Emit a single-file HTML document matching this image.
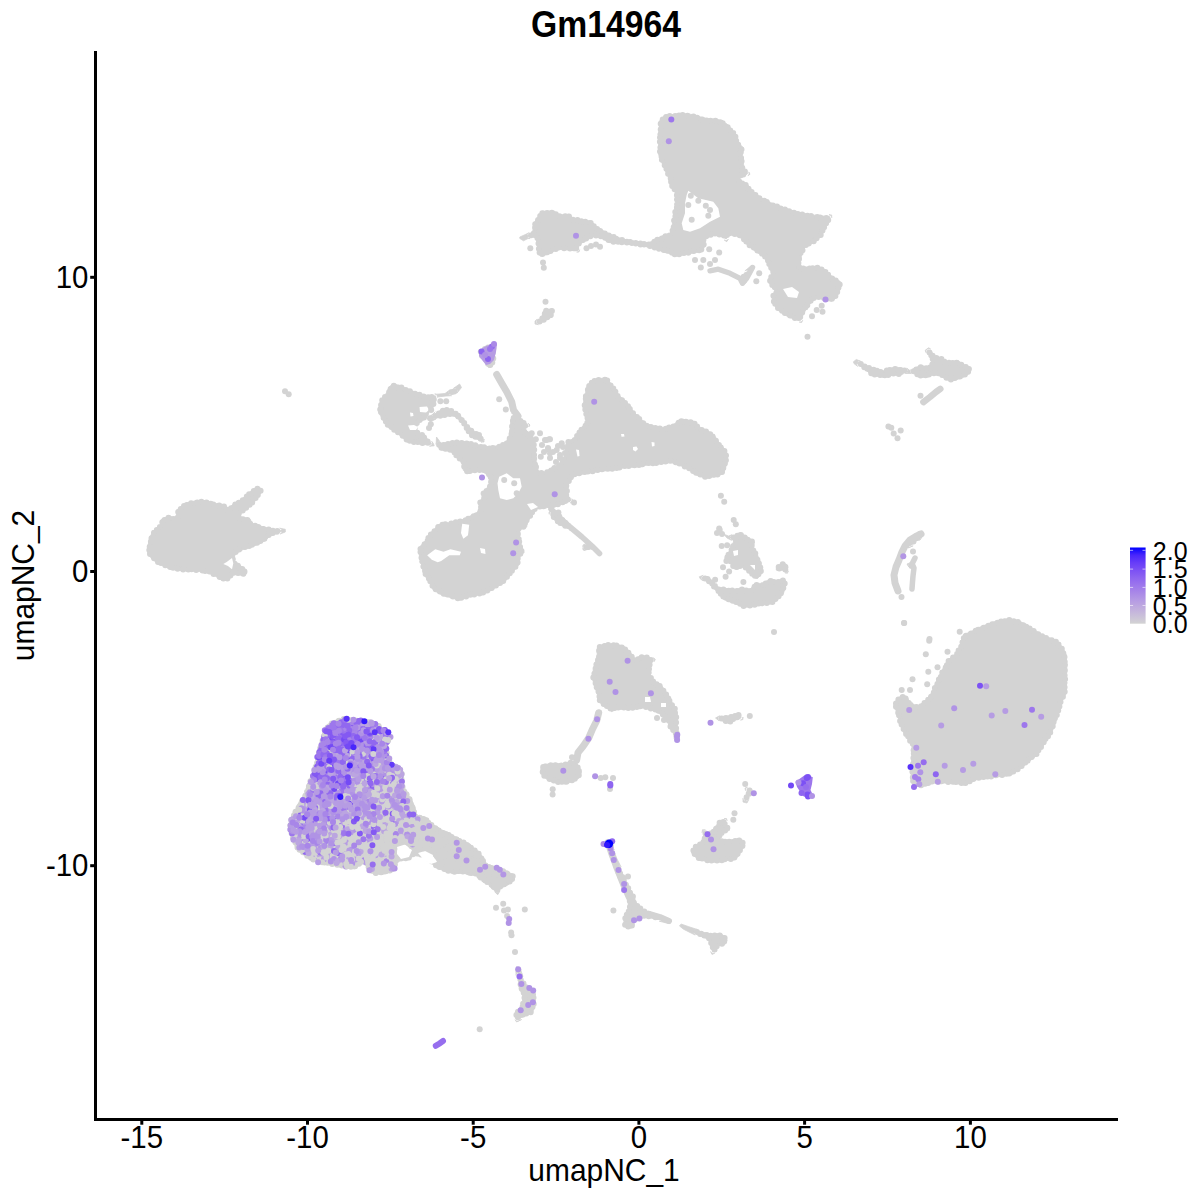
<!DOCTYPE html>
<html><head><meta charset="utf-8"><style>
html,body{margin:0;padding:0;background:#fff;}
svg{display:block;}
text{font-family:"Liberation Sans",sans-serif;}
</style></head><body>
<svg width="1200" height="1200" viewBox="0 0 1200 1200">
<defs>
<linearGradient id="lg" x1="0" y1="1" x2="0" y2="0">
<stop offset="0.00" stop-color="#d3d3d3"/>
<stop offset="0.10" stop-color="#cac0d9"/>
<stop offset="0.20" stop-color="#c1aede"/>
<stop offset="0.30" stop-color="#b69ce3"/>
<stop offset="0.40" stop-color="#aa89e7"/>
<stop offset="0.50" stop-color="#9d77ec"/>
<stop offset="0.60" stop-color="#8e65f0"/>
<stop offset="0.70" stop-color="#7c51f4"/>
<stop offset="0.80" stop-color="#673df8"/>
<stop offset="0.90" stop-color="#4926fb"/>
<stop offset="1.00" stop-color="#0000ff"/>
</linearGradient>
</defs>
<rect width="1200" height="1200" fill="#fff"/>
<g fill="#d3d3d3" stroke="#d3d3d3" stroke-width="0.8" stroke-linejoin="round">
<polygon points="522.4,237.9 523.6,238.6 527.1,236.8 527.3,236.7 527.5,236.7 527.6,236.6 527.8,236.6 528.0,236.6 534.0,236.6 534.2,236.6 534.4,236.6 534.5,236.7 534.7,236.7 534.9,236.8 535.0,236.9 535.2,237.0 535.3,237.1 535.4,237.2 535.5,237.4 535.6,237.5 535.7,237.7 535.8,237.9 535.8,238.0 537.3,244.0 537.4,244.2 537.4,244.4 538.1,254.0 540.5,256.0 546.9,254.7 554.2,251.1 554.4,251.0 558.9,249.5 559.1,249.4 559.3,249.4 559.4,249.4 559.6,249.4 570.1,250.1 577.5,250.1 578.7,245.5 578.7,245.4 578.8,245.2 578.9,245.0 579.0,244.9 579.1,244.7 579.2,244.6 579.4,244.5 579.5,244.4 587.0,239.9 587.2,239.8 593.2,236.8 593.3,236.7 593.5,236.7 593.7,236.6 593.8,236.6 594.0,236.6 594.2,236.6 594.4,236.6 601.9,238.1 602.1,238.2 602.3,238.3 602.5,238.4 609.6,242.6 621.1,243.4 621.1,243.4 630.1,244.1 630.3,244.1 645.3,246.4 645.5,246.5 654.5,248.7 654.6,248.7 666.6,252.5 666.7,252.5 675.3,256.1 684.7,254.8 692.9,253.1 693.0,253.1 702.0,251.6 704.8,246.2 704.8,240.0 704.8,239.8 704.8,239.6 704.9,239.4 704.9,239.3 705.0,239.1 705.1,238.9 705.2,238.8 705.4,238.6 705.5,238.5 705.7,238.4 705.8,238.3 706.0,238.2 714.3,234.9 714.5,234.9 714.7,234.8 714.9,234.8 715.1,234.8 715.3,234.8 715.4,234.9 722.1,236.5 722.3,236.5 722.5,236.6 722.6,236.6 722.8,236.7 726.2,239.0 728.4,235.7 728.5,235.5 728.6,235.4 728.8,235.2 728.9,235.1 729.1,235.0 729.3,234.9 729.4,234.9 729.6,234.8 729.8,234.8 730.0,234.8 730.2,234.8 730.4,234.8 738.7,236.4 738.8,236.5 739.0,236.5 739.2,236.6 739.4,236.7 739.5,236.8 739.6,237.0 749.5,246.9 756.1,251.8 761.1,255.1 761.2,255.2 761.3,255.4 766.3,260.4 766.5,260.5 766.6,260.6 766.7,260.8 766.7,260.9 766.8,261.1 768.5,266.0 771.7,272.5 771.8,272.6 771.8,272.8 771.9,273.0 771.9,273.1 771.9,273.3 771.9,273.5 771.9,273.7 771.8,273.9 771.8,274.0 771.7,274.2 771.6,274.3 768.6,278.9 768.6,282.6 774.7,289.5 774.8,289.7 774.9,289.9 775.0,290.0 775.1,290.2 775.2,290.4 775.2,290.6 775.2,290.7 775.2,290.9 775.2,291.1 775.1,291.3 775.1,291.5 775.0,291.7 774.9,291.8 774.8,292.0 772.0,295.6 772.6,302.6 778.0,310.3 787.6,316.6 793.8,319.0 800.6,320.3 803.3,314.2 803.4,314.0 808.4,305.7 808.5,305.5 808.7,305.4 815.4,298.7 815.5,298.5 815.6,298.4 815.8,298.3 816.0,298.2 816.2,298.2 816.3,298.1 816.5,298.1 816.7,298.1 816.9,298.1 817.1,298.1 825.4,299.8 825.4,299.9 831.3,301.3 835.3,298.6 839.1,292.5 841.3,285.0 840.1,281.3 832.3,276.6 832.2,276.5 832.1,276.4 831.9,276.3 825.6,269.9 817.9,266.1 810.2,266.9 810.0,266.9 801.7,266.9 801.5,266.9 801.3,266.9 801.2,266.8 801.0,266.8 800.8,266.7 800.6,266.6 800.5,266.5 800.4,266.3 800.2,266.2 800.1,266.1 800.0,265.9 799.9,265.7 799.9,265.6 799.8,265.4 799.8,265.2 799.8,265.0 799.8,264.8 799.8,264.6 801.4,256.3 801.5,256.2 801.5,256.0 804.9,247.6 805.0,247.4 805.1,247.2 805.2,247.1 805.4,246.9 805.5,246.8 805.7,246.7 805.9,246.6 815.6,241.7 821.7,235.6 826.6,225.9 826.7,225.7 826.8,225.6 829.8,221.4 829.8,216.7 814.8,215.2 814.7,215.2 799.7,212.7 799.4,212.6 786.1,208.5 786.0,208.5 772.6,203.5 772.5,203.4 762.5,198.4 762.3,198.3 762.2,198.2 753.9,192.3 753.8,192.2 753.6,192.1 753.5,192.0 747.1,184.0 740.9,180.9 740.7,180.8 740.5,180.7 740.4,180.6 740.3,180.5 740.2,180.3 740.1,180.2 740.0,180.0 739.9,179.8 739.9,179.7 739.8,179.5 739.8,179.3 739.8,179.1 739.8,178.9 739.9,178.7 739.9,178.6 740.0,178.4 740.1,178.2 740.2,178.1 740.3,177.9 740.4,177.8 740.5,177.7 740.7,177.6 740.9,177.5 745.7,175.1 747.5,173.7 744.1,167.6 744.1,167.5 744.0,167.3 743.9,167.1 743.9,167.0 742.3,155.3 742.3,155.0 742.3,154.8 743.0,147.4 738.7,143.0 738.5,142.9 738.4,142.8 738.3,142.6 738.3,142.5 738.2,142.3 738.1,142.1 738.1,142.0 737.4,136.5 733.5,131.2 727.1,124.0 717.8,119.4 706.6,118.6 706.4,118.6 706.2,118.5 691.4,114.4 681.7,113.6 665.8,115.1 659.4,120.9 659.4,125.0 659.4,125.2 658.6,135.1 658.6,154.6 662.5,164.3 668.4,177.5 668.5,177.7 668.5,177.8 670.9,187.4 674.8,192.1 674.9,192.2 675.0,192.4 675.1,192.6 675.1,192.8 675.2,192.9 675.2,193.1 676.1,203.1 676.1,203.3 676.1,203.6 676.0,203.8 674.4,210.4 672.7,222.0 672.7,222.0 671.1,232.0 671.0,232.2 671.0,232.4 670.9,232.5 670.8,232.7 670.7,232.8 670.6,233.0 670.5,233.1 670.3,233.2 670.2,233.3 670.0,233.4 669.8,233.5 669.7,233.5 664.7,234.8 657.6,238.4 657.5,238.4 648.8,242.7 648.7,242.8 648.5,242.8 648.3,242.9 648.2,242.9 648.0,242.9 647.8,242.9 637.3,241.9 637.2,241.9 628.2,240.4 628.0,240.3 617.5,237.3 617.3,237.2 606.8,232.7 606.5,232.6 599.0,228.1 599.0,228.1 593.0,224.4 592.9,224.3 592.7,224.2 592.6,224.1 592.5,224.0 592.4,223.8 592.3,223.7 592.2,223.5 591.2,220.8 583.4,220.2 583.1,220.2 572.6,217.9 572.4,217.8 572.2,217.7 572.1,217.7 571.9,217.6 571.8,217.5 571.6,217.3 571.5,217.2 569.1,214.3 559.6,214.9 559.4,214.9 559.3,214.9 559.1,214.9 558.9,214.8 558.8,214.7 558.6,214.7 558.4,214.6 558.3,214.5 554.3,211.2 542.4,211.2 537.8,217.1 533.6,223.4 532.9,231.9 532.9,232.1 532.8,232.2 532.8,232.4 532.7,232.6 532.6,232.8 532.5,232.9 532.3,233.1 532.2,233.2 532.0,233.3 531.8,233.4 525.8,236.4 525.8,236.4 522.4,237.9"/>
<polygon points="530.1,235.5 534.0,235.5 534.3,235.5 534.6,235.6 534.8,235.6 535.1,235.7 535.4,235.8 535.6,236.0 535.8,236.1 536.1,236.3 536.3,236.5 536.4,236.7 536.6,237.0 536.7,237.2 536.8,237.5 536.9,237.8 538.4,243.8 538.5,244.0 538.5,244.3 539.2,253.5 540.8,254.8 546.5,253.6 553.7,250.1 554.1,250.0 558.6,248.5 558.8,248.4 559.1,248.3 559.4,248.3 559.7,248.3 570.1,249.0 576.7,249.0 577.6,245.3 577.7,245.0 577.8,244.7 577.9,244.5 578.1,244.2 578.3,244.0 578.5,243.8 578.7,243.6 579.0,243.4 586.5,238.9 586.7,238.8 592.7,235.8 592.9,235.7 593.2,235.6 593.5,235.5 593.7,235.5 594.0,235.5 594.3,235.5 594.6,235.6 602.1,237.1 602.4,237.1 602.7,237.3 603.0,237.4 609.9,241.6 621.2,242.3 621.2,242.3 630.2,243.0 630.5,243.0 645.5,245.3 645.7,245.4 654.7,247.6 654.9,247.6 666.9,251.4 667.1,251.5 675.4,254.9 684.5,253.7 692.7,252.1 692.8,252.0 701.3,250.6 703.7,246.0 703.7,240.0 703.7,239.7 703.8,239.4 703.8,239.1 703.9,238.8 704.1,238.6 704.2,238.3 704.4,238.1 704.6,237.9 704.8,237.7 705.1,237.5 705.3,237.3 705.6,237.2 713.9,233.9 714.2,233.8 714.5,233.7 714.8,233.7 715.1,233.7 715.4,233.7 715.7,233.8 722.4,235.4 722.7,235.5 722.9,235.6 723.2,235.7 723.4,235.8 725.9,237.5 727.5,235.0 727.7,234.8 727.9,234.6 728.1,234.4 728.3,234.2 728.6,234.1 728.8,233.9 729.1,233.8 729.4,233.8 729.7,233.7 730.0,233.7 730.3,233.7 730.6,233.8 738.9,235.4 739.2,235.4 739.4,235.5 739.7,235.7 740.0,235.8 740.2,236.0 740.4,236.2 750.3,246.0 756.7,250.9 761.7,254.2 761.9,254.4 762.1,254.6 767.1,259.6 767.3,259.8 767.5,260.0 767.6,260.2 767.7,260.5 767.8,260.7 769.5,265.5 772.7,272.0 772.8,272.2 772.9,272.5 773.0,272.8 773.0,273.1 773.0,273.3 773.0,273.6 772.9,273.9 772.9,274.2 772.8,274.4 772.6,274.7 772.5,275.0 769.7,279.2 769.7,282.2 775.6,288.8 775.7,289.1 775.9,289.3 776.0,289.6 776.1,289.8 776.2,290.1 776.3,290.4 776.3,290.7 776.3,291.0 776.3,291.3 776.2,291.6 776.1,291.9 776.0,292.2 775.8,292.4 775.7,292.7 773.1,295.9 773.7,302.2 778.8,309.5 788.1,315.6 794.1,317.9 799.9,319.1 802.3,313.8 802.4,313.5 807.4,305.2 807.6,304.9 807.9,304.6 814.6,297.9 814.8,297.7 815.0,297.5 815.3,297.4 815.6,297.2 815.8,297.1 816.1,297.1 816.4,297.0 816.7,297.0 817.0,297.0 817.3,297.1 825.6,298.8 825.7,298.8 831.1,300.1 834.5,297.9 838.0,292.1 840.2,285.0 839.2,282.0 831.8,277.6 831.6,277.4 831.4,277.3 831.2,277.1 824.9,270.8 817.7,267.3 810.3,268.0 810.0,268.0 801.7,268.0 801.4,268.0 801.1,267.9 800.8,267.9 800.6,267.8 800.3,267.6 800.0,267.5 799.8,267.3 799.6,267.1 799.4,266.9 799.2,266.7 799.1,266.4 798.9,266.2 798.8,265.9 798.8,265.6 798.7,265.3 798.7,265.0 798.7,264.7 798.8,264.4 800.4,256.1 800.4,255.8 800.5,255.6 803.9,247.2 804.0,246.9 804.2,246.6 804.4,246.4 804.6,246.2 804.8,245.9 805.1,245.8 805.4,245.6 814.9,240.8 820.8,234.9 825.6,225.4 825.7,225.1 825.9,224.9 828.7,221.0 828.7,217.7 814.7,216.3 814.5,216.3 799.5,213.8 799.1,213.7 785.8,209.6 785.7,209.5 772.3,204.5 772.0,204.4 762.0,199.4 761.8,199.3 761.6,199.1 753.3,193.2 753.0,193.1 752.8,192.9 752.7,192.7 746.4,184.9 740.4,181.9 740.1,181.7 739.9,181.6 739.6,181.4 739.4,181.2 739.3,181.0 739.1,180.7 739.0,180.5 738.9,180.2 738.8,179.9 738.7,179.6 738.7,179.3 738.7,179.1 738.7,178.8 738.8,178.5 738.9,178.2 739.0,177.9 739.1,177.7 739.3,177.4 739.4,177.2 739.6,177.0 739.9,176.8 740.1,176.7 740.4,176.5 745.1,174.1 746.1,173.4 743.2,168.2 743.1,167.9 743.0,167.7 742.9,167.4 742.8,167.1 741.2,155.4 741.2,155.1 741.2,154.7 741.9,147.8 737.9,143.8 737.7,143.6 737.5,143.4 737.4,143.2 737.3,142.9 737.2,142.6 737.1,142.4 737.0,142.1 736.3,136.9 732.7,131.9 726.4,124.9 717.5,120.5 706.5,119.7 706.2,119.7 705.9,119.6 691.2,115.5 681.7,114.7 666.3,116.2 660.5,121.3 660.5,125.0 660.5,125.2 659.7,135.1 659.7,154.4 663.6,163.8 669.4,177.1 669.5,177.3 669.6,177.6 671.9,186.9 675.6,191.4 675.8,191.6 676.0,191.9 676.1,192.2 676.2,192.4 676.2,192.7 676.3,193.0 677.2,203.0 677.2,203.4 677.2,203.7 677.1,204.0 675.4,210.6 673.8,222.1 673.8,222.2 672.2,232.2 672.1,232.5 672.0,232.7 671.9,233.0 671.8,233.3 671.6,233.5 671.4,233.7 671.2,233.9 671.0,234.1 670.7,234.3 670.5,234.4 670.2,234.5 669.9,234.6 665.1,235.8 658.1,239.4 658.0,239.4 649.3,243.7 649.1,243.8 648.8,243.9 648.5,244.0 648.3,244.0 648.0,244.0 647.7,244.0 637.2,243.0 637.0,243.0 628.0,241.5 627.7,241.4 617.2,238.4 616.8,238.3 606.3,233.8 606.0,233.6 598.5,229.1 598.4,229.1 592.4,225.4 592.2,225.2 592.0,225.0 591.8,224.8 591.6,224.6 591.5,224.4 591.3,224.2 591.2,223.9 590.4,221.8 583.3,221.3 582.9,221.2 572.4,218.9 572.1,218.9 571.8,218.8 571.6,218.6 571.3,218.5 571.1,218.3 570.9,218.1 570.7,217.9 568.6,215.4 559.7,216.0 559.4,216.0 559.1,216.0 558.9,215.9 558.6,215.9 558.3,215.8 558.1,215.6 557.8,215.5 557.6,215.3 553.9,212.3 543.0,212.3 538.7,217.7 534.7,223.8 534.0,232.0 533.9,232.3 533.9,232.6 533.8,232.9 533.6,233.1 533.5,233.4 533.3,233.6 533.1,233.9 532.9,234.1 532.6,234.2 532.3,234.4 530.1,235.5"/>
<polygon points="519.8,238.5 523.5,240.8 528.0,238.5 530.1,238.5 529.8,238.5 529.5,238.4 529.2,238.4 528.9,238.3 528.7,238.1 528.4,238.0 528.2,237.8 528.0,237.6 527.8,237.4 527.6,237.1 527.4,236.9 527.3,236.6 527.2,236.3 527.2,236.0 527.1,235.7 527.1,235.5 527.1,235.2 527.2,234.9 527.3,234.6 527.4,234.3 527.5,234.0 527.7,233.8 527.8,233.5 528.0,233.3 528.3,233.1 528.5,233.0 528.8,232.8 525.0,234.7 519.8,237.0 519.8,238.5"/>
<polygon points="579.0,252.0 579.6,249.7 579.5,250.0 579.4,250.3 579.2,250.5 579.1,250.8 578.9,251.0 578.7,251.2 578.5,251.4 578.3,251.5 578.0,251.7 577.8,251.8 577.5,251.9 577.2,251.9 576.9,252.0 576.7,252.0 579.0,252.0"/>
<polygon points="726.7,241.7 728.4,239.2 728.2,239.4 728.0,239.6 727.8,239.8 727.5,240.0 727.3,240.2 727.0,240.3 726.7,240.4 726.5,240.5 726.2,240.5 725.9,240.5 725.6,240.5 725.3,240.4 725.0,240.4 724.7,240.3 724.4,240.1 724.2,240.0 726.7,241.7"/>
<polygon points="801.7,322.5 802.7,320.3 802.5,320.5 802.4,320.8 802.2,321.0 802.0,321.2 801.8,321.4 801.6,321.6 801.3,321.7 801.0,321.9 800.8,322.0 800.5,322.0 800.2,322.1 799.9,322.1 799.6,322.1 799.3,322.0 801.7,322.5"/>
<polygon points="831.7,215.0 829.0,214.7 829.3,214.8 829.6,214.8 829.9,214.9 830.1,215.1 830.4,215.2 830.6,215.4 830.8,215.6 831.0,215.8 831.2,216.0 831.3,216.3 831.5,216.6 831.6,216.8 831.6,217.1 831.7,217.4 831.7,217.7 831.7,215.0"/>
<polygon points="750.0,174.2 748.7,171.9 748.9,172.2 749.0,172.4 749.0,172.7 749.1,173.0 749.1,173.3 749.1,173.6 749.1,173.9 749.0,174.1 748.9,174.4 748.8,174.7 748.7,174.9 748.5,175.2 748.3,175.4 748.1,175.6 747.9,175.8 750.0,174.2"/>
<polygon points="742.2,275.7 744.0,281.8 746.3,279.9 748.7,270.2 742.2,275.7"/>
<polygon points="743.4,276.0 744.6,279.9 745.3,279.3 746.9,273.2 743.4,276.0"/>
<polygon points="743.0,285.0 746.5,282.2 746.2,282.4 746.0,282.5 745.7,282.7 745.4,282.8 745.2,282.8 744.9,282.9 744.6,282.9 744.3,282.9 744.0,282.8 743.7,282.7 743.4,282.6 743.2,282.5 742.9,282.4 742.7,282.2 742.5,282.0 742.3,281.8 742.1,281.5 741.9,281.3 741.8,281.0 741.7,280.7 743.0,285.0"/>
<polygon points="752.0,265.0 744.9,270.9 745.2,270.7 745.4,270.6 745.7,270.4 745.9,270.3 746.2,270.3 746.5,270.2 746.8,270.2 747.1,270.2 747.4,270.2 747.7,270.3 747.9,270.4 748.2,270.5 748.5,270.6 748.7,270.8 748.9,271.0 749.1,271.2 749.3,271.4 749.5,271.7 749.6,271.9 749.7,272.2 749.8,272.5 749.8,272.8 749.9,273.1 749.9,273.3 749.8,273.6 749.8,273.9 752.0,265.0"/>
<polygon points="544.3,309.8 540.8,318.7 540.7,318.9 540.6,319.0 540.5,319.2 540.4,319.3 540.3,319.4 540.1,319.5 536.9,321.9 536.9,322.4 539.7,323.0 549.2,318.3 549.3,318.2 552.1,317.2 552.1,314.0 552.1,313.8 552.1,313.6 552.2,313.5 552.2,313.3 552.3,313.2 553.7,310.3 552.3,308.6 548.4,309.4 548.2,309.4 544.3,309.8"/>
<polygon points="539.0,321.7 539.6,321.9 548.7,317.3 548.9,317.2 551.0,316.4 551.0,314.0 551.0,313.7 551.1,313.4 551.1,313.2 551.2,312.9 551.3,312.7 552.4,310.4 551.9,309.8 548.6,310.4 548.3,310.5 545.1,310.8 541.8,319.1 541.7,319.4 541.5,319.6 541.4,319.8 541.2,320.0 541.0,320.2 540.8,320.4 539.0,321.7"/>
<polygon points="535.0,321.0 535.0,324.0 538.4,324.7 538.1,324.6 537.8,324.5 537.6,324.4 537.3,324.2 537.1,324.0 536.9,323.8 536.7,323.6 536.5,323.4 536.3,323.1 536.2,322.8 536.1,322.6 536.1,322.3 536.0,322.0 536.0,321.7 536.0,321.4 536.1,321.1 536.2,320.8 536.3,320.5 536.4,320.2 536.6,320.0 536.8,319.7 537.0,319.5 537.2,319.3 535.0,321.0"/>
<polygon points="479.5,350.9 479.9,354.5 481.6,357.9 485.3,361.7 485.5,361.8 485.6,362.0 485.7,362.2 488.2,367.2 490.4,367.5 493.3,365.0 494.6,359.8 494.1,354.2 494.1,354.0 494.1,350.0 494.1,349.8 494.1,349.6 494.2,349.4 494.3,349.3 494.3,349.1 496.1,345.8 494.4,344.1 490.6,344.8 483.9,347.7 479.5,350.9"/>
<polygon points="480.7,351.4 480.9,354.2 482.5,357.2 486.1,360.9 486.3,361.1 486.5,361.4 486.7,361.7 489.0,366.2 490.0,366.4 492.3,364.4 493.5,359.8 493.0,354.2 493.0,354.0 493.0,350.0 493.0,349.7 493.1,349.4 493.1,349.1 493.2,348.8 493.4,348.5 494.8,346.0 494.0,345.3 490.9,345.9 484.5,348.6 480.7,351.4"/>
<polygon points="147.9,546.2 147.9,553.4 152.0,559.3 159.6,564.3 169.8,568.9 182.8,570.8 190.7,570.8 190.8,570.8 200.1,571.4 200.3,571.4 200.4,571.4 209.7,573.4 209.9,573.5 210.0,573.5 210.1,573.6 215.5,576.3 215.7,576.4 223.0,580.7 229.5,579.0 231.7,575.7 231.8,575.5 231.9,575.4 232.1,575.2 232.2,575.1 232.4,575.0 232.6,574.9 232.7,574.9 232.9,574.8 233.1,574.8 233.3,574.8 238.7,574.8 238.9,574.8 239.1,574.8 244.6,575.9 246.7,573.4 246.2,569.8 237.7,563.6 235.2,562.4 235.0,562.3 234.8,562.2 234.7,562.1 234.6,561.9 234.4,561.8 234.3,561.6 234.3,561.5 234.2,561.3 234.1,561.1 234.1,560.9 234.1,560.7 234.1,555.3 234.1,555.1 234.1,554.9 234.2,554.7 234.3,554.6 234.3,554.4 234.4,554.2 234.6,554.1 234.7,553.9 234.8,553.8 235.0,553.7 235.2,553.6 243.2,549.6 243.3,549.5 243.4,549.5 251.4,546.9 256.5,545.0 265.6,540.4 270.7,535.4 270.8,535.2 270.9,535.1 271.1,535.0 271.2,535.0 271.4,534.9 279.4,532.2 283.1,530.8 278.4,529.9 271.8,529.2 271.6,529.2 271.5,529.1 262.2,526.5 262.2,526.5 252.8,523.8 252.6,523.8 252.4,523.7 252.3,523.6 252.1,523.5 252.0,523.4 251.9,523.2 251.7,523.1 251.6,522.9 251.6,522.8 251.5,522.6 250.5,519.5 246.2,517.9 241.1,517.2 240.9,517.2 240.7,517.1 240.5,517.0 240.3,516.9 240.2,516.8 240.0,516.7 239.9,516.6 239.8,516.5 239.7,516.3 239.6,516.1 239.5,516.0 239.5,515.8 239.4,515.6 239.4,515.4 239.4,515.2 239.4,515.0 239.5,514.8 239.5,514.7 239.6,514.5 239.7,514.3 239.8,514.2 239.9,514.0 240.0,513.9 240.2,513.8 245.5,509.8 253.3,503.4 258.4,496.9 261.9,491.1 261.1,488.7 257.4,486.9 251.8,490.2 245.3,496.1 245.2,496.1 239.9,500.7 239.8,500.9 239.6,501.0 233.0,504.3 229.2,507.5 229.1,507.6 228.9,507.7 228.7,507.8 228.6,507.8 228.4,507.9 228.2,507.9 228.0,507.9 227.8,507.9 227.6,507.9 227.4,507.8 227.3,507.8 227.1,507.7 226.9,507.6 226.8,507.5 223.2,504.5 214.4,503.2 214.3,503.1 214.1,503.1 206.4,500.6 196.2,500.6 186.1,503.1 181.1,506.8 181.1,506.8 177.1,509.7 176.6,515.5 176.6,515.7 176.5,515.8 176.5,516.0 176.4,516.2 176.3,516.3 176.2,516.5 176.1,516.6 175.9,516.8 175.8,516.9 175.6,517.0 175.4,517.1 175.3,517.1 175.1,517.2 174.9,517.2 174.7,517.2 174.5,517.2 174.3,517.2 168.3,516.0 161.6,519.3 160.5,523.8 160.5,523.9 160.4,524.1 160.4,524.2 160.3,524.4 160.2,524.5 160.0,524.6 152.3,532.4 149.8,537.3 147.9,546.2"/>
<polygon points="149.0,546.3 149.0,553.1 152.8,558.5 160.1,563.4 170.1,567.8 182.9,569.7 190.7,569.7 190.9,569.7 200.2,570.3 200.4,570.3 200.6,570.4 209.9,572.4 210.2,572.4 210.4,572.5 210.6,572.6 216.0,575.3 216.2,575.4 223.2,579.5 228.8,578.1 230.8,575.1 231.0,574.8 231.2,574.6 231.4,574.4 231.6,574.2 231.9,574.1 232.1,573.9 232.4,573.8 232.7,573.8 233.0,573.7 233.3,573.7 238.7,573.7 239.0,573.7 239.3,573.8 244.2,574.7 245.6,573.1 245.2,570.4 237.2,564.6 234.7,563.4 234.4,563.3 234.2,563.1 233.9,562.9 233.7,562.7 233.5,562.4 233.4,562.2 233.2,561.9 233.1,561.6 233.1,561.3 233.0,561.0 233.0,560.7 233.0,555.3 233.0,555.0 233.1,554.7 233.1,554.4 233.2,554.1 233.4,553.9 233.5,553.6 233.7,553.4 233.9,553.1 234.1,552.9 234.4,552.8 234.7,552.6 242.7,548.6 242.9,548.5 243.1,548.4 251.0,545.9 256.1,543.9 264.9,539.5 269.9,534.6 270.1,534.4 270.3,534.2 270.5,534.1 270.8,534.0 271.0,533.9 279.0,531.2 279.1,531.1 278.3,531.0 271.7,530.3 271.4,530.2 271.2,530.2 261.9,527.6 261.9,527.6 252.5,524.9 252.2,524.8 251.9,524.7 251.7,524.5 251.4,524.4 251.2,524.2 251.0,523.9 250.8,523.7 250.7,523.5 250.6,523.2 250.4,522.9 249.6,520.3 246.0,518.9 240.9,518.3 240.6,518.2 240.3,518.1 240.1,518.0 239.8,517.9 239.5,517.7 239.3,517.6 239.1,517.3 238.9,517.1 238.7,516.9 238.6,516.6 238.5,516.3 238.4,516.1 238.3,515.8 238.3,515.5 238.3,515.2 238.3,514.9 238.4,514.6 238.5,514.3 238.6,514.0 238.7,513.8 238.9,513.5 239.1,513.3 239.3,513.1 239.5,512.9 244.9,508.9 252.5,502.6 257.5,496.3 260.7,490.9 260.2,489.4 257.5,488.1 252.5,491.1 246.0,496.9 246.0,497.0 240.7,501.6 240.4,501.8 240.1,502.0 233.7,505.2 229.9,508.3 229.7,508.5 229.4,508.6 229.2,508.8 228.9,508.9 228.6,508.9 228.3,509.0 228.0,509.0 227.7,509.0 227.4,508.9 227.1,508.9 226.8,508.8 226.6,508.6 226.3,508.5 226.1,508.3 222.7,505.5 214.3,504.3 214.0,504.2 213.8,504.2 206.2,501.7 196.4,501.7 186.6,504.1 181.8,507.7 181.8,507.7 178.2,510.3 177.7,515.6 177.6,515.9 177.6,516.2 177.5,516.4 177.4,516.7 177.2,516.9 177.0,517.2 176.8,517.4 176.6,517.6 176.4,517.8 176.1,517.9 175.9,518.1 175.6,518.2 175.3,518.2 175.0,518.3 174.7,518.3 174.4,518.3 174.1,518.2 168.4,517.1 162.6,520.1 161.6,524.0 161.5,524.3 161.4,524.5 161.3,524.8 161.2,525.0 161.0,525.2 160.8,525.4 153.2,533.1 150.9,537.7 149.0,546.3"/>
<polygon points="285.3,532.0 285.3,529.3 279.7,528.2 280.0,528.3 280.2,528.4 280.5,528.5 280.8,528.6 281.0,528.8 281.2,529.0 281.4,529.2 281.6,529.5 281.8,529.7 281.9,530.0 282.0,530.3 282.0,530.6 282.1,530.9 282.1,531.2 282.1,531.5 282.0,531.8 281.9,532.1 281.8,532.3 281.7,532.6 281.5,532.9 281.4,533.1 281.2,533.3 280.9,533.5 280.7,533.7 280.4,533.8 280.2,533.9 285.3,532.0"/>
<polygon points="378.6,408.4 379.3,413.6 383.3,420.7 388.0,426.9 396.1,432.7 396.2,432.7 403.7,438.5 403.8,438.6 403.9,438.7 404.0,438.9 406.1,441.6 413.6,443.1 423.4,444.8 431.5,444.1 426.8,438.5 420.1,434.6 419.9,434.5 419.7,434.4 419.6,434.3 419.5,434.1 419.4,434.0 416.4,429.0 416.3,428.8 416.2,428.6 416.2,428.5 416.1,428.3 416.1,428.1 416.1,427.9 416.1,427.7 416.2,427.5 416.2,427.3 416.3,427.2 418.3,423.2 418.4,423.0 418.5,422.9 418.6,422.7 418.7,422.6 418.9,422.5 419.0,422.4 419.2,422.3 424.7,419.5 427.2,416.2 428.1,410.5 428.2,410.3 428.2,410.2 428.3,410.0 428.4,409.8 428.5,409.7 428.6,409.5 428.7,409.4 428.8,409.3 429.0,409.2 429.1,409.1 429.3,409.0 432.1,407.9 434.7,404.3 435.6,396.8 435.6,396.6 435.7,396.4 435.8,396.2 435.8,396.1 435.9,396.0 424.9,395.2 424.7,395.2 424.5,395.1 424.4,395.1 412.7,391.0 412.6,391.0 402.6,386.8 393.6,383.8 389.8,386.3 386.7,392.5 386.6,392.7 386.5,392.9 380.9,400.1 378.6,408.4"/>
<polygon points="447.5,394.0 454.1,393.6 459.2,387.3 459.0,386.8 454.4,390.0 454.3,390.1 454.1,390.2 450.0,392.1 447.5,394.0"/>
<polygon points="379.8,408.5 380.4,413.2 384.2,420.1 388.8,426.1 396.7,431.8 396.8,431.8 404.3,437.6 404.5,437.8 404.7,438.0 404.9,438.2 406.7,440.6 413.9,442.1 423.4,443.7 429.3,443.2 426.0,439.3 419.5,435.6 419.3,435.4 419.0,435.2 418.8,435.0 418.6,434.8 418.4,434.5 415.4,429.5 415.3,429.3 415.2,429.0 415.1,428.7 415.0,428.4 415.0,428.1 415.0,427.8 415.0,427.5 415.1,427.2 415.2,426.9 415.3,426.7 417.3,422.7 417.5,422.4 417.6,422.2 417.8,422.0 418.0,421.8 418.2,421.6 418.4,421.5 418.7,421.3 424.0,418.6 426.2,415.8 427.0,410.3 427.1,410.0 427.2,409.8 427.3,409.5 427.4,409.3 427.6,409.0 427.8,408.8 428.0,408.6 428.2,408.4 428.4,408.3 428.6,408.1 428.9,408.0 431.4,407.0 433.6,403.9 434.5,397.0 424.8,396.3 424.5,396.3 424.3,396.2 424.0,396.1 412.3,392.0 412.1,392.0 402.2,387.8 393.7,385.0 390.6,387.1 387.7,393.0 387.5,393.3 387.4,393.5 381.9,400.6 379.8,408.5"/>
<polygon points="451.4,392.7 453.5,392.6 454.6,391.2 454.6,391.2 451.4,392.7"/>
<polygon points="434.2,445.8 433.3,443.3 431.6,441.3 431.8,441.5 431.9,441.8 432.1,442.0 432.2,442.3 432.2,442.6 432.3,442.9 432.3,443.2 432.3,443.5 432.2,443.8 432.2,444.1 432.1,444.3 431.9,444.6 431.8,444.9 431.6,445.1 431.4,445.3 431.2,445.5 430.9,445.7 430.7,445.9 430.4,446.0 430.1,446.1 429.8,446.1 429.5,446.2 434.2,445.8"/>
<polygon points="437.5,397.0 446.0,396.0 451.6,395.7 451.3,395.7 451.0,395.7 450.7,395.6 450.4,395.5 450.1,395.4 449.9,395.3 449.6,395.1 449.4,394.9 449.2,394.7 449.0,394.5 448.8,394.2 448.7,394.0 448.6,393.7 448.5,393.4 448.4,393.1 448.4,392.8 448.4,392.5 448.4,392.3 448.5,392.0 448.6,391.7 448.7,391.4 448.8,391.1 449.0,390.9 449.2,390.7 449.4,390.5 449.6,390.3 449.9,390.1 450.1,390.0 449.0,390.5 445.0,393.5 436.7,394.2 434.7,394.0 435.0,394.1 435.3,394.2 435.6,394.3 435.9,394.4 436.1,394.5 436.4,394.7 436.6,394.9 436.8,395.1 437.0,395.4 437.1,395.6 437.3,395.9 437.4,396.2 437.4,396.5 437.5,396.8 437.5,397.1 437.4,397.4 437.5,397.0"/>
<polygon points="461.5,387.5 459.6,384.0 453.3,388.5 453.5,388.4 453.8,388.3 454.1,388.2 454.4,388.2 454.7,388.2 455.0,388.2 455.2,388.2 455.5,388.3 455.8,388.4 456.1,388.5 456.3,388.7 456.6,388.9 456.8,389.1 457.0,389.3 457.1,389.5 457.3,389.8 457.4,390.0 457.5,390.3 457.6,390.6 457.6,390.9 457.6,391.2 457.6,391.5 457.6,391.8 457.5,392.0 457.4,392.3 457.3,392.6 457.1,392.8 457.0,393.1 461.5,387.5"/>
<polygon points="431.1,417.8 431.4,419.2 435.2,417.3 435.3,417.2 435.5,417.2 435.6,417.1 435.8,417.1 436.0,417.1 443.8,417.1 451.5,415.2 451.7,415.1 451.9,415.1 452.1,415.1 452.3,415.1 452.5,415.2 452.7,415.2 452.9,415.3 453.1,415.4 459.1,419.4 459.2,419.5 459.4,419.7 459.5,419.8 463.5,424.8 463.6,424.9 463.6,425.1 467.6,431.9 471.2,436.5 476.7,439.2 480.2,440.1 482.1,440.1 482.1,437.4 480.6,434.4 475.2,431.7 475.0,431.6 474.8,431.5 468.8,426.5 468.6,426.3 468.5,426.2 460.6,416.3 456.9,412.6 451.4,409.8 445.1,408.5 440.9,409.7 434.2,415.4 434.1,415.5 431.1,417.8"/>
<polygon points="435.1,416.1 435.2,416.1 435.4,416.1 435.7,416.0 436.0,416.0 443.6,416.0 451.3,414.1 451.6,414.0 451.9,414.0 452.2,414.0 452.5,414.0 452.8,414.1 453.1,414.2 453.4,414.3 453.7,414.5 459.7,418.5 459.9,418.7 460.1,418.9 460.3,419.1 464.3,424.1 464.5,424.3 464.6,424.5 468.5,431.3 471.9,435.6 477.0,438.2 480.4,439.0 481.0,439.0 481.0,437.7 479.8,435.2 474.7,432.7 474.4,432.5 474.1,432.3 468.1,427.3 467.9,427.1 467.7,426.9 459.8,417.0 456.2,413.5 451.0,410.9 445.1,409.6 441.5,410.7 435.1,416.1"/>
<polygon points="430.0,422.0 436.0,419.0 435.9,419.0 435.8,419.1 435.5,419.1 435.2,419.1 434.9,419.1 434.6,419.1 434.3,419.0 434.0,418.9 433.8,418.8 433.5,418.7 433.3,418.5 433.1,418.3 432.9,418.1 432.7,417.9 432.5,417.6 432.4,417.4 432.3,417.1 432.2,416.8 432.1,416.5 432.1,416.2 432.1,415.9 432.2,415.6 432.2,415.3 432.3,415.1 432.4,414.8 432.6,414.5 432.8,414.3 433.0,414.1 433.2,413.9 435.3,412.0 433.0,414.0 429.0,417.0 430.0,422.0"/>
<polygon points="484.0,442.0 484.0,439.0 484.0,439.3 483.9,439.6 483.9,439.9 483.8,440.1 483.6,440.4 483.5,440.7 483.3,440.9 483.1,441.1 482.9,441.3 482.7,441.5 482.4,441.6 482.1,441.8 481.9,441.9 481.6,441.9 481.3,442.0 481.0,442.0 484.0,442.0"/>
<polygon points="438.1,442.4 437.9,446.3 441.0,449.9 450.3,451.4 450.5,451.5 450.7,451.5 450.9,451.6 451.0,451.7 451.2,451.8 451.3,452.0 461.3,462.0 461.5,462.1 461.6,462.2 461.7,462.4 461.8,462.6 461.8,462.7 461.9,462.9 463.4,470.5 467.1,473.0 474.7,471.6 474.8,471.6 475.0,471.6 482.0,471.6 482.2,471.6 482.3,471.6 482.5,471.7 482.7,471.7 482.8,471.8 483.0,471.9 483.1,472.0 487.8,475.5 488.0,475.6 488.1,475.7 488.2,475.8 488.3,476.0 488.4,476.1 488.5,476.3 488.5,476.5 488.6,476.6 489.7,482.4 489.7,482.6 489.7,482.8 489.7,483.0 489.7,483.2 489.6,483.4 489.5,483.6 489.4,483.8 485.9,489.7 485.8,489.8 485.7,490.0 485.6,490.1 485.5,490.2 481.8,493.0 482.6,496.4 482.7,496.5 482.7,496.7 482.7,496.9 482.7,497.1 482.6,497.3 482.6,497.4 482.5,497.6 482.4,497.8 482.3,497.9 479.2,502.1 479.2,508.5 479.2,508.7 479.2,508.9 479.1,509.0 479.1,509.2 479.0,509.4 478.9,509.5 476.6,513.0 476.5,513.2 476.3,513.3 476.2,513.5 476.0,513.6 475.9,513.7 475.7,513.8 470.0,516.0 463.0,519.5 462.9,519.6 462.7,519.6 462.6,519.7 456.7,520.9 449.8,522.6 449.6,522.7 449.4,522.7 442.7,523.2 437.7,525.3 433.3,530.7 433.1,530.9 433.0,531.0 428.7,534.2 425.4,540.8 425.3,541.0 425.2,541.2 425.0,541.3 420.6,545.8 418.7,549.6 419.7,558.3 422.0,566.3 422.0,566.3 424.2,575.3 428.7,580.8 428.8,581.0 428.9,581.2 433.2,589.9 440.8,594.3 452.2,598.3 459.7,599.8 469.7,596.5 469.9,596.4 481.5,594.2 490.4,590.8 497.2,586.2 497.5,586.1 504.1,582.8 508.5,577.3 513.2,571.5 513.2,571.5 518.7,564.9 519.8,557.2 519.9,557.0 519.9,556.8 520.0,556.7 520.1,556.5 520.2,556.3 520.3,556.2 524.0,552.4 521.1,545.5 521.0,545.3 520.9,545.1 520.9,545.0 519.8,536.8 519.8,536.5 519.8,530.7 519.8,530.5 519.8,530.3 519.9,530.2 519.9,530.0 520.0,529.8 520.1,529.7 520.2,529.5 520.3,529.4 520.5,529.3 520.6,529.1 520.8,529.1 520.9,529.0 521.1,528.9 526.8,526.9 526.8,523.7 526.8,523.5 526.8,523.3 526.9,523.2 526.9,523.0 527.0,522.8 527.1,522.7 531.7,515.7 531.8,515.6 536.8,508.9 536.9,508.7 537.0,508.6 537.2,508.5 537.4,508.3 537.5,508.3 537.7,508.2 537.9,508.1 538.1,508.1 538.3,508.1 546.2,508.1 549.1,506.6 549.3,506.5 549.5,506.5 549.6,506.4 549.8,506.4 550.0,506.4 556.3,506.4 566.0,502.4 566.0,502.4 570.7,500.7 568.3,495.8 568.2,495.7 568.2,495.5 568.1,495.3 568.1,495.2 568.1,495.0 568.1,485.0 568.1,484.8 568.1,484.6 568.2,484.4 568.3,484.2 568.3,484.1 568.5,483.9 573.5,476.9 573.6,476.7 573.7,476.6 573.9,476.5 574.0,476.4 574.2,476.3 574.4,476.2 574.5,476.2 586.5,473.2 586.8,473.1 598.8,471.6 598.8,471.6 612.2,470.1 622.6,467.9 622.9,467.9 634.8,467.1 643.7,465.6 643.8,465.6 655.8,464.1 655.9,464.1 664.8,463.4 670.7,462.6 670.9,462.6 671.1,462.6 671.3,462.6 671.4,462.7 671.6,462.7 680.6,465.7 680.8,465.8 689.8,470.3 690.0,470.4 690.1,470.5 695.9,474.8 705.7,478.3 717.0,476.2 723.5,473.6 726.2,465.5 727.6,457.0 726.2,450.4 720.7,444.8 720.5,444.7 720.4,444.6 714.6,435.8 709.0,431.6 700.2,427.2 700.0,427.1 699.8,427.0 699.7,426.8 694.1,421.3 683.2,419.3 677.9,421.2 672.1,425.5 672.0,425.6 671.8,425.7 671.7,425.8 671.5,425.8 671.3,425.9 662.3,427.4 662.1,427.4 661.9,427.4 661.7,427.4 652.7,425.9 652.5,425.8 652.3,425.8 646.3,423.6 646.2,423.5 646.0,423.4 645.9,423.3 645.7,423.2 639.7,417.9 639.7,417.8 633.7,411.8 633.5,411.6 624.6,399.9 618.9,395.5 618.7,395.4 618.6,395.3 618.5,395.1 618.4,395.0 618.3,394.8 615.4,389.0 609.5,381.7 609.4,381.6 607.0,378.0 596.4,378.7 591.2,380.6 587.3,385.8 584.4,397.4 582.9,405.9 584.3,411.5 586.6,420.5 586.7,420.7 586.7,420.9 586.7,421.1 586.7,421.3 586.6,421.4 586.6,421.6 586.5,421.8 586.4,422.0 586.3,422.1 586.2,422.3 580.9,428.3 580.8,428.3 578.1,431.1 575.0,437.5 574.9,437.7 574.8,437.8 574.7,438.0 574.6,438.1 574.5,438.2 574.3,438.3 574.2,438.4 574.0,438.5 566.8,441.3 565.2,455.2 565.2,455.4 565.1,455.6 565.1,455.7 565.0,455.9 564.9,456.0 564.8,456.2 558.2,464.5 558.1,464.6 557.9,464.8 557.7,464.9 557.6,465.0 551.0,468.3 546.0,471.6 545.9,471.7 545.7,471.8 545.5,471.8 545.4,471.9 545.2,471.9 545.0,471.9 540.0,471.9 539.8,471.9 539.6,471.9 539.4,471.8 539.2,471.7 539.1,471.7 538.9,471.6 538.8,471.4 538.6,471.3 538.5,471.2 538.4,471.0 538.3,470.8 538.2,470.7 538.2,470.5 536.5,463.8 536.4,463.6 536.4,463.5 535.6,455.2 535.6,455.0 535.6,445.2 534.1,439.2 530.4,434.7 525.7,431.6 525.5,431.5 525.4,431.4 525.2,431.2 525.1,431.1 525.0,430.9 524.9,430.7 524.9,430.6 524.8,430.4 524.8,430.2 524.8,430.0 524.8,429.8 524.8,429.6 524.9,429.5 524.9,429.3 525.0,429.1 525.1,429.0 527.6,425.2 522.0,419.7 517.3,415.8 514.0,414.2 511.8,417.4 510.2,425.2 510.2,433.3 510.2,433.5 510.2,433.6 510.1,433.8 510.1,434.0 510.0,434.1 506.7,440.8 506.6,441.0 506.5,441.2 506.4,441.3 506.2,441.5 506.0,441.6 501.0,444.9 500.9,445.0 500.7,445.1 500.5,445.1 500.3,445.2 490.3,446.9 490.1,446.9 489.9,446.9 489.7,446.9 479.7,445.2 479.5,445.1 468.0,441.9 456.8,441.1 440.3,443.6 440.1,443.6 439.9,443.6 439.7,443.6 439.5,443.5 439.4,443.5 439.2,443.4 439.0,443.3 438.9,443.2 438.7,443.1 438.6,443.0 438.5,442.8 438.1,442.4"/>
<polygon points="439.1,444.6 439.1,446.0 441.6,448.9 450.5,450.3 450.8,450.4 451.1,450.5 451.4,450.6 451.6,450.8 451.9,451.0 452.1,451.2 462.1,461.2 462.3,461.4 462.5,461.6 462.6,461.9 462.8,462.1 462.9,462.4 462.9,462.7 464.4,469.9 467.3,471.8 474.5,470.5 474.7,470.5 475.0,470.5 482.0,470.5 482.3,470.5 482.5,470.6 482.8,470.6 483.1,470.7 483.3,470.8 483.6,470.9 483.8,471.1 488.5,474.6 488.7,474.8 488.9,475.0 489.1,475.2 489.2,475.4 489.4,475.7 489.5,475.9 489.6,476.2 489.6,476.4 490.7,482.2 490.8,482.5 490.8,482.9 490.8,483.2 490.7,483.5 490.6,483.8 490.5,484.1 490.4,484.3 486.9,490.2 486.7,490.5 486.5,490.7 486.3,490.9 486.1,491.1 483.1,493.4 483.7,496.1 483.8,496.4 483.8,496.7 483.8,497.0 483.8,497.3 483.7,497.5 483.6,497.8 483.5,498.1 483.4,498.3 483.2,498.6 480.3,502.5 480.3,508.5 480.3,508.8 480.2,509.1 480.2,509.4 480.1,509.6 480.0,509.9 479.8,510.1 477.5,513.6 477.3,513.9 477.1,514.1 476.9,514.3 476.6,514.5 476.4,514.7 476.1,514.8 470.4,517.0 463.5,520.5 463.3,520.6 463.1,520.7 462.8,520.7 457.0,521.9 450.0,523.7 449.8,523.8 449.5,523.8 443.0,524.3 438.4,526.2 434.1,531.4 433.9,531.7 433.6,531.9 429.6,535.0 426.4,541.3 426.2,541.6 426.0,541.9 425.8,542.1 421.5,546.5 419.8,549.8 420.7,558.1 423.1,565.9 423.1,566.1 425.3,574.8 429.5,580.1 429.7,580.4 429.9,580.7 434.1,589.2 441.3,593.3 452.5,597.2 459.6,598.7 469.4,595.5 469.7,595.4 481.2,593.1 489.9,589.8 496.6,585.3 497.0,585.1 503.4,581.9 507.7,576.6 512.4,570.8 512.4,570.8 517.7,564.4 518.7,557.1 518.8,556.8 518.9,556.5 519.0,556.2 519.2,555.9 519.3,555.6 519.6,555.4 522.7,552.1 520.0,545.9 519.9,545.6 519.9,545.4 519.8,545.1 518.7,536.9 518.7,536.5 518.7,530.7 518.7,530.4 518.8,530.1 518.8,529.9 518.9,529.6 519.0,529.3 519.2,529.1 519.3,528.8 519.5,528.6 519.7,528.4 520.0,528.3 520.2,528.1 520.5,528.0 520.7,527.9 525.7,526.2 525.7,523.7 525.7,523.4 525.8,523.1 525.8,522.8 525.9,522.6 526.0,522.3 526.2,522.1 530.8,515.1 530.9,514.9 535.9,508.2 536.1,508.0 536.3,507.8 536.6,507.6 536.8,507.4 537.1,507.3 537.4,507.1 537.7,507.1 538.0,507.0 538.3,507.0 546.0,507.0 548.6,505.6 548.9,505.5 549.2,505.4 549.4,505.4 549.7,505.3 550.0,505.3 556.1,505.3 565.6,501.4 565.6,501.4 569.2,500.1 567.3,496.3 567.2,496.1 567.1,495.8 567.1,495.5 567.0,495.3 567.0,495.0 567.0,485.0 567.0,484.7 567.1,484.4 567.1,484.1 567.3,483.8 567.4,483.5 567.6,483.3 572.6,476.3 572.7,476.0 573.0,475.8 573.2,475.6 573.4,475.4 573.7,475.3 574.0,475.2 574.3,475.1 586.3,472.1 586.6,472.0 598.6,470.5 598.7,470.5 612.0,469.0 622.4,466.9 622.8,466.8 634.7,466.0 643.5,464.5 643.6,464.5 655.6,463.0 655.8,463.0 664.7,462.3 670.6,461.5 670.9,461.5 671.1,461.5 671.4,461.5 671.7,461.6 671.9,461.7 680.9,464.7 681.3,464.8 690.3,469.3 690.6,469.4 690.8,469.6 696.4,473.8 705.7,477.2 716.7,475.1 722.6,472.7 725.1,465.3 726.5,457.0 725.2,451.0 719.9,445.6 719.7,445.4 719.5,445.2 713.8,436.6 708.4,432.6 699.7,428.2 699.4,428.0 699.1,427.8 698.9,427.6 693.5,422.3 683.3,420.4 678.4,422.2 672.8,426.4 672.6,426.6 672.3,426.7 672.0,426.8 671.8,426.9 671.5,427.0 662.5,428.5 662.2,428.5 661.8,428.5 661.5,428.5 652.5,427.0 652.2,426.9 652.0,426.8 646.0,424.6 645.7,424.5 645.5,424.4 645.2,424.2 645.0,424.0 639.0,418.7 638.9,418.6 632.9,412.6 632.6,412.3 623.9,400.6 618.2,396.4 618.0,396.2 617.8,396.0 617.6,395.8 617.5,395.6 617.3,395.3 614.5,389.6 608.7,382.4 608.5,382.2 606.5,379.1 596.6,379.8 591.9,381.5 588.3,386.3 585.4,397.6 584.1,405.9 585.4,411.3 587.7,420.3 587.8,420.5 587.8,420.8 587.8,421.1 587.8,421.4 587.7,421.7 587.6,422.0 587.5,422.3 587.4,422.5 587.2,422.8 587.0,423.0 581.7,429.0 581.6,429.1 579.0,431.8 576.0,438.0 575.9,438.2 575.7,438.5 575.5,438.7 575.3,438.9 575.1,439.1 574.9,439.2 574.7,439.4 574.4,439.5 567.8,442.1 566.3,455.3 566.2,455.6 566.2,455.9 566.1,456.1 566.0,456.4 565.8,456.6 565.6,456.9 559.0,465.2 558.8,465.4 558.6,465.6 558.3,465.8 558.1,466.0 551.5,469.3 546.7,472.5 546.4,472.7 546.1,472.8 545.9,472.9 545.6,472.9 545.3,473.0 545.0,473.0 540.0,473.0 539.7,473.0 539.4,472.9 539.1,472.9 538.8,472.8 538.5,472.6 538.3,472.5 538.0,472.3 537.8,472.1 537.6,471.8 537.4,471.6 537.3,471.3 537.2,471.0 537.1,470.7 535.4,464.0 535.3,463.8 535.3,463.6 534.5,455.3 534.5,455.0 534.5,445.4 533.1,439.7 529.7,435.6 525.0,432.5 524.8,432.3 524.6,432.1 524.4,431.9 524.2,431.7 524.1,431.4 523.9,431.2 523.8,430.9 523.8,430.6 523.7,430.3 523.7,430.0 523.7,429.7 523.8,429.4 523.8,429.1 523.9,428.9 524.0,428.6 524.2,428.3 526.1,425.4 521.3,420.5 516.7,416.7 514.3,415.6 512.8,417.9 511.3,425.3 511.3,433.3 511.3,433.6 511.2,433.8 511.2,434.1 511.1,434.4 511.0,434.6 507.7,441.3 507.5,441.6 507.4,441.9 507.1,442.1 506.9,442.3 506.7,442.5 501.7,445.8 501.4,446.0 501.1,446.1 500.8,446.2 500.5,446.3 490.5,448.0 490.2,448.0 489.8,448.0 489.5,448.0 479.5,446.3 479.2,446.2 467.8,443.0 456.8,442.2 440.4,444.7 440.2,444.7 439.9,444.7 439.6,444.7 439.3,444.6 439.1,444.6"/>
<polygon points="436.1,444.4 436.2,444.1 436.2,443.8 436.3,443.5 436.4,443.3 436.6,443.0 436.7,442.7 436.9,442.5 437.2,442.3 437.4,442.1 437.7,442.0 437.9,441.8 438.2,441.7 438.5,441.6 438.8,441.6 439.1,441.6 439.4,441.6 439.7,441.6 440.0,441.7 440.0,441.7 436.5,437.0 436.1,444.4"/>
<polygon points="573.3,501.7 571.8,498.7 572.0,499.0 572.0,499.3 572.1,499.6 572.1,499.9 572.1,500.2 572.1,500.5 572.1,500.7 572.0,501.0 571.9,501.3 571.7,501.6 571.6,501.8 571.4,502.0 571.2,502.3 571.0,502.4 570.7,502.6 570.5,502.8 570.2,502.9 573.3,501.7"/>
<polygon points="530.0,425.0 528.3,423.3 528.5,423.5 528.6,423.7 528.8,424.0 528.9,424.2 529.0,424.5 529.1,424.8 529.1,425.1 529.1,425.4 529.1,425.7 529.1,426.0 529.0,426.2 528.9,426.5 528.8,426.8 528.7,427.0 530.0,425.0"/>
<polygon points="513.3,411.7 511.8,413.9 512.0,413.7 512.2,413.5 512.4,413.3 512.6,413.1 512.9,412.9 513.2,412.8 513.4,412.7 513.7,412.6 514.0,412.6 514.3,412.6 514.6,412.6 514.9,412.6 515.1,412.7 515.4,412.8 515.7,412.9 513.3,411.7"/>
<polygon points="551.1,513.2 551.8,518.0 561.0,525.4 566.4,528.1 570.8,528.1 570.2,524.9 564.7,519.4 558.8,514.5 558.7,514.3 555.6,511.3 551.1,513.2"/>
<polygon points="552.3,513.9 552.8,517.4 561.6,524.5 566.7,527.0 569.5,527.0 569.2,525.4 564.0,520.2 558.1,515.3 557.9,515.1 555.3,512.6 552.3,513.9"/>
<polygon points="549.3,514.3 549.3,514.0 549.3,513.7 549.3,513.4 549.4,513.1 549.5,512.8 549.6,512.5 549.8,512.3 549.9,512.0 550.1,511.8 550.3,511.6 550.6,511.4 550.8,511.2 551.1,511.1 549.0,512.0 549.3,514.3"/>
<polygon points="573.0,530.0 572.4,526.5 572.5,526.8 572.5,527.1 572.4,527.4 572.4,527.7 572.3,527.9 572.2,528.2 572.1,528.5 571.9,528.7 571.7,528.9 571.6,529.2 571.3,529.3 571.1,529.5 570.8,529.7 570.6,529.8 570.3,529.9 570.0,529.9 569.7,530.0 569.5,530.0 573.0,530.0"/>
<polygon points="584.9,546.3 584.9,548.4 587.7,549.0 591.2,547.3 589.3,544.4 584.9,546.3"/>
<polygon points="586.0,547.0 586.0,547.5 587.6,547.9 589.6,546.8 588.9,545.7 586.0,547.0"/>
<polygon points="583.0,547.0 583.0,546.7 583.1,546.4 583.1,546.1 583.2,545.8 583.3,545.6 583.5,545.3 583.7,545.1 583.9,544.9 584.1,544.7 584.3,544.5 584.6,544.3 584.8,544.2 587.7,543.0 588.0,542.9 588.3,542.8 588.6,542.8 588.9,542.7 589.2,542.8 589.5,542.8 589.7,542.9 590.0,543.0 590.3,543.1 590.5,543.2 590.8,543.4 591.0,543.6 591.2,543.8 591.4,544.1 592.1,545.2 592.3,545.4 592.4,545.7 592.5,546.0 592.6,546.3 592.6,546.6 592.6,546.9 592.6,547.2 592.6,547.5 592.5,547.8 592.4,548.0 592.2,548.3 592.1,548.6 591.9,548.8 591.7,549.0 591.5,549.2 591.2,549.4 591.0,549.5 594.0,548.0 590.0,542.0 583.0,545.0 583.0,547.0"/>
<polygon points="583.0,550.0 585.4,550.5 585.1,550.4 584.8,550.3 584.6,550.2 584.3,550.0 584.1,549.9 583.9,549.7 583.7,549.4 583.5,549.2 583.4,549.0 583.2,548.7 583.1,548.4 583.1,548.1 583.0,547.8 583.0,547.5 583.0,550.0"/>
<polygon points="855.6,362.5 859.8,365.6 865.6,369.6 865.7,369.7 865.8,369.8 870.2,374.1 876.6,376.3 884.2,377.4 893.2,375.2 893.5,375.1 893.7,375.1 893.9,375.1 900.0,375.6 904.0,372.1 904.2,372.0 904.4,371.9 904.5,371.8 904.7,371.7 904.9,371.6 905.1,371.6 905.3,371.6 908.2,371.6 904.5,368.9 897.1,367.2 888.4,368.3 884.0,370.5 883.9,370.6 883.7,370.6 883.5,370.7 883.4,370.7 883.2,370.7 883.0,370.7 882.8,370.7 882.7,370.6 876.8,368.9 869.8,367.1 869.7,367.1 869.5,367.0 861.5,363.6 856.6,361.7 855.6,362.5"/>
<polygon points="911.6,371.6 911.7,371.7 911.9,371.7 912.1,371.8 912.2,371.9 912.4,372.0 916.7,375.3 922.0,377.4 928.2,376.9 932.4,374.7 932.6,374.6 932.8,374.6 932.9,374.5 933.1,374.5 933.3,374.5 933.5,374.5 939.4,375.1 939.6,375.1 939.7,375.2 939.9,375.2 940.1,375.3 940.2,375.4 940.4,375.5 944.7,378.8 949.9,380.8 956.2,379.8 962.9,377.6 968.1,374.4 970.1,371.5 970.9,368.7 969.5,366.9 964.1,364.8 963.9,364.7 963.7,364.6 958.4,360.8 947.4,361.4 947.2,361.4 947.0,361.4 946.8,361.3 946.6,361.3 946.5,361.2 946.3,361.1 946.1,361.0 941.9,357.8 935.4,356.7 935.2,356.6 935.0,356.6 934.9,356.5 934.7,356.4 934.6,356.3 934.4,356.2 934.3,356.1 934.2,355.9 934.1,355.8 931.9,352.2 928.7,350.1 927.5,350.9 929.2,355.2 932.1,361.0 932.2,361.1 932.2,361.3 932.3,361.5 932.3,361.7 932.3,361.8 932.3,362.0 932.3,362.2 932.2,362.4 932.1,362.6 932.1,362.7 930.4,365.7 930.3,365.9 930.1,366.0 930.0,366.2 929.9,366.3 929.7,366.4 929.5,366.5 929.4,366.6 929.2,366.6 929.0,366.7 928.8,366.7 928.6,366.7 928.4,366.7 920.8,365.6 913.6,368.6 911.6,371.6"/>
<polygon points="859.5,364.0 860.5,364.7 866.2,368.8 866.4,368.9 866.6,369.1 870.8,373.2 876.9,375.3 884.1,376.3 893.0,374.1 893.3,374.0 893.6,374.0 894.0,374.0 899.7,374.5 903.3,371.3 903.5,371.1 903.8,370.9 904.1,370.8 904.4,370.6 904.7,370.6 904.9,370.5 904.0,369.9 897.1,368.3 888.7,369.4 884.5,371.5 884.3,371.6 884.0,371.7 883.8,371.7 883.5,371.8 883.2,371.8 882.9,371.8 882.6,371.7 882.4,371.7 876.5,370.0 869.6,368.2 869.3,368.1 869.1,368.1 861.1,364.6 859.5,364.0"/>
<polygon points="913.2,371.2 917.3,374.4 922.2,376.3 927.9,375.9 931.9,373.7 932.2,373.6 932.5,373.5 932.7,373.5 933.0,373.4 933.3,373.4 933.6,373.4 939.5,374.0 939.8,374.1 940.0,374.1 940.3,374.2 940.6,374.3 940.8,374.5 941.0,374.6 945.3,377.9 950.0,379.7 956.0,378.8 962.4,376.6 967.4,373.6 969.1,371.0 969.7,368.9 968.8,367.8 963.7,365.8 963.4,365.6 963.1,365.4 958.1,361.9 947.5,362.5 947.2,362.5 946.9,362.5 946.6,362.4 946.3,362.3 946.0,362.2 945.7,362.1 945.5,361.9 941.5,358.8 935.2,357.8 934.9,357.7 934.6,357.6 934.4,357.5 934.1,357.4 933.9,357.2 933.7,357.0 933.5,356.8 933.3,356.6 933.1,356.3 931.1,352.9 929.0,351.6 930.2,354.8 933.1,360.5 933.2,360.7 933.3,361.0 933.4,361.3 933.4,361.6 933.4,361.9 933.4,362.2 933.3,362.5 933.2,362.7 933.1,363.0 933.0,363.3 931.3,366.3 931.1,366.5 931.0,366.8 930.8,367.0 930.5,367.2 930.3,367.3 930.0,367.5 929.7,367.6 929.5,367.7 929.2,367.8 928.9,367.8 928.6,367.8 928.3,367.8 920.9,366.7 914.3,369.5 913.2,371.2"/>
<polygon points="854.0,363.6 857.7,366.4 857.5,366.2 857.3,366.0 857.1,365.8 857.0,365.5 856.8,365.2 856.7,365.0 856.6,364.7 856.6,364.4 856.5,364.1 856.5,363.8 856.6,363.5 856.6,363.2 856.7,362.9 856.8,362.7 857.0,362.4 857.2,362.2 857.3,361.9 857.6,361.7 857.8,361.5 858.0,361.4 858.3,361.2 858.6,361.1 858.9,361.1 859.2,361.0 859.5,361.0 859.8,361.0 860.1,361.0 860.3,361.1 860.6,361.2 856.3,359.5 853.4,361.8 854.0,363.6"/>
<polygon points="911.2,373.5 911.4,373.6 911.1,373.4 910.9,373.2 910.7,373.0 910.6,372.7 910.4,372.5 910.3,372.2 910.2,371.9 910.2,371.6 910.2,371.3 910.2,371.0 910.2,370.7 910.3,370.4 910.4,370.1 910.5,369.8 910.7,369.6 910.0,370.6 906.7,368.1 906.9,368.3 907.1,368.5 907.3,368.7 907.5,369.0 907.6,369.2 907.7,369.5 907.8,369.8 907.9,370.1 907.9,370.4 907.9,370.7 907.9,371.0 907.8,371.3 907.7,371.5 907.6,371.8 907.5,372.1 907.3,372.3 907.1,372.5 906.9,372.7 906.7,372.9 906.4,373.1 906.2,373.2 905.9,373.3 905.6,373.4 905.4,373.5 905.3,373.5 911.2,373.5"/>
<polygon points="928.7,347.8 925.2,350.2 926.2,352.7 926.1,352.4 926.0,352.1 926.0,351.8 926.0,351.5 926.0,351.2 926.0,350.9 926.1,350.7 926.2,350.4 926.3,350.1 926.5,349.9 926.7,349.6 926.8,349.4 927.1,349.2 927.3,349.1 927.5,348.9 927.8,348.8 928.1,348.7 928.4,348.6 928.7,348.6 928.9,348.6 929.2,348.6 929.5,348.6 929.8,348.7 930.1,348.8 930.4,348.9 930.6,349.0 928.7,347.8"/>
<polygon points="730.1,537.5 732.9,538.9 733.0,539.0 733.2,539.1 733.3,539.2 733.5,539.4 733.6,539.5 733.7,539.7 733.8,539.9 733.8,540.0 733.9,540.2 733.9,540.4 733.9,540.6 733.9,540.8 733.9,541.0 733.8,541.2 733.7,541.3 730.2,549.5 730.2,549.7 730.1,549.9 725.5,556.6 724.3,560.9 725.7,562.1 729.1,562.1 729.3,562.1 729.5,562.1 729.7,562.2 729.8,562.3 730.0,562.3 730.2,562.4 730.3,562.6 730.5,562.7 730.6,562.8 730.7,563.0 730.8,563.2 730.9,563.3 732.4,567.4 734.9,569.1 737.2,569.1 740.2,567.0 740.4,566.9 740.5,566.9 740.7,566.8 740.9,566.7 741.1,566.7 741.2,566.7 741.4,566.7 741.6,566.7 741.8,566.8 742.0,566.8 742.1,566.9 742.3,567.0 742.4,567.1 747.1,570.6 747.3,570.7 747.4,570.8 751.9,575.4 755.9,578.4 757.8,578.4 759.5,575.8 759.6,575.6 759.8,575.5 762.5,572.7 761.6,567.9 760.5,562.1 758.2,556.5 755.9,550.9 753.7,547.5 753.6,547.4 753.5,547.2 753.5,547.0 753.4,546.8 753.4,546.6 753.4,546.5 753.4,546.3 753.4,546.1 754.4,542.0 750.8,539.3 745.2,536.5 745.0,536.4 744.9,536.3 744.8,536.2 740.7,532.7 738.5,533.1 733.0,536.4 732.8,536.5 732.6,536.6 730.1,537.5"/>
<polygon points="732.9,537.7 733.4,537.9 733.6,538.1 733.9,538.3 734.1,538.5 734.3,538.7 734.5,538.9 734.6,539.2 734.8,539.4 734.9,539.7 734.9,540.0 735.0,540.3 735.0,540.6 735.0,540.9 734.9,541.2 734.9,541.5 734.8,541.8 731.3,550.0 731.1,550.2 731.0,550.5 726.5,557.1 725.5,560.5 726.1,561.0 729.1,561.0 729.4,561.0 729.7,561.1 730.0,561.1 730.3,561.2 730.6,561.4 730.8,561.5 731.1,561.7 731.3,561.9 731.5,562.2 731.6,562.4 731.8,562.7 731.9,563.0 733.3,566.7 735.2,568.0 736.9,568.0 739.6,566.1 739.8,566.0 740.1,565.8 740.4,565.7 740.6,565.7 740.9,565.6 741.2,565.6 741.5,565.6 741.8,565.6 742.1,565.7 742.3,565.8 742.6,565.9 742.9,566.0 743.1,566.2 747.8,569.7 748.0,569.8 748.1,570.0 752.6,574.5 756.3,577.3 757.2,577.3 758.6,575.2 758.8,574.9 759.0,574.7 761.4,572.3 760.6,568.1 759.4,562.5 757.2,556.9 754.9,551.4 752.8,548.1 752.6,547.9 752.5,547.6 752.4,547.3 752.3,547.0 752.3,546.7 752.3,546.4 752.3,546.1 752.4,545.8 753.1,542.4 750.2,540.3 744.7,537.5 744.4,537.4 744.2,537.2 744.0,537.1 740.4,533.9 738.9,534.2 733.5,537.4 733.3,537.5 733.0,537.6 732.9,537.7"/>
<polygon points="727.0,538.0 731.5,540.3 731.2,540.2 731.0,540.0 730.8,539.8 730.6,539.6 730.4,539.4 730.3,539.1 730.1,538.9 730.0,538.6 729.9,538.3 729.9,538.0 729.9,537.7 729.9,537.4 729.9,537.2 730.0,536.9 730.1,536.6 730.2,536.3 730.3,536.1 730.5,535.8 730.7,535.6 730.9,535.4 731.1,535.2 731.4,535.1 731.6,534.9 731.9,534.8 728.5,536.0 723.8,534.2 727.0,538.0"/>
<polygon points="702.0,577.8 708.6,582.2 708.7,582.3 708.9,582.5 709.0,582.6 713.6,588.3 719.4,594.2 719.5,594.3 723.8,599.7 730.2,601.8 737.1,603.6 737.3,603.6 737.5,603.7 737.7,603.8 743.0,607.4 755.0,606.4 761.8,604.7 762.0,604.6 762.2,604.6 771.0,604.1 776.3,600.9 780.7,596.6 783.9,592.3 785.0,588.0 785.0,587.9 786.5,583.8 785.3,580.5 782.0,578.9 777.0,580.9 776.8,580.9 776.6,581.0 776.5,581.0 776.3,581.0 776.1,581.0 775.9,581.0 775.7,580.9 769.6,578.9 763.4,583.1 763.2,583.2 763.0,583.3 762.9,583.3 762.7,583.4 762.5,583.4 762.3,583.4 758.0,583.4 753.1,585.3 751.1,588.3 751.0,588.5 750.8,588.6 750.7,588.8 750.5,588.9 750.4,589.0 750.2,589.1 750.0,589.1 749.8,589.2 749.6,589.2 749.5,589.2 749.3,589.2 744.6,588.6 740.3,588.0 734.9,589.7 734.7,589.8 734.5,589.8 734.3,589.8 734.2,589.8 734.0,589.8 727.1,588.6 720.1,588.0 720.0,588.0 719.8,587.9 719.6,587.9 719.5,587.8 719.3,587.7 719.1,587.6 714.5,584.1 714.4,584.0 714.2,583.8 709.8,578.4 705.2,576.5 702.0,577.8"/>
<polygon points="704.3,578.1 709.2,581.3 709.4,581.5 709.6,581.7 709.8,581.9 714.4,587.6 720.1,593.4 720.3,593.6 724.5,598.7 730.5,600.7 737.4,602.5 737.7,602.6 738.0,602.7 738.3,602.9 743.3,606.3 754.8,605.3 761.6,603.6 761.8,603.5 762.1,603.5 770.7,603.0 775.6,600.0 779.8,595.8 782.8,591.8 783.9,587.7 784.0,587.5 785.3,583.8 784.4,581.3 782.0,580.1 777.4,581.9 777.1,582.0 776.8,582.1 776.5,582.1 776.2,582.1 775.9,582.1 775.7,582.0 775.4,582.0 769.8,580.1 764.0,584.0 763.7,584.1 763.5,584.3 763.2,584.4 762.9,584.4 762.6,584.5 762.3,584.5 758.2,584.5 753.8,586.2 752.0,588.9 751.8,589.2 751.6,589.4 751.4,589.6 751.2,589.8 750.9,590.0 750.6,590.1 750.3,590.2 750.0,590.3 749.7,590.3 749.4,590.3 749.1,590.3 744.4,589.7 740.4,589.2 735.2,590.8 734.9,590.8 734.6,590.9 734.4,590.9 734.1,590.9 733.8,590.9 726.9,589.7 720.0,589.1 719.8,589.1 719.5,589.0 719.2,588.9 719.0,588.8 718.7,588.6 718.5,588.5 713.9,585.0 713.6,584.8 713.4,584.5 709.2,579.3 705.2,577.7 704.3,578.1"/>
<polygon points="700.5,579.1 702.7,580.5 702.4,580.4 702.2,580.2 702.0,580.0 701.8,579.7 701.7,579.5 701.6,579.2 701.5,578.9 701.4,578.6 701.3,578.3 701.3,578.0 701.3,577.7 701.4,577.4 701.5,577.1 701.6,576.9 701.7,576.6 701.9,576.4 702.0,576.1 702.2,575.9 702.5,575.7 702.7,575.5 703.0,575.4 703.2,575.3 699.3,576.8 700.5,579.1"/>
<polygon points="777.7,566.4 776.1,568.9 776.5,570.2 782.1,570.2 782.3,570.2 782.5,570.2 786.2,571.1 787.7,567.5 786.5,564.3 782.4,562.7 777.7,566.4"/>
<polygon points="778.5,567.2 777.3,569.1 777.3,569.1 782.1,569.1 782.4,569.1 782.8,569.2 785.6,569.8 786.5,567.5 785.6,565.1 782.6,563.9 778.5,567.2"/>
<polygon points="787.4,573.3 788.3,570.9 788.2,571.2 788.1,571.5 787.9,571.7 787.7,571.9 787.5,572.1 787.2,572.3 787.0,572.5 786.7,572.6 786.4,572.7 786.1,572.8 785.8,572.8 785.5,572.8 785.2,572.8 784.9,572.7 787.4,573.3"/>
<polygon points="907.3,543.2 908.8,545.6 913.9,543.4 918.5,538.8 921.5,533.5 919.9,532.3 913.2,536.5 907.3,543.2"/>
<polygon points="908.7,543.3 909.2,544.2 913.3,542.5 917.6,538.2 920.1,533.8 919.8,533.6 914.0,537.3 908.7,543.3"/>
<polygon points="908.0,548.0 913.1,545.8 910.4,547.0 910.1,547.1 909.9,547.1 909.6,547.2 909.3,547.2 909.0,547.2 908.7,547.2 908.4,547.1 908.2,547.0 907.9,546.9 907.7,546.8 907.4,546.6 907.2,546.4 907.0,546.2 906.8,546.0 906.7,545.8 908.0,548.0"/>
<polygon points="920.0,540.0 924.0,533.0 921.8,531.4 921.9,531.4 922.1,531.6 922.3,531.8 922.5,532.0 922.7,532.3 922.8,532.5 922.9,532.8 923.0,533.1 923.0,533.3 923.1,533.6 923.1,533.9 923.1,534.2 923.0,534.5 922.9,534.8 922.8,535.0 922.7,535.3 920.2,539.7 920.1,539.9 919.9,540.1 919.7,540.3 920.0,540.0"/>
<polygon points="909.8,564.9 911.2,567.3 913.5,567.8 913.9,565.8 911.7,564.2 909.8,564.9"/>
<polygon points="911.4,565.5 911.9,566.3 912.6,566.5 912.7,566.3 911.5,565.4 911.4,565.5"/>
<polygon points="908.8,567.0 908.7,566.8 908.6,566.5 908.5,566.2 908.4,565.9 908.4,565.7 908.4,565.4 908.4,565.1 908.5,564.8 908.5,564.5 908.6,564.3 908.8,564.0 908.9,563.8 909.1,563.5 909.3,563.3 909.5,563.1 909.8,563.0 910.0,562.8 910.3,562.7 907.0,564.0 908.8,567.0"/>
<polygon points="915.0,570.0 915.6,567.1 915.5,567.3 915.4,567.6 915.3,567.9 915.1,568.1 915.0,568.4 914.8,568.6 914.5,568.8 914.3,569.0 914.1,569.1 913.8,569.2 913.5,569.3 913.2,569.4 912.9,569.5 912.6,569.5 912.3,569.5 912.1,569.4 915.0,570.0"/>
<polygon points="1009.8,618.6 1003.6,619.4 993.9,621.8 980.8,626.7 970.8,631.7 970.7,631.8 963.3,634.7 960.1,645.5 960.1,645.7 960.0,645.8 959.9,646.0 954.9,654.3 954.8,654.4 954.7,654.6 954.6,654.7 954.4,654.8 948.1,659.6 943.4,667.6 936.7,680.8 931.7,692.4 931.6,692.7 931.5,692.8 926.5,699.4 926.4,699.6 926.3,699.7 919.6,705.6 919.4,705.7 919.3,705.8 919.1,705.9 918.9,706.0 918.7,706.1 918.5,706.1 918.4,706.1 918.2,706.1 918.0,706.1 917.8,706.0 917.6,706.0 911.0,703.5 910.9,703.4 910.7,703.3 910.6,703.2 910.4,703.1 910.3,703.0 910.2,702.8 910.1,702.7 910.0,702.5 907.8,698.1 903.2,695.4 897.2,698.2 893.8,705.1 897.6,714.3 897.6,714.4 897.7,714.6 899.3,722.7 903.4,732.4 906.6,737.3 906.6,737.3 911.6,745.7 911.7,745.9 911.8,746.1 911.9,746.3 911.9,746.5 911.9,746.7 911.9,755.0 911.9,755.1 911.1,766.8 911.1,779.6 913.8,786.4 921.4,786.4 932.8,783.2 933.0,783.1 933.1,783.1 933.3,783.1 950.0,783.1 950.2,783.1 964.7,784.8 976.0,780.0 976.1,779.9 976.3,779.9 976.4,779.8 988.0,778.1 988.1,778.1 1001.4,776.4 1011.0,774.9 1018.9,770.1 1028.8,761.8 1028.8,761.8 1036.9,755.4 1050.1,735.7 1053.2,729.3 1056.5,719.4 1056.5,719.4 1059.9,709.5 1061.5,702.9 1061.5,702.7 1061.6,702.5 1066.4,692.9 1066.4,680.0 1066.4,679.9 1066.9,666.7 1066.1,654.5 1062.4,647.1 1056.9,640.6 1042.6,635.1 1042.4,635.0 1042.3,634.9 1032.3,628.3 1021.0,621.8 1009.8,618.6"/>
<polygon points="1009.8,619.7 1003.8,620.5 994.2,622.9 981.2,627.8 971.3,632.7 971.1,632.8 964.2,635.5 961.2,645.8 961.1,646.1 961.0,646.3 960.9,646.5 955.9,654.8 955.7,655.1 955.5,655.3 955.3,655.5 955.1,655.7 949.0,660.3 944.3,668.1 937.7,681.3 932.8,692.9 932.6,693.2 932.4,693.5 927.4,700.1 927.2,700.3 927.0,700.6 920.3,706.5 920.1,706.6 919.8,706.8 919.5,706.9 919.3,707.0 919.0,707.1 918.7,707.2 918.4,707.2 918.1,707.2 917.8,707.2 917.5,707.1 917.2,707.0 910.6,704.5 910.4,704.4 910.1,704.3 909.9,704.1 909.7,703.9 909.5,703.7 909.3,703.5 909.2,703.3 909.0,703.0 906.9,698.8 903.1,696.7 898.0,699.0 895.0,705.1 898.6,713.9 898.7,714.1 898.7,714.4 900.4,722.4 904.4,731.9 907.5,736.6 907.6,736.8 912.6,745.2 912.7,745.5 912.8,745.8 912.9,746.1 913.0,746.4 913.0,746.7 913.0,755.0 913.0,755.2 912.2,766.8 912.2,779.4 914.5,785.3 921.3,785.3 932.5,782.1 932.7,782.1 933.0,782.0 933.3,782.0 950.0,782.0 950.3,782.0 964.6,783.6 975.5,778.9 975.8,778.9 976.0,778.8 976.3,778.7 987.9,777.0 987.9,777.0 1001.3,775.3 1010.7,773.8 1018.3,769.3 1028.1,761.0 1028.1,761.0 1036.1,754.6 1049.1,735.2 1052.2,728.9 1055.5,719.1 1055.5,719.0 1058.8,709.2 1060.4,702.6 1060.5,702.3 1060.6,702.0 1065.3,692.6 1065.3,680.0 1065.3,679.9 1065.8,666.7 1065.0,654.8 1061.5,647.7 1056.2,641.5 1042.2,636.1 1041.9,636.0 1041.6,635.8 1031.7,629.3 1020.5,622.8 1009.8,619.7"/>
<polygon points="598.2,646.2 597.2,649.0 597.2,656.7 597.2,656.9 597.2,657.1 597.1,657.3 594.5,665.2 593.2,670.4 592.0,677.8 594.5,685.4 594.5,685.4 597.1,693.4 597.2,693.7 598.5,701.1 601.9,704.5 608.3,708.4 608.5,708.5 608.6,708.7 611.7,711.7 615.9,709.6 616.0,709.5 616.2,709.5 616.3,709.4 616.5,709.4 616.7,709.4 631.1,709.4 636.3,708.2 636.5,708.1 636.7,708.1 643.3,708.1 643.5,708.1 643.7,708.1 650.4,709.4 650.5,709.5 650.7,709.5 657.4,712.2 657.6,712.3 657.7,712.4 657.8,712.5 663.1,716.5 663.3,716.7 667.3,720.7 667.5,720.8 667.6,720.9 667.7,721.1 667.8,721.3 667.8,721.5 667.9,721.6 669.1,727.8 672.6,731.4 672.8,731.5 672.9,731.7 673.0,731.9 676.7,739.3 677.0,739.4 678.7,735.1 677.4,726.3 677.4,726.1 677.4,726.0 677.4,715.5 676.2,708.1 672.5,703.1 672.4,703.0 672.3,702.8 668.4,695.0 662.0,686.1 655.7,682.3 655.6,682.2 655.4,682.1 655.3,681.9 655.1,681.8 650.4,675.1 650.3,674.9 650.3,674.8 650.2,674.6 650.1,674.4 650.1,674.2 650.1,674.0 650.1,673.9 650.8,664.6 650.8,664.4 650.9,664.2 650.9,664.0 651.0,663.9 652.9,659.9 648.0,656.5 641.1,655.3 636.3,658.3 636.1,658.4 636.0,658.5 635.8,658.5 635.6,658.6 635.4,658.6 635.2,658.6 635.0,658.6 634.9,658.5 634.7,658.5 634.5,658.4 634.3,658.3 634.2,658.2 634.0,658.1 633.9,658.0 633.8,657.8 633.7,657.7 629.8,651.3 623.8,646.4 616.4,643.9 605.0,643.9 598.2,646.2"/>
<polygon points="599.0,647.1 598.3,649.2 598.3,656.7 598.3,657.0 598.2,657.3 598.2,657.6 595.6,665.5 594.2,670.6 593.1,677.7 595.5,685.0 595.6,685.1 598.2,693.1 598.3,693.5 599.5,700.5 602.6,703.6 608.9,707.4 609.2,707.6 609.4,707.9 611.9,710.3 615.4,708.6 615.6,708.5 615.9,708.4 616.1,708.4 616.4,708.3 616.7,708.3 630.9,708.3 636.0,707.1 636.3,707.0 636.7,707.0 643.3,707.0 643.6,707.0 643.9,707.1 650.6,708.4 650.9,708.4 651.1,708.5 657.8,711.2 658.1,711.3 658.3,711.5 658.5,711.6 663.8,715.6 664.1,715.9 668.1,719.9 668.3,720.1 668.5,720.3 668.6,720.6 668.8,720.9 668.9,721.1 668.9,721.4 670.1,727.2 673.4,730.6 673.6,730.8 673.8,731.1 674.0,731.4 676.8,737.0 677.6,734.9 676.3,726.4 676.3,726.2 676.3,726.0 676.3,715.5 675.2,708.5 671.6,703.8 671.5,703.6 671.3,703.3 667.4,695.6 661.2,686.9 655.1,683.3 654.9,683.1 654.7,682.9 654.4,682.7 654.2,682.4 649.5,675.7 649.4,675.5 649.3,675.2 649.1,674.9 649.1,674.7 649.0,674.4 649.0,674.1 649.0,673.8 649.7,664.5 649.7,664.2 649.8,663.9 649.9,663.7 650.0,663.4 651.5,660.3 647.5,657.5 641.3,656.5 636.9,659.2 636.6,659.4 636.4,659.5 636.1,659.6 635.8,659.7 635.5,659.7 635.2,659.7 634.9,659.7 634.6,659.6 634.3,659.5 634.0,659.4 633.8,659.3 633.5,659.1 633.3,658.9 633.1,658.7 632.9,658.5 632.7,658.2 629.0,652.0 623.2,647.4 616.2,645.0 605.2,645.0 599.0,647.1"/>
<polygon points="675.3,740.7 678.0,742.0 679.6,738.1 679.4,738.4 679.3,738.6 679.1,738.9 678.9,739.1 678.7,739.3 678.5,739.5 678.2,739.6 677.9,739.7 677.6,739.8 677.4,739.9 677.1,740.0 676.8,740.0 676.5,740.0 676.2,739.9 675.9,739.8 675.6,739.7 675.3,739.6 675.1,739.4 674.8,739.3 674.6,739.0 674.4,738.8 674.3,738.6 674.1,738.3 675.3,740.7"/>
<polygon points="655.3,659.3 653.2,657.8 653.4,658.0 653.7,658.2 653.9,658.5 654.0,658.7 654.2,659.0 654.3,659.3 654.4,659.5 654.5,659.8 654.5,660.1 654.5,660.4 654.5,660.7 654.4,661.0 654.3,661.3 654.2,661.6 655.3,659.3"/>
<polygon points="541.1,767.0 540.6,772.2 543.4,776.7 548.2,780.3 555.7,782.8 564.6,784.1 573.2,781.5 579.2,778.0 581.3,772.7 579.0,766.9 575.6,761.8 570.3,761.2 564.0,763.8 563.8,763.8 563.7,763.9 563.5,763.9 563.3,763.9 563.2,763.9 554.1,763.2 544.1,764.5 541.1,767.0"/>
<polygon points="542.2,767.5 541.8,772.0 544.3,775.9 548.7,779.3 556.0,781.8 564.5,782.9 572.8,780.5 578.3,777.2 580.1,772.7 578.0,767.4 575.0,762.8 570.4,762.4 564.4,764.8 564.2,764.9 563.9,764.9 563.6,765.0 563.3,765.0 563.1,765.0 554.1,764.3 544.5,765.6 542.2,767.5"/>
<polygon points="608.4,845.4 612.4,854.8 612.4,854.8 617.1,867.5 617.1,867.7 617.2,867.9 617.2,868.0 617.2,868.2 617.2,875.1 622.2,879.5 622.3,879.6 622.4,879.7 622.5,879.9 622.6,880.1 622.7,880.2 622.7,880.4 622.8,880.6 624.3,889.7 628.0,895.7 628.1,895.9 628.2,896.0 628.2,896.2 628.3,896.4 628.3,896.5 628.3,896.7 628.3,907.8 628.3,908.0 628.3,908.1 628.2,908.3 628.2,908.5 628.1,908.6 623.9,917.4 623.9,926.0 627.5,928.5 631.9,927.8 634.1,924.5 634.0,922.2 634.0,922.0 634.0,921.8 634.1,921.6 634.1,921.4 634.2,921.2 634.3,921.1 634.4,920.9 634.6,920.8 634.7,920.6 634.9,920.5 635.0,920.4 635.2,920.3 643.2,917.1 643.4,917.1 643.6,917.0 643.8,917.0 643.9,917.0 644.1,917.0 650.4,917.8 650.5,917.8 660.0,919.4 660.2,919.5 668.0,921.4 665.1,919.8 657.3,915.8 649.5,912.8 649.3,912.7 643.0,909.5 642.9,909.4 642.7,909.3 642.6,909.2 636.2,902.9 636.0,902.7 635.9,902.6 635.9,902.4 635.8,902.3 635.7,902.1 635.7,902.0 634.1,895.8 628.8,886.6 628.7,886.5 624.7,878.6 624.7,878.5 620.0,869.0 615.2,859.6 615.1,859.4 612.0,851.5 612.0,851.3 611.9,851.2 611.9,851.0 611.9,850.8 611.9,850.6 612.6,842.8 610.2,840.4 607.3,841.6 608.4,845.4"/>
<polygon points="609.4,845.0 611.0,848.7 611.5,843.2 609.9,841.7 608.6,842.2 609.4,845.0"/>
<polygon points="618.3,868.1 618.3,868.2 618.3,874.6 622.9,878.6 623.1,878.8 623.3,879.1 623.4,879.3 623.6,879.6 623.7,879.8 623.8,880.1 623.9,880.4 625.4,889.3 629.0,895.1 629.1,895.4 629.2,895.6 629.3,895.9 629.3,896.1 629.4,896.4 629.4,896.7 629.4,907.8 629.4,908.1 629.4,908.3 629.3,908.6 629.2,908.8 629.1,909.1 625.0,917.7 625.0,925.4 627.7,927.3 631.2,926.8 633.0,924.1 632.9,922.2 632.9,921.9 632.9,921.6 633.0,921.3 633.1,921.0 633.2,920.7 633.4,920.5 633.6,920.2 633.8,920.0 634.0,919.8 634.2,919.6 634.5,919.4 634.8,919.3 642.8,916.1 643.1,916.0 643.4,915.9 643.7,915.9 644.0,915.9 644.3,915.9 650.6,916.7 650.7,916.7 659.7,918.3 656.9,916.8 649.1,913.8 648.8,913.7 642.5,910.5 642.3,910.3 642.0,910.1 641.8,909.9 635.4,903.6 635.2,903.4 635.0,903.2 634.9,903.0 634.8,902.7 634.7,902.5 634.6,902.2 633.1,896.2 627.8,887.1 627.7,887.0 623.7,879.1 623.7,879.0 619.0,869.5 618.3,868.1"/>
<polygon points="610.6,855.5 615.3,868.2 615.3,868.0 615.3,867.7 615.4,867.4 615.5,867.1 615.6,866.8 615.7,866.6 615.9,866.3 616.1,866.1 616.3,865.9 616.5,865.7 616.7,865.6 617.0,865.4 617.3,865.3 617.5,865.2 617.8,865.2 618.1,865.1 618.4,865.1 618.7,865.1 619.0,865.2 619.3,865.3 619.5,865.4 619.8,865.5 620.0,865.7 620.3,865.8 620.5,866.1 620.7,866.3 620.8,866.5 621.0,866.8 616.9,858.7 613.8,850.8 614.0,849.0 613.9,849.2 613.9,849.5 613.8,849.8 613.6,850.1 613.5,850.3 613.3,850.6 613.1,850.8 612.9,851.0 612.7,851.2 612.4,851.3 612.1,851.4 611.9,851.5 611.6,851.6 611.3,851.7 611.0,851.7 610.7,851.7 610.4,851.6 610.1,851.6 609.9,851.5 609.6,851.3 609.3,851.2 609.1,851.0 608.9,850.8 608.7,850.6 608.5,850.4 608.3,850.1 608.2,849.8 610.6,855.5"/>
<polygon points="659.7,921.3 669.2,923.7 671.6,921.3 666.0,918.1 661.0,915.6 661.3,915.7 661.5,915.9 661.7,916.1 661.9,916.3 662.1,916.5 662.3,916.8 662.4,917.0 662.5,917.3 662.6,917.6 662.6,917.9 662.7,918.2 662.6,918.5 662.6,918.8 662.5,919.0 662.5,919.3 662.3,919.6 662.2,919.9 662.0,920.1 661.8,920.3 661.6,920.5 661.4,920.7 661.1,920.9 660.9,921.0 660.6,921.1 660.3,921.2 660.0,921.2 659.7,921.2 659.4,921.2 659.2,921.2 659.7,921.3"/>
<polygon points="605.0,840.5 605.7,843.0 605.7,842.8 605.6,842.5 605.6,842.2 605.6,841.9 605.7,841.6 605.8,841.3 605.9,841.1 606.0,840.8 606.1,840.6 606.3,840.3 606.5,840.1 606.7,839.9 606.9,839.7 607.2,839.6 607.4,839.5 605.0,840.5"/>
<polygon points="683.7,926.9 684.5,927.6 692.2,931.5 700.1,935.4 700.2,935.4 708.1,939.4 708.2,939.5 708.4,939.6 708.5,939.7 708.7,939.9 708.8,940.0 708.9,940.2 709.0,940.4 709.0,940.5 711.4,948.3 712.9,951.9 715.4,950.7 718.3,946.3 718.4,946.2 718.6,946.0 718.7,945.9 718.9,945.8 719.1,945.7 719.2,945.6 719.4,945.6 725.0,944.2 727.2,940.3 724.8,936.1 719.5,933.5 710.6,934.3 710.4,934.3 710.2,934.3 710.1,934.3 709.9,934.2 709.7,934.2 706.7,933.0 697.4,931.5 697.2,931.4 697.1,931.4 687.6,928.3 687.6,928.3 683.7,926.9"/>
<polygon points="696.5,932.3 700.6,934.4 700.7,934.4 708.6,938.4 708.8,938.6 709.1,938.7 709.3,938.9 709.5,939.2 709.7,939.4 709.8,939.7 710.0,939.9 710.1,940.2 712.4,948.0 713.5,950.4 714.7,949.9 717.4,945.7 717.6,945.5 717.8,945.3 718.0,945.0 718.3,944.9 718.6,944.7 718.9,944.6 719.2,944.5 724.2,943.2 725.9,940.3 724.1,937.0 719.3,934.7 710.7,935.4 710.4,935.4 710.1,935.4 709.9,935.4 709.6,935.3 709.3,935.2 706.4,934.1 697.2,932.6 697.0,932.5 696.8,932.5 696.5,932.3"/>
<polygon points="688.2,926.5 681.1,924.0 679.5,926.0 683.5,929.2 691.4,933.2 695.1,935.0 694.9,934.9 694.6,934.7 694.4,934.5 694.2,934.3 694.0,934.1 693.9,933.9 693.7,933.6 693.6,933.3 693.5,933.1 693.5,932.8 693.5,932.5 693.5,932.2 693.5,931.9 693.5,931.6 693.6,931.4 693.7,931.1 693.9,930.8 694.0,930.6 694.2,930.4 694.4,930.2 694.6,930.0 694.9,929.8 695.1,929.7 695.4,929.5 695.7,929.5 696.0,929.4 696.2,929.4 696.5,929.3 696.8,929.4 697.1,929.4 697.4,929.5 688.2,926.5"/>
<polygon points="712.0,954.5 714.8,953.1 714.5,953.2 714.2,953.3 714.0,953.4 713.7,953.4 713.3,953.4 713.0,953.4 712.8,953.3 712.5,953.2 712.2,953.1 711.9,953.0 711.7,952.8 711.4,952.6 711.2,952.4 711.0,952.2 710.9,951.9 710.7,951.6 712.0,954.5"/>
<polygon points="691.7,850.5 691.7,853.1 694.0,856.1 698.8,859.5 707.3,861.6 717.4,862.4 724.6,860.9 724.7,860.9 734.7,859.5 738.5,856.3 741.3,850.7 741.4,850.4 744.7,845.7 744.2,841.4 739.6,838.5 729.8,839.9 729.5,839.9 722.0,839.9 721.8,839.9 721.6,839.9 721.4,839.8 721.3,839.8 721.1,839.7 720.9,839.6 720.8,839.5 720.7,839.3 720.5,839.2 720.4,839.1 720.3,838.9 720.2,838.7 720.2,838.6 720.1,838.4 720.1,838.2 720.1,838.0 720.1,837.8 720.1,837.6 720.2,837.5 720.2,837.3 720.3,837.1 720.4,836.9 723.4,832.4 723.5,832.3 723.6,832.2 723.8,832.1 723.9,831.9 724.1,831.9 724.2,831.8 724.4,831.7 724.5,831.7 729.3,830.5 729.7,828.3 726.8,826.0 726.7,825.9 726.6,825.7 726.4,825.6 726.4,825.4 726.3,825.3 726.2,825.1 726.2,825.0 725.0,820.4 720.0,820.4 711.5,831.6 711.4,831.8 711.3,831.9 711.1,832.0 711.0,832.1 710.8,832.2 710.7,832.3 710.5,832.3 710.3,832.4 710.2,832.4 710.0,832.4 709.8,832.4 704.1,831.8 702.9,840.6 702.8,840.7 702.8,840.9 702.7,841.1 702.6,841.3 702.5,841.4 702.4,841.6 702.3,841.7 702.2,841.8 702.0,841.9 701.8,842.0 694.8,845.5 691.7,850.5"/>
<polygon points="692.8,850.9 692.8,852.8 694.8,855.3 699.3,858.5 707.5,860.5 717.3,861.3 724.4,859.9 724.6,859.8 734.2,858.5 737.6,855.6 740.3,850.2 740.5,849.8 743.6,845.4 743.2,842.1 739.3,839.6 729.9,841.0 729.5,841.0 722.0,841.0 721.7,841.0 721.4,840.9 721.1,840.9 720.9,840.8 720.6,840.6 720.3,840.5 720.1,840.3 719.9,840.1 719.7,839.9 719.5,839.7 719.4,839.4 719.2,839.1 719.1,838.9 719.1,838.6 719.0,838.3 719.0,838.0 719.0,837.7 719.1,837.4 719.1,837.1 719.2,836.9 719.4,836.6 719.5,836.3 722.5,831.8 722.7,831.6 722.9,831.4 723.1,831.2 723.3,831.0 723.5,830.9 723.8,830.8 724.0,830.7 724.3,830.6 728.3,829.6 728.5,828.7 726.1,826.8 725.9,826.6 725.7,826.4 725.5,826.2 725.4,826.0 725.3,825.7 725.2,825.5 725.1,825.2 724.2,821.5 720.5,821.5 712.4,832.3 712.2,832.5 712.0,832.7 711.8,832.9 711.6,833.1 711.3,833.2 711.1,833.3 710.8,833.4 710.5,833.5 710.2,833.5 710.0,833.5 709.7,833.5 705.1,833.0 704.0,840.7 703.9,841.0 703.8,841.3 703.7,841.6 703.6,841.8 703.4,842.1 703.2,842.3 703.0,842.5 702.8,842.7 702.6,842.8 702.3,843.0 695.6,846.3 692.8,850.9"/>
<polygon points="726.5,818.5 724.2,818.5 724.4,818.5 724.7,818.6 725.0,818.6 725.3,818.7 725.5,818.8 725.8,819.0 726.0,819.1 726.2,819.3 726.4,819.5 726.6,819.7 726.7,820.0 726.9,820.2 727.0,820.5 727.1,820.8 726.5,818.5"/>
<polygon points="702.5,829.7 702.1,832.6 702.1,832.3 702.2,832.0 702.3,831.7 702.5,831.5 702.6,831.2 702.8,831.0 703.0,830.8 703.2,830.6 703.5,830.5 703.7,830.3 704.0,830.2 704.2,830.1 704.5,830.0 704.8,830.0 705.1,830.0 705.4,830.0 702.5,829.7"/>
<polygon points="719.0,718.3 721.2,720.0 724.7,722.6 730.5,723.1 735.9,719.4 736.1,719.3 736.3,719.2 736.5,719.2 741.0,718.0 740.7,714.4 738.0,713.5 730.6,715.8 730.3,715.9 730.1,715.9 722.5,716.4 719.0,718.3"/>
<polygon points="721.0,718.5 721.8,719.1 725.1,721.6 730.2,721.9 735.3,718.5 735.6,718.3 735.9,718.2 736.3,718.1 739.8,717.2 739.7,715.2 738.0,714.7 730.9,716.9 730.5,717.0 730.2,717.0 722.8,717.5 721.0,718.5"/>
<polygon points="719.1,720.8 718.9,720.6 718.7,720.4 718.5,720.2 718.4,719.9 718.2,719.7 718.1,719.4 718.0,719.1 718.0,718.8 718.0,718.5 718.0,718.2 718.0,717.9 718.1,717.6 718.2,717.3 718.3,717.1 718.5,716.8 718.6,716.6 718.8,716.4 719.1,716.1 719.3,716.0 719.6,715.8 715.5,718.0 719.1,720.8"/>
<polygon points="743.0,719.5 742.8,717.0 742.8,717.3 742.8,717.6 742.7,717.9 742.7,718.2 742.5,718.4 742.4,718.7 742.2,719.0 742.1,719.2 741.9,719.4 741.6,719.6 741.4,719.8 741.1,719.9 740.8,720.0 740.5,720.1 743.0,719.5"/>
<polygon points="747.2,789.3 747.9,792.6 747.9,792.8 747.9,793.0 747.9,793.2 747.9,793.3 747.8,793.5 747.8,793.7 747.7,793.8 747.6,794.0 747.5,794.1 744.9,797.6 744.9,800.5 746.0,800.8 747.3,798.2 747.4,798.0 747.5,797.9 750.3,794.1 751.8,790.3 750.3,788.2 747.2,789.3"/>
<polygon points="746.0,798.3 746.3,797.7 746.4,797.4 746.6,797.2 749.4,793.5 750.6,790.5 749.9,789.5 748.5,790.0 748.9,792.4 749.0,792.7 749.0,793.0 749.0,793.2 749.0,793.5 748.9,793.8 748.8,794.1 748.7,794.3 748.6,794.6 748.4,794.8 746.0,798.0 746.0,798.3"/>
<polygon points="745.5,790.6 745.5,790.3 745.5,790.0 745.5,789.7 745.5,789.4 745.6,789.2 745.7,788.9 745.8,788.6 745.9,788.4 746.1,788.1 746.3,787.9 746.5,787.7 746.7,787.6 747.0,787.4 747.2,787.3 747.5,787.2 745.0,788.0 745.5,790.6"/>
<polygon points="743.0,802.0 747.0,803.0 748.7,799.6 748.5,799.9 748.4,800.1 748.2,800.4 748.0,800.6 747.7,800.7 747.5,800.9 747.2,801.0 746.9,801.1 746.6,801.2 746.3,801.3 746.0,801.3 745.8,801.3 745.5,801.2 745.2,801.2 744.9,801.1 744.6,801.0 744.4,800.8 744.1,800.6 743.9,800.4 743.7,800.2 743.5,800.0 743.4,799.7 743.2,799.5 743.1,799.2 743.1,798.9 743.0,798.6 743.0,798.3 743.0,802.0"/>
<polygon points="323.5,730.1 321.5,740.0 321.4,740.1 321.4,740.3 318.3,748.4 316.3,758.7 316.2,758.8 313.1,771.3 313.1,771.4 308.9,783.9 308.9,784.0 304.7,794.5 304.6,794.6 304.5,794.8 298.3,805.2 298.3,805.2 292.1,815.4 288.3,825.1 291.2,836.9 296.2,848.8 306.0,856.7 318.1,862.8 330.3,864.8 342.8,866.9 354.5,868.8 362.2,863.1 362.3,863.0 362.5,862.9 362.6,862.8 362.8,862.8 363.0,862.7 363.2,862.7 363.4,862.7 363.6,862.7 363.7,862.8 363.9,862.8 364.1,862.9 364.2,863.0 364.4,863.1 364.5,863.2 364.7,863.3 364.8,863.4 364.9,863.6 365.0,863.7 368.9,871.4 376.1,874.1 387.8,873.1 395.1,869.5 397.0,862.0 397.0,861.8 397.1,861.7 397.2,861.5 397.3,861.3 397.4,861.2 397.6,861.1 397.7,860.9 397.9,860.8 398.1,860.8 398.2,860.7 398.4,860.6 398.6,860.6 408.4,859.7 414.2,854.8 414.3,854.7 414.5,854.6 414.7,854.5 414.9,854.5 415.1,854.4 415.3,854.4 415.5,854.4 415.6,854.4 415.8,854.5 424.2,856.5 424.4,856.5 424.6,856.6 424.7,856.6 424.9,856.7 425.0,856.8 425.2,857.0 431.3,863.2 439.1,869.1 451.1,872.1 463.5,873.1 463.6,873.1 476.1,875.2 476.3,875.3 476.5,875.3 476.6,875.4 476.8,875.5 476.9,875.6 485.3,881.8 485.4,881.8 494.7,889.1 494.8,889.3 497.3,891.7 499.2,888.6 499.3,888.5 499.4,888.3 499.5,888.2 499.7,888.1 499.8,888.0 500.0,887.9 500.1,887.8 508.2,884.8 513.5,880.4 513.5,876.1 506.3,871.5 496.2,868.5 496.0,868.5 485.6,864.3 485.4,864.2 485.3,864.1 485.1,864.0 485.0,863.8 484.8,863.7 484.7,863.5 484.6,863.4 484.5,863.2 480.5,853.3 472.7,847.4 462.3,841.2 462.3,841.2 452.1,835.0 441.8,831.0 441.6,830.9 441.5,830.8 441.4,830.7 433.1,824.4 424.9,818.4 416.8,815.3 416.6,815.2 416.5,815.1 416.3,815.0 416.2,814.9 416.1,814.7 415.9,814.6 415.8,814.4 415.8,814.3 415.7,814.1 415.6,813.9 413.6,804.9 407.6,794.8 407.5,794.6 407.4,794.5 403.2,784.0 403.2,783.8 403.1,783.7 403.1,783.5 403.1,783.3 403.1,773.4 399.5,766.2 393.0,764.3 392.8,764.3 392.6,764.2 392.5,764.1 392.3,764.0 392.2,763.9 392.1,763.8 392.0,763.6 391.9,763.5 391.8,763.3 391.7,763.2 388.6,754.9 388.6,754.7 388.5,754.5 388.5,754.4 387.5,744.0 387.5,743.8 387.5,743.6 387.5,743.4 387.6,743.2 387.7,743.0 387.7,742.9 391.3,736.6 387.0,730.6 375.0,722.6 363.0,719.6 342.8,717.5 331.1,722.4 323.5,730.1"/>
<polygon points="324.5,730.7 322.5,740.2 322.5,740.4 322.4,740.6 319.4,748.7 317.3,758.9 317.3,759.0 314.2,771.5 314.1,771.8 309.9,784.3 309.9,784.4 305.7,794.9 305.6,795.1 305.5,795.3 299.3,805.7 299.3,805.8 293.1,815.9 289.4,825.2 292.3,836.6 297.1,848.1 306.6,855.8 318.4,861.7 330.5,863.7 343.0,865.8 354.2,867.6 361.5,862.2 361.7,862.0 362.0,861.9 362.3,861.8 362.5,861.7 362.8,861.6 363.1,861.6 363.4,861.6 363.7,861.6 364.0,861.7 364.3,861.8 364.5,861.9 364.8,862.0 365.0,862.2 365.3,862.3 365.5,862.5 365.7,862.8 365.8,863.0 366.0,863.2 369.6,870.5 376.2,873.0 387.5,872.1 394.1,868.7 395.9,861.8 396.0,861.5 396.1,861.2 396.2,860.9 396.4,860.7 396.6,860.4 396.8,860.2 397.1,860.0 397.3,859.9 397.6,859.7 397.9,859.6 398.2,859.6 398.5,859.5 408.0,858.6 413.5,854.0 413.7,853.8 414.0,853.7 414.3,853.5 414.6,853.4 414.9,853.3 415.2,853.3 415.5,853.3 415.8,853.3 416.1,853.4 424.5,855.4 424.8,855.5 425.0,855.6 425.3,855.7 425.5,855.8 425.7,856.0 425.9,856.2 432.0,862.3 439.6,868.0 451.3,871.0 463.5,872.0 463.8,872.0 476.3,874.1 476.6,874.2 476.8,874.3 477.1,874.4 477.3,874.5 477.6,874.7 486.0,880.9 486.1,880.9 495.4,888.2 495.6,888.5 497.1,890.0 498.2,888.1 498.4,887.8 498.6,887.6 498.8,887.4 499.0,887.2 499.2,887.0 499.5,886.9 499.8,886.8 507.7,883.9 512.4,879.9 512.4,876.7 505.9,872.6 495.8,869.6 495.6,869.5 485.2,865.3 484.9,865.2 484.6,865.0 484.4,864.8 484.2,864.6 484.0,864.4 483.8,864.2 483.6,863.9 483.5,863.6 479.6,854.0 472.1,848.3 461.8,842.2 461.7,842.2 451.6,836.0 441.4,832.0 441.1,831.9 440.9,831.7 440.7,831.6 432.4,825.3 424.3,819.4 416.4,816.3 416.2,816.2 415.9,816.0 415.7,815.9 415.4,815.7 415.2,815.5 415.0,815.2 414.9,815.0 414.8,814.7 414.7,814.4 414.6,814.2 412.6,805.3 406.6,795.3 406.5,795.1 406.4,794.9 402.2,784.4 402.1,784.1 402.1,783.9 402.0,783.6 402.0,783.3 402.0,773.6 398.7,767.1 392.7,765.4 392.4,765.3 392.2,765.2 391.9,765.0 391.7,764.9 391.5,764.7 391.3,764.5 391.1,764.3 390.9,764.1 390.8,763.8 390.7,763.5 387.6,755.2 387.5,755.0 387.5,754.7 387.4,754.5 386.4,744.1 386.4,743.8 386.4,743.5 386.5,743.2 386.5,742.9 386.6,742.6 386.8,742.3 390.0,736.7 386.2,731.4 374.6,723.6 362.8,720.7 343.0,718.7 331.7,723.3 324.5,730.7"/>
<polygon points="497.7,894.8 499.7,891.5 499.5,891.7 499.3,892.0 499.1,892.2 498.9,892.3 498.7,892.5 498.4,892.6 498.2,892.8 497.9,892.8 497.6,892.9 497.3,892.9 497.0,893.0 496.8,892.9 496.5,892.9 496.2,892.8 495.9,892.7 495.7,892.6 495.4,892.4 495.2,892.3 495.0,892.1 497.7,894.8"/>
<polygon points="518.0,969.7 517.7,971.5 518.5,979.1 518.5,979.1 519.3,988.3 523.1,995.8 523.2,996.0 523.2,996.2 523.3,996.4 523.3,996.5 523.3,996.7 523.3,996.9 523.3,997.1 521.7,1005.0 521.6,1005.2 521.6,1005.3 521.5,1005.5 521.4,1005.7 521.3,1005.8 521.1,1005.9 515.3,1011.8 515.3,1016.7 517.2,1019.6 523.7,1016.4 523.8,1016.3 532.5,1012.7 535.3,1004.3 535.3,997.1 532.4,990.0 526.5,985.5 526.4,985.4 526.3,985.3 526.2,985.1 521.5,978.8 521.4,978.7 521.3,978.5 521.2,978.4 521.2,978.2 519.0,970.2 518.0,969.7"/>
<polygon points="519.2,975.2 519.6,979.0 519.6,979.0 520.3,988.0 524.1,995.3 524.2,995.6 524.3,995.9 524.4,996.2 524.4,996.4 524.4,996.7 524.4,997.0 524.3,997.3 522.7,1005.2 522.7,1005.5 522.6,1005.8 522.4,1006.0 522.3,1006.3 522.1,1006.5 521.9,1006.7 516.4,1012.2 516.4,1016.4 517.6,1018.2 523.2,1015.4 523.3,1015.3 531.6,1011.9 534.2,1004.1 534.2,997.3 531.5,990.7 525.9,986.4 525.7,986.2 525.5,986.0 525.3,985.8 520.6,979.5 520.4,979.3 520.3,979.0 520.2,978.8 520.1,978.5 519.2,975.2"/>
<polygon points="515.8,971.4 516.2,975.5 516.2,975.2 516.2,974.9 516.3,974.6 516.3,974.3 516.4,974.1 516.6,973.8 516.7,973.5 516.9,973.3 517.1,973.1 517.3,972.9 517.6,972.7 517.8,972.6 518.1,972.4 518.4,972.3 518.6,972.3 518.9,972.2 519.2,972.2 519.5,972.2 519.8,972.3 520.1,972.4 520.4,972.5 520.7,972.6 520.9,972.7 521.1,972.9 521.4,973.1 521.6,973.4 521.7,973.6 521.9,973.9 522.0,974.1 522.1,974.4 522.6,976.2 520.6,969.0 516.6,966.6 515.8,971.4"/>
<polygon points="516.6,1022.0 521.6,1019.5 518.9,1020.8 518.7,1021.0 518.4,1021.0 518.1,1021.1 517.8,1021.1 517.6,1021.2 517.3,1021.1 517.0,1021.1 516.7,1021.0 516.4,1020.9 516.2,1020.8 515.9,1020.6 515.7,1020.5 515.5,1020.3 515.3,1020.1 515.1,1019.8 516.6,1022.0"/>
</g>
<path fill="none" stroke="#d3d3d3" stroke-width="6" stroke-linecap="round" d="M531.1 235.3h0M535.6 235.4h0M537.4 238.1h0M538.5 243.5h0M538.9 248.7h0M539.6 252.5h0M542.4 253.9h0M547.2 252.3h0M550.5 251.0h0M555.8 249.1h0M558.6 247.5h0M564.1 248.3h0M570.0 248.5h0M573.7 248.3h0M576.2 248.2h0M578.8 243.5h0M582.9 240.1h0M586.1 238.5h0M590.4 236.2h0M596.0 235.6h0M600.9 236.2h0M605.1 237.8h0M608.5 239.9h0M613.5 241.7h0M618.1 241.7h0M621.8 242.2h0M626.9 242.5h0M631.9 243.0h0M635.8 243.5h0M640.5 244.4h0M644.1 244.5h0M649.9 245.9h0M654.7 247.4h0M659.0 248.8h0M663.8 249.9h0M667.5 250.7h0M672.1 252.8h0M674.7 254.3h0M679.1 254.3h0M683.9 253.0h0M688.3 252.7h0M693.6 251.1h0M699.2 250.3h0M701.3 249.6h0M703.7 244.5h0M703.4 239.9h0M706.2 236.3h0M710.7 234.7h0M715.0 233.5h0M719.4 234.5h0M723.9 235.6h0M727.0 235.1h0M729.6 233.3h0M734.7 233.9h0M739.7 235.2h0M744.0 239.3h0M746.3 241.6h0M749.6 245.3h0M753.8 247.6h0M757.4 250.5h0M762.1 253.6h0M765.1 256.5h0M768.0 260.5h0M769.3 264.1h0M771.2 267.7h0M773.3 272.0h0M771.3 277.0h0M770.1 280.8h0M772.3 285.0h0M774.8 287.3h0M776.5 292.4h0M773.4 295.8h0M773.9 301.6h0M775.2 303.8h0M778.0 308.0h0M782.1 310.7h0M784.9 313.1h0M790.1 315.5h0M794.9 317.9h0M798.5 318.0h0M800.2 317.1h0M802.2 312.5h0M805.6 307.2h0M807.3 305.3h0M810.6 300.8h0M813.7 297.9h0M818.7 297.1h0M824.0 298.1h0M827.8 298.6h0M831.9 298.8h0M835.4 296.1h0M837.2 292.0h0M838.5 287.5h0M839.7 284.6h0M835.7 280.6h0M832.1 278.5h0M828.1 274.8h0M825.4 272.0h0M821.5 269.4h0M817.4 267.8h0M812.6 268.2h0M809.7 268.5h0M803.2 268.6h0M799.1 267.1h0M798.4 263.0h0M799.0 259.1h0M800.7 252.7h0M802.5 250.3h0M805.9 245.0h0M808.7 243.5h0M813.7 241.3h0M816.6 238.3h0M820.7 235.1h0M822.5 230.6h0M824.1 227.2h0M826.1 223.3h0M828.2 220.0h0M826.4 218.0h0M820.1 217.6h0M817.3 217.1h0M811.0 215.9h0M807.4 215.7h0M802.2 214.6h0M797.8 213.9h0M794.0 212.7h0M789.1 211.2h0M784.9 209.6h0M780.6 208.5h0M777.0 206.4h0M772.9 205.6h0M766.8 202.1h0M764.2 200.7h0M759.4 198.2h0M755.4 195.0h0M751.6 192.0h0M748.5 188.7h0M745.7 185.1h0M742.2 183.4h0M739.0 181.3h0M740.9 175.3h0M743.3 174.4h0M744.9 171.4h0M742.3 167.9h0M741.6 161.3h0M741.1 158.0h0M740.8 152.3h0M741.5 149.5h0M738.2 144.8h0M736.2 140.9h0M735.4 136.8h0M733.2 133.0h0M730.3 130.5h0M727.7 127.2h0M722.7 123.3h0M720.2 122.2h0M715.4 120.7h0M710.5 120.8h0M706.6 120.6h0M702.2 119.4h0M697.1 117.8h0M693.5 116.5h0M687.5 115.7h0M682.6 114.9h0M679.0 115.5h0M675.3 116.1h0M669.7 116.1h0M666.1 117.1h0M662.7 119.6h0M660.7 123.7h0M660.7 129.4h0M660.4 134.4h0M660.0 137.5h0M659.9 141.8h0M660.4 147.5h0M660.0 151.4h0M661.6 156.7h0M661.9 159.7h0M664.7 165.2h0M666.4 168.7h0M668.1 173.8h0M670.7 178.4h0M671.1 181.8h0M672.2 185.9h0M674.6 189.3h0M676.9 195.2h0M677.0 199.6h0M677.1 204.4h0M676.9 207.5h0M675.3 212.0h0M675.4 216.2h0M674.1 220.5h0M673.7 227.3h0M672.6 230.5h0M669.6 235.4h0M665.5 236.2h0M661.9 238.4h0M657.4 239.8h0M654.4 241.8h0M648.8 244.5h0M644.0 243.9h0M640.3 243.5h0M635.7 243.0h0M630.1 241.9h0M626.8 241.8h0M622.0 240.1h0M616.1 238.8h0M613.7 237.1h0M608.8 235.4h0M604.8 233.5h0M600.1 230.9h0M597.1 228.9h0M593.8 226.3h0M590.7 223.0h0M585.3 221.8h0M581.3 221.3h0M577.5 220.1h0M572.9 219.8h0M569.0 216.4h0M565.2 216.3h0M559.5 216.3h0M555.8 214.3h0M551.8 212.8h0M547.2 213.1h0M542.3 213.3h0M540.2 215.9h0M538.1 220.0h0M535.2 224.2h0M535.1 227.4h0M533.9 233.2h0M743.7 276.7h0M744.6 279.0h0M746.3 275.1h0M539.6 321.6h0M543.7 319.7h0M547.2 317.3h0M550.8 315.0h0M551.9 311.0h0M546.2 310.7h0M544.8 313.8h0M542.3 318.6h0M480.8 351.8h0M482.0 355.8h0M485.9 359.6h0M488.1 363.7h0M490.2 365.0h0M492.3 362.6h0M493.3 358.6h0M492.9 352.6h0M493.4 348.2h0M493.0 346.2h0M488.0 347.5h0M484.9 348.9h0M149.7 546.8h0M149.3 550.0h0M150.0 554.1h0M154.1 558.3h0M158.0 561.9h0M161.0 562.9h0M165.3 565.3h0M170.2 567.0h0M173.1 567.8h0M177.6 568.7h0M183.1 569.5h0M188.3 569.4h0M191.5 569.2h0M196.2 570.0h0M202.5 570.6h0M205.1 570.9h0M209.4 571.5h0M213.6 574.1h0M219.7 576.9h0M223.4 578.6h0M227.4 578.4h0M230.4 575.6h0M232.7 573.0h0M238.1 573.0h0M243.3 573.8h0M244.5 571.5h0M242.2 569.1h0M237.9 565.8h0M234.7 563.8h0M232.8 559.3h0M232.4 555.1h0M235.6 551.9h0M239.1 549.6h0M245.0 547.0h0M249.1 545.9h0M251.9 544.7h0M257.1 542.8h0M260.4 541.0h0M264.4 538.8h0M268.7 535.0h0M272.8 533.0h0M276.9 531.8h0M277.3 531.1h0M272.9 530.8h0M268.7 529.5h0M263.4 528.9h0M258.3 526.9h0M255.1 525.7h0M250.2 523.7h0M247.4 519.9h0M242.9 519.3h0M238.6 517.2h0M238.8 513.4h0M242.7 510.5h0M246.1 507.7h0M249.6 504.8h0M252.2 502.4h0M255.6 498.0h0M257.8 494.9h0M260.6 490.8h0M257.4 488.8h0M253.8 491.1h0M249.1 494.2h0M246.8 496.6h0M242.8 500.3h0M238.8 502.7h0M235.3 504.5h0M231.1 508.2h0M227.3 509.7h0M224.0 506.6h0M219.2 505.6h0M213.3 504.5h0M210.7 503.7h0M206.5 502.6h0M201.4 501.8h0M197.2 502.4h0M191.1 503.2h0M186.8 504.9h0M184.0 506.1h0M180.8 508.9h0M178.2 512.1h0M178.0 517.2h0M173.7 519.0h0M168.5 517.8h0M164.5 520.1h0M162.3 522.2h0M159.9 527.0h0M156.8 529.9h0M154.0 532.8h0M151.5 538.3h0M150.9 541.8h0M380.2 409.5h0M381.0 412.1h0M383.6 417.7h0M385.9 421.6h0M387.8 424.7h0M391.4 426.9h0M394.2 429.8h0M398.0 432.2h0M402.7 435.8h0M406.6 439.4h0M409.8 440.7h0M413.9 442.0h0M417.6 442.1h0M422.4 443.1h0M427.9 442.8h0M427.6 441.6h0M424.4 439.1h0M419.4 435.7h0M417.3 432.8h0M414.7 428.0h0M416.8 423.1h0M419.7 420.1h0M424.0 417.6h0M425.9 413.9h0M426.5 411.5h0M430.6 407.0h0M433.4 404.0h0M433.8 399.5h0M431.7 396.9h0M428.4 397.3h0M423.7 396.4h0M419.5 394.7h0M415.0 393.8h0M409.9 391.3h0M405.7 390.0h0M401.4 387.6h0M398.1 387.4h0M393.8 385.7h0M390.6 388.9h0M389.2 391.9h0M385.0 397.0h0M382.2 400.2h0M381.1 405.0h0M451.8 392.0h0M453.1 391.8h0M454.2 391.6h0M435.4 416.1h0M440.2 415.8h0M444.6 415.1h0M450.0 414.0h0M453.3 413.7h0M458.3 416.6h0M461.5 420.0h0M464.2 422.9h0M466.7 428.0h0M468.7 431.3h0M472.0 435.2h0M475.4 436.8h0M480.7 438.7h0M479.0 434.9h0M476.2 434.1h0M471.2 430.8h0M467.1 426.9h0M464.2 423.5h0M461.8 420.3h0M458.1 415.8h0M455.7 413.7h0M451.2 411.0h0M446.7 410.0h0M442.9 410.7h0M438.9 413.6h0M439.1 444.8h0M441.4 447.7h0M445.4 448.8h0M450.2 449.8h0M454.6 452.5h0M456.3 455.2h0M459.7 458.5h0M463.4 461.4h0M464.2 466.6h0M467.1 471.2h0M469.9 471.1h0M474.8 470.2h0M479.6 470.1h0M483.6 470.1h0M489.0 474.3h0M490.6 476.8h0M491.1 482.1h0M490.0 486.5h0M486.6 491.1h0M483.6 493.5h0M484.2 497.8h0M480.3 502.5h0M481.1 506.9h0M480.7 510.4h0M476.5 515.3h0M473.7 516.2h0M468.2 518.7h0M465.6 520.2h0M460.2 521.5h0M455.8 522.3h0M451.3 523.4h0M445.3 524.2h0M442.4 524.8h0M438.2 526.9h0M434.5 531.2h0M430.9 534.4h0M428.4 538.0h0M427.7 540.4h0M424.6 544.3h0M420.5 548.9h0M420.5 551.9h0M421.5 557.7h0M422.2 561.2h0M423.4 566.5h0M425.1 571.1h0M425.6 574.0h0M428.9 578.4h0M430.3 581.3h0M432.5 585.7h0M435.7 589.3h0M439.9 591.6h0M443.7 593.7h0M447.4 594.5h0M452.9 596.4h0M457.8 598.2h0M461.3 597.7h0M466.1 596.5h0M470.3 594.7h0M474.2 594.4h0M479.5 593.4h0M483.1 592.4h0M487.3 590.6h0M491.7 587.9h0M495.9 585.4h0M500.0 582.9h0M503.2 581.0h0M507.0 576.8h0M509.8 573.2h0M511.9 570.7h0M515.4 566.7h0M517.6 562.4h0M517.7 558.5h0M520.3 553.8h0M521.5 551.1h0M520.1 547.0h0M519.2 541.7h0M518.7 538.9h0M517.8 534.0h0M518.7 528.4h0M523.4 526.7h0M525.0 523.0h0M526.6 520.2h0M530.1 515.8h0M532.1 512.2h0M534.7 508.9h0M539.7 506.5h0M543.5 506.3h0M548.4 505.1h0M553.4 505.0h0M557.9 504.2h0M562.6 502.2h0M565.3 501.1h0M567.9 499.4h0M566.2 495.0h0M566.9 491.0h0M566.3 485.8h0M568.8 480.9h0M570.9 477.3h0M574.4 474.3h0M579.2 473.2h0M584.7 472.1h0M587.9 471.6h0M592.6 471.2h0M597.6 470.1h0M602.0 469.3h0M607.9 468.8h0M612.2 468.7h0M616.6 468.0h0M619.5 467.4h0M624.7 466.0h0M628.7 466.1h0M634.5 465.3h0M639.0 465.1h0M642.4 464.3h0M648.6 463.1h0M652.9 463.2h0M656.2 462.9h0M661.2 462.1h0M665.5 461.6h0M670.5 460.8h0M675.7 462.2h0M679.4 463.6h0M684.8 466.5h0M689.2 468.2h0M693.1 471.0h0M696.1 472.8h0M700.3 474.6h0M705.1 476.8h0M709.2 476.1h0M714.0 474.7h0M717.5 474.4h0M722.0 472.0h0M723.3 468.1h0M724.9 463.4h0M725.9 460.3h0M726.0 455.6h0M724.4 451.0h0M720.8 447.4h0M718.9 444.9h0M715.9 440.7h0M712.6 436.4h0M710.2 434.2h0M706.0 431.4h0M701.7 430.1h0M697.1 426.6h0M694.6 423.8h0M690.6 422.2h0M685.9 421.7h0M681.4 421.2h0M678.6 422.8h0M673.4 426.6h0M669.1 427.6h0M666.0 428.8h0M659.8 428.6h0M655.4 428.0h0M650.9 427.0h0M646.6 425.8h0M643.2 423.3h0M639.2 419.0h0M636.9 417.1h0M633.0 413.3h0M629.8 408.9h0M628.0 406.3h0M625.0 403.1h0M622.0 400.3h0M617.6 395.9h0M615.4 391.7h0M613.3 388.4h0M610.6 385.6h0M607.2 380.4h0M604.9 379.7h0M598.6 380.0h0M594.5 381.1h0M591.8 382.8h0M589.2 385.9h0M587.9 389.7h0M585.9 396.2h0M585.8 398.7h0M584.7 405.2h0M585.3 409.6h0M586.3 414.1h0M587.5 418.1h0M587.3 422.8h0M585.6 425.8h0M581.5 429.8h0M579.5 432.6h0M577.1 436.1h0M574.8 440.0h0M568.4 442.0h0M568.1 445.8h0M567.5 449.1h0M566.4 454.4h0M563.9 459.2h0M562.6 461.7h0M559.2 466.0h0M554.4 467.9h0M551.2 470.6h0M547.2 472.3h0M541.4 473.1h0M537.5 473.0h0M536.0 467.1h0M535.0 464.4h0M534.1 458.4h0M534.1 454.9h0M534.2 449.7h0M533.8 444.7h0M532.6 440.9h0M530.5 437.5h0M526.4 433.8h0M524.3 431.8h0M525.1 425.7h0M523.6 422.9h0M520.5 421.0h0M516.7 417.3h0M513.7 418.1h0M512.9 420.7h0M512.1 426.4h0M512.0 431.2h0M511.5 434.0h0M509.7 438.6h0M506.7 443.5h0M503.0 445.0h0M499.3 446.7h0M492.8 448.1h0M489.6 448.5h0M484.1 447.3h0M480.9 447.1h0M475.3 445.2h0M471.0 444.0h0M466.7 443.6h0M461.7 442.9h0M456.8 442.5h0M452.5 443.1h0M448.0 444.1h0M443.6 445.0h0M553.3 514.5h0M553.8 517.0h0M557.8 521.2h0M560.3 523.1h0M565.3 525.7h0M568.5 526.0h0M565.5 522.9h0M562.2 519.9h0M559.3 516.5h0M555.9 513.7h0M586.3 547.2h0M588.7 547.0h0M588.8 545.9h0M860.8 363.9h0M864.3 367.2h0M867.4 368.7h0M871.2 373.2h0M874.7 374.5h0M880.2 374.9h0M884.8 375.3h0M888.2 374.9h0M893.4 373.6h0M898.8 374.0h0M901.1 372.1h0M904.4 370.5h0M900.5 370.0h0M895.1 369.0h0M889.7 370.1h0M886.8 370.5h0M880.6 372.1h0M876.9 370.8h0M873.6 369.7h0M869.0 368.1h0M864.6 366.6h0M913.7 371.2h0M917.3 374.3h0M920.6 375.5h0M925.6 375.3h0M928.9 374.4h0M933.9 373.3h0M938.4 373.2h0M942.2 375.0h0M946.5 377.8h0M950.9 379.5h0M954.8 378.1h0M959.9 376.5h0M964.9 374.5h0M968.1 371.8h0M968.9 369.1h0M965.8 366.9h0M961.3 364.7h0M956.6 362.8h0M952.6 363.0h0M949.0 362.7h0M944.2 361.6h0M941.4 358.9h0M936.4 358.0h0M932.6 355.7h0M929.5 352.4h0M931.2 355.2h0M932.7 358.9h0M932.3 364.6h0M930.0 367.6h0M926.5 368.3h0M920.7 367.2h0M916.3 369.6h0M733.4 537.5h0M735.8 540.1h0M733.0 546.2h0M731.6 549.8h0M728.5 554.7h0M727.4 557.2h0M726.4 560.9h0M730.5 561.2h0M733.2 565.9h0M736.8 567.1h0M740.0 565.9h0M745.7 567.4h0M749.1 570.8h0M752.2 573.8h0M754.9 575.8h0M758.4 574.2h0M760.9 571.1h0M760.3 567.5h0M758.9 563.6h0M757.4 559.7h0M755.3 553.4h0M753.3 550.4h0M751.7 545.4h0M751.9 541.6h0M747.7 539.7h0M744.7 537.6h0M740.9 535.0h0M737.4 535.7h0M705.0 578.4h0M709.0 581.2h0M712.2 583.6h0M714.0 586.4h0M718.5 590.9h0M720.8 593.7h0M723.3 596.6h0M728.6 599.3h0M732.7 600.8h0M736.1 601.9h0M740.1 603.8h0M743.6 605.9h0M749.9 605.5h0M754.6 604.8h0M758.8 603.4h0M762.0 603.2h0M766.8 603.1h0M772.4 602.0h0M775.4 599.1h0M778.6 596.2h0M780.9 593.2h0M783.3 587.9h0M784.7 583.5h0M782.9 580.6h0M778.3 581.9h0M773.9 581.9h0M770.7 580.9h0M765.7 583.6h0M763.1 584.9h0M756.6 585.1h0M754.6 586.7h0M750.4 590.9h0M746.2 590.4h0M742.0 589.5h0M736.9 591.0h0M732.2 590.6h0M728.7 590.7h0M723.4 589.6h0M718.8 589.6h0M714.9 585.9h0M712.1 583.1h0M707.5 579.1h0M778.7 567.1h0M779.3 568.4h0M785.3 569.4h0M785.4 567.0h0M782.7 564.2h0M909.7 542.9h0M913.5 541.6h0M917.3 538.0h0M919.8 534.0h0M916.4 536.1h0M913.0 539.4h0M911.6 565.9h0M912.4 565.7h0M912.2 566.3h0M1009.3 620.1h0M1004.8 621.2h0M1001.1 621.6h0M997.5 622.8h0M992.3 624.2h0M988.4 625.7h0M983.6 627.8h0M978.3 629.8h0M975.7 630.8h0M971.0 633.6h0M966.0 635.7h0M963.8 638.3h0M962.5 642.2h0M961.2 646.7h0M958.6 650.4h0M957.2 653.8h0M953.1 657.4h0M948.6 661.0h0M946.9 665.3h0M945.7 667.4h0M942.3 672.6h0M940.8 677.0h0M938.9 679.5h0M937.4 684.0h0M934.9 688.0h0M933.8 692.4h0M931.1 696.7h0M928.2 699.8h0M924.5 703.0h0M921.2 706.3h0M916.5 707.0h0M910.7 705.1h0M908.8 703.1h0M905.6 698.4h0M902.7 696.9h0M898.4 699.4h0M896.0 703.5h0M896.0 706.8h0M898.2 712.7h0M899.0 715.3h0M900.1 720.9h0M901.6 724.6h0M903.6 729.1h0M906.1 734.0h0M908.1 736.3h0M910.1 740.7h0M912.8 743.8h0M913.6 750.2h0M913.8 753.4h0M913.4 758.0h0M912.8 764.4h0M913.1 767.4h0M912.4 771.7h0M912.8 777.6h0M913.1 781.0h0M915.1 784.4h0M921.1 785.2h0M925.1 783.8h0M928.2 782.9h0M932.1 781.5h0M938.4 781.8h0M941.4 781.3h0M948.2 781.9h0M952.9 781.8h0M955.8 781.9h0M961.5 783.0h0M965.5 783.0h0M969.7 781.2h0M973.3 779.1h0M978.8 777.8h0M983.6 776.9h0M987.5 776.5h0M991.1 776.6h0M995.8 775.3h0M1002.1 775.0h0M1006.6 773.7h0M1009.3 773.6h0M1013.3 771.4h0M1017.6 769.2h0M1021.6 766.1h0M1025.3 762.6h0M1027.6 760.8h0M1031.7 757.1h0M1036.5 753.9h0M1038.4 750.2h0M1041.0 747.1h0M1043.7 742.3h0M1045.6 738.8h0M1048.0 736.2h0M1050.2 732.5h0M1052.7 726.2h0M1053.6 722.1h0M1054.9 718.3h0M1056.8 714.9h0M1058.2 710.6h0M1059.4 706.4h0M1060.5 702.0h0M1062.9 696.8h0M1064.7 691.8h0M1064.6 687.3h0M1064.5 682.8h0M1065.1 679.3h0M1064.6 675.4h0M1064.8 670.5h0M1064.9 664.8h0M1064.7 661.8h0M1064.5 657.1h0M1063.3 653.2h0M1061.8 648.7h0M1058.5 644.4h0M1055.9 641.8h0M1051.7 640.3h0M1046.0 638.0h0M1042.1 636.3h0M1038.2 634.2h0M1033.6 631.0h0M1029.6 628.5h0M1026.2 626.8h0M1023.2 625.2h0M1017.9 622.1h0M1013.7 621.3h0M599.8 647.0h0M599.1 650.7h0M599.0 657.0h0M598.0 660.1h0M596.4 664.6h0M595.6 668.6h0M594.4 673.7h0M593.3 677.6h0M595.6 683.2h0M596.7 687.3h0M598.5 691.6h0M599.5 696.6h0M599.8 700.3h0M603.7 704.0h0M606.9 706.0h0M610.5 708.6h0M614.6 708.1h0M618.2 707.6h0M623.9 707.5h0M628.3 708.1h0M632.6 707.7h0M636.8 706.9h0M640.3 706.2h0M646.0 707.0h0M650.8 708.4h0M655.4 709.5h0M658.5 710.7h0M662.9 714.4h0M665.8 717.5h0M668.8 720.6h0M670.5 726.4h0M673.2 730.1h0M675.8 733.5h0M676.4 736.3h0M676.6 733.0h0M676.1 728.2h0M676.1 722.6h0M676.2 717.3h0M675.0 713.1h0M674.8 708.7h0M672.0 705.3h0M669.4 700.8h0M668.3 698.4h0M666.1 694.6h0M663.4 690.8h0M659.7 686.0h0M656.6 684.2h0M653.1 681.4h0M650.9 678.1h0M648.7 672.4h0M649.0 669.1h0M649.6 664.8h0M650.8 660.0h0M646.8 657.5h0M641.7 657.3h0M638.1 659.3h0M633.5 660.0h0M631.7 656.7h0M628.4 652.8h0M625.1 649.5h0M621.8 647.4h0M616.4 645.6h0M613.6 645.3h0M608.2 645.1h0M604.6 645.9h0M543.2 767.0h0M542.7 772.1h0M544.3 775.8h0M549.6 779.0h0M553.8 780.4h0M558.1 782.0h0M561.6 781.7h0M566.4 781.8h0M572.0 780.3h0M574.8 778.7h0M578.8 775.3h0M578.9 771.1h0M577.7 767.5h0M574.8 763.4h0M570.6 762.8h0M565.5 764.5h0M561.2 765.4h0M555.5 765.3h0M550.8 765.3h0M545.2 766.4h0M609.9 844.9h0M610.9 846.1h0M610.0 841.9h0M618.4 868.9h0M618.6 872.8h0M619.9 875.9h0M623.7 878.3h0M625.3 884.8h0M625.8 889.0h0M628.0 892.4h0M630.2 896.8h0M629.8 901.0h0M629.9 906.9h0M628.7 911.5h0M626.8 914.8h0M625.3 918.2h0M625.1 924.8h0M628.2 926.5h0M631.9 925.5h0M632.2 920.8h0M635.6 918.9h0M639.5 917.2h0M644.1 915.8h0M648.7 916.2h0M654.6 916.5h0M657.5 917.0h0M655.4 917.2h0M652.1 915.4h0M648.5 913.8h0M644.3 911.6h0M640.3 908.5h0M637.2 906.0h0M633.9 902.7h0M632.9 896.5h0M630.0 892.7h0M628.2 888.3h0M625.9 884.8h0M623.8 880.0h0M622.3 877.1h0M620.1 873.6h0M697.0 932.1h0M701.2 933.7h0M704.3 935.4h0M709.0 938.2h0M711.2 943.0h0M712.8 947.3h0M714.6 949.6h0M716.7 946.3h0M722.0 943.7h0M724.2 941.6h0M724.6 938.0h0M719.8 935.6h0M714.7 935.5h0M710.5 935.7h0M706.7 934.9h0M700.1 934.0h0M693.4 850.6h0M694.7 854.1h0M698.8 858.0h0M702.1 858.4h0M707.4 860.3h0M711.5 860.4h0M717.0 860.5h0M721.8 860.3h0M724.6 859.2h0M730.8 858.9h0M734.4 857.4h0M737.6 853.8h0M739.9 850.2h0M742.4 846.0h0M742.6 842.8h0M739.2 840.6h0M735.3 840.9h0M729.2 841.7h0M725.0 841.8h0M721.7 841.3h0M719.5 835.5h0M721.5 833.0h0M725.1 830.4h0M727.3 827.8h0M724.7 824.0h0M723.4 821.9h0M719.6 822.8h0M716.1 828.7h0M713.6 831.8h0M710.5 833.5h0M705.5 833.5h0M704.7 838.4h0M703.5 842.0h0M700.1 844.5h0M695.8 846.7h0M721.4 718.5h0M725.8 721.1h0M730.3 721.4h0M733.1 718.9h0M737.2 717.2h0M738.5 715.1h0M735.1 715.9h0M731.1 717.1h0M726.0 718.0h0M746.6 797.2h0M748.7 793.4h0M749.6 790.4h0M749.0 793.7h0M325.6 730.4h0M323.8 736.3h0M322.6 740.8h0M322.1 743.7h0M320.2 748.2h0M318.9 753.1h0M318.2 757.9h0M317.1 763.1h0M315.7 766.8h0M314.6 771.1h0M313.2 776.3h0M312.5 779.0h0M310.7 784.7h0M308.4 789.4h0M307.1 791.7h0M305.4 795.7h0M302.1 801.0h0M300.6 804.7h0M298.5 808.1h0M295.5 812.9h0M293.9 815.6h0M291.6 819.8h0M290.3 825.5h0M290.8 830.3h0M291.6 833.3h0M292.9 837.8h0M295.4 842.2h0M297.5 847.4h0M299.6 849.7h0M303.1 852.2h0M307.2 855.7h0M311.0 857.8h0M314.3 858.8h0M318.6 860.9h0M324.6 862.6h0M327.7 862.7h0M332.2 864.0h0M337.3 864.8h0M341.9 865.5h0M346.7 865.7h0M350.1 866.1h0M355.1 866.2h0M359.0 863.8h0M361.4 861.5h0M366.8 863.2h0M368.6 867.0h0M372.0 870.7h0M375.9 872.6h0M381.1 872.3h0M384.1 871.6h0M389.8 870.5h0M392.0 869.2h0M394.4 864.2h0M395.4 861.1h0M400.9 858.5h0M405.7 858.2h0M408.9 857.4h0M412.9 854.2h0M417.1 853.5h0M420.9 854.5h0M424.9 855.4h0M428.4 858.4h0M432.2 861.4h0M436.0 865.3h0M439.4 867.0h0M444.4 869.0h0M447.5 869.7h0M452.6 870.9h0M458.7 870.9h0M462.9 871.4h0M467.7 871.9h0M471.5 873.0h0M475.4 873.5h0M479.3 875.8h0M484.1 879.4h0M487.3 880.9h0M491.5 884.5h0M493.6 886.8h0M497.0 889.7h0M500.2 886.5h0M504.1 884.3h0M509.7 881.4h0M512.1 878.9h0M510.8 876.0h0M506.5 873.2h0M503.1 871.9h0M497.7 871.0h0M493.5 868.8h0M490.0 867.8h0M485.1 865.6h0M483.1 862.9h0M480.8 858.3h0M478.1 853.8h0M474.7 850.5h0M470.9 847.8h0M468.0 846.1h0M464.0 843.9h0M459.3 840.9h0M456.1 839.4h0M451.6 837.0h0M448.6 834.9h0M443.3 832.9h0M438.7 830.6h0M435.3 828.2h0M431.4 825.1h0M428.4 823.1h0M425.1 820.3h0M420.0 818.0h0M415.3 816.4h0M413.5 811.7h0M412.8 808.2h0M410.5 803.5h0M408.2 799.1h0M406.5 795.1h0M404.3 791.8h0M402.5 786.8h0M401.7 781.8h0M401.4 779.1h0M401.7 773.7h0M400.1 770.3h0M395.9 767.2h0M393.1 766.1h0M389.6 762.2h0M387.8 758.1h0M386.7 753.1h0M386.2 748.4h0M386.2 743.1h0M387.8 740.4h0M388.9 736.3h0M386.1 732.0h0M383.5 729.9h0M378.5 727.0h0M374.5 723.9h0M370.3 722.5h0M366.3 722.1h0M360.9 721.3h0M356.7 720.7h0M352.7 720.1h0M348.4 720.0h0M343.8 719.0h0M338.7 720.9h0M335.4 722.7h0M331.7 723.5h0M327.6 727.5h0M520.2 976.0h0M520.4 979.4h0M520.6 984.6h0M521.7 988.8h0M523.7 992.8h0M524.5 997.7h0M523.1 1003.8h0M522.6 1006.7h0M518.0 1011.7h0M516.4 1014.9h0M517.9 1017.3h0M522.7 1014.7h0M526.3 1013.5h0M530.7 1012.2h0M532.5 1007.1h0M533.7 1004.1h0M533.5 997.7h0M533.0 994.4h0M530.9 990.4h0M526.7 987.6h0M523.5 983.6h0M520.8 980.1h0"/>
<polygon fill="#b69ce3" points="479.0,351.0 484.0,347.0 491.0,344.0 497.0,344.0 496.0,352.0 494.0,360.0 490.0,364.0 486.0,365.0 482.0,360.0 479.0,356.0"/>
<polygon fill="#9d77ec" points="795.5,781.8 806.0,774.3 812.8,777.3 812.0,784.0 810.5,790.0 813.5,796.0 809.0,799.0 803.0,796.0 800.0,791.5 797.0,787.0"/>
<g fill="#fff">
<polygon points="688.3,190.8 698.3,198.3 713.3,201.7 718.3,208.3 720.0,216.7 710.0,221.7 700.0,228.3 690.0,231.7 683.3,230.0 681.7,223.3 685.0,213.3 685.0,203.3 686.7,195.0"/>
<polygon points="783.0,289.0 792.0,287.0 799.0,292.0 797.0,298.0 788.0,297.0"/>
<polygon points="223.3,564.0 228.0,566.0 232.0,569.3 233.3,563.3 232.0,558.0 226.7,562.0"/>
<polygon points="410.0,412.5 413.0,413.0 413.5,416.0 410.5,416.5"/>
<polygon points="419.5,407.0 427.0,406.5 429.0,410.0 426.0,412.5 420.0,412.0"/>
<polygon points="408.0,425.5 414.0,425.0 418.0,427.0 416.0,430.0 410.0,430.0"/>
<polygon points="499.2,476.7 506.7,473.3 513.3,478.3 520.0,478.3 521.7,486.7 518.3,493.3 513.3,498.3 506.7,500.0 500.0,498.3 498.3,490.0 497.5,483.3"/>
<polygon points="427.2,555.2 435.3,549.3 443.5,551.7 450.5,549.3 461.0,551.7 459.8,555.2 449.3,555.2 441.2,561.0 437.7,562.2 431.8,559.8"/>
<polygon points="462.2,523.7 469.2,524.8 468.0,535.3 463.3,538.8 461.0,533.0"/>
<polygon points="480.0,548.0 485.0,549.0 485.5,554.0 481.0,553.0"/>
<polygon points="527.0,504.0 533.0,503.0 538.0,507.0 531.0,510.0"/>
<polygon points="541.0,433.0 548.0,437.0 556.0,445.0 562.0,446.0 561.0,452.0 552.0,458.0 544.0,461.0 541.0,452.0"/>
<polygon points="733.0,551.0 738.0,550.0 738.0,555.0 734.0,556.0"/>
<polygon points="750.0,565.0 755.0,565.0 755.0,570.0"/>
<polygon points="645.0,697.0 650.0,697.0 651.0,702.0 645.0,702.0"/>
<polygon points="661.0,703.0 666.0,703.0 666.0,707.0 661.0,707.0"/>
<polygon points="397.0,847.0 405.0,844.5 412.0,850.0 409.0,857.0 401.0,859.0 397.0,854.0"/>
<polygon points="418.0,853.0 425.0,851.0 433.0,855.0 437.0,862.0 431.0,864.0 424.0,860.0"/>
<polygon points="633.0,447.0 636.5,446.5 638.0,449.0 635.5,451.5 633.0,450.0"/>
<polygon points="651.5,442.0 654.5,442.5 654.5,446.0 652.0,446.5"/>
<polygon points="576.0,449.5 579.0,450.0 579.5,456.0 577.5,456.5"/>
<polygon points="621.0,434.0 624.0,434.0 624.5,436.5 621.5,436.8"/>
</g><g fill="none" stroke="#d3d3d3" stroke-linecap="round" stroke-linejoin="round">
<polyline stroke-width="5.4" points="710.0,270.8 718.3,269.2 730.0,273.3 740.0,278.3 742.5,283.3 746.7,278.3 752.5,267.5"/>
<polyline stroke-width="7.0" points="496.7,374.5 501.7,383.3 506.7,391.7 511.7,401.7 513.5,410.0 518.0,416.0"/>
<polyline stroke-width="5.6" points="551.0,509.0 560.0,518.0 570.0,527.0 582.0,537.0 592.0,546.0 599.5,553.5"/>
<polyline stroke-width="6.5" points="923.4,402.1 930.0,397.0 936.0,392.0 940.3,388.9"/>
<polyline stroke-width="7.0" points="921.0,534.0 915.0,537.0 910.0,540.0 905.0,546.0 902.0,552.0 899.0,560.0 896.0,567.0 894.0,575.0 895.0,583.0 898.0,591.0"/>
<polyline stroke-width="5.5" points="915.0,558.0 912.0,564.0 914.0,568.0 913.0,576.0 912.5,582.0 912.0,589.0"/>
<polyline stroke-width="7.0" points="598.7,712.7 596.7,720.7 592.7,728.7 588.7,738.0 583.3,746.0 578.0,752.7 576.7,760.0"/>
<polyline stroke-width="6.5" points="609.0,846.0 612.0,855.0 616.0,866.0 620.0,876.0 624.0,886.0 628.0,895.0 632.0,903.0"/>
<polyline stroke-width="6.0" points="640.0,913.0 650.0,914.0 660.0,917.0 669.0,921.0"/>
</g><g>
<circle cx="690.8" cy="195.8" r="3.0" fill="#d3d3d3"/>
<circle cx="698.3" cy="200.8" r="3.0" fill="#d3d3d3"/>
<circle cx="705.8" cy="205.8" r="3.0" fill="#d3d3d3"/>
<circle cx="710.0" cy="210.0" r="3.0" fill="#d3d3d3"/>
<circle cx="708.3" cy="215.8" r="3.0" fill="#d3d3d3"/>
<circle cx="691.7" cy="219.7" r="3.0" fill="#d3d3d3"/>
<circle cx="688.3" cy="205.0" r="3.0" fill="#d3d3d3"/>
<circle cx="700.8" cy="267.5" r="3.0" fill="#d3d3d3"/>
<circle cx="695.0" cy="260.0" r="3.0" fill="#d3d3d3"/>
<circle cx="703.3" cy="260.0" r="3.0" fill="#d3d3d3"/>
<circle cx="710.0" cy="264.0" r="3.0" fill="#d3d3d3"/>
<circle cx="715.0" cy="260.0" r="3.0" fill="#d3d3d3"/>
<circle cx="719.2" cy="252.5" r="3.0" fill="#d3d3d3"/>
<circle cx="709.2" cy="249.2" r="3.0" fill="#d3d3d3"/>
<circle cx="759.2" cy="273.3" r="3.0" fill="#d3d3d3"/>
<circle cx="756.3" cy="281.3" r="3.0" fill="#d3d3d3"/>
<circle cx="807.5" cy="336.7" r="3.0" fill="#d3d3d3"/>
<circle cx="812.0" cy="316.3" r="3.0" fill="#d3d3d3"/>
<circle cx="822.5" cy="311.7" r="3.0" fill="#d3d3d3"/>
<circle cx="816.7" cy="310.0" r="3.0" fill="#d3d3d3"/>
<circle cx="821.7" cy="305.8" r="3.0" fill="#d3d3d3"/>
<circle cx="530.3" cy="248.3" r="3.0" fill="#d3d3d3"/>
<circle cx="543.0" cy="262.5" r="3.0" fill="#d3d3d3"/>
<circle cx="543.8" cy="267.8" r="3.0" fill="#d3d3d3"/>
<circle cx="586.5" cy="248.3" r="3.0" fill="#d3d3d3"/>
<circle cx="591.0" cy="246.0" r="3.0" fill="#d3d3d3"/>
<circle cx="600.0" cy="246.8" r="3.0" fill="#d3d3d3"/>
<circle cx="596.0" cy="244.5" r="3.0" fill="#d3d3d3"/>
<circle cx="671.3" cy="119.5" r="3.0" fill="#9d77ec"/>
<circle cx="668.8" cy="141.2" r="3.0" fill="#b093e5"/>
<circle cx="576.0" cy="235.8" r="3.0" fill="#b093e5"/>
<circle cx="825.5" cy="299.6" r="3.0" fill="#b093e5"/>
<circle cx="545.5" cy="301.8" r="3.0" fill="#d3d3d3"/>
<circle cx="481.5" cy="351.5" r="3.0" fill="#8e65f0"/>
<circle cx="492.0" cy="346.5" r="3.0" fill="#966eee"/>
<circle cx="488.0" cy="359.0" r="3.0" fill="#8e65f0"/>
<circle cx="490.0" cy="349.0" r="3.0" fill="#9d77ec"/>
<circle cx="485.0" cy="355.0" r="3.0" fill="#b093e5"/>
<circle cx="494.0" cy="344.0" r="3.0" fill="#aa89e7"/>
<circle cx="285.0" cy="391.3" r="3.0" fill="#d3d3d3"/>
<circle cx="288.7" cy="394.3" r="3.0" fill="#d3d3d3"/>
<circle cx="504.2" cy="480.0" r="3.0" fill="#d3d3d3"/>
<circle cx="516.7" cy="493.3" r="3.0" fill="#d3d3d3"/>
<circle cx="514.2" cy="483.3" r="3.0" fill="#d3d3d3"/>
<circle cx="540.0" cy="433.3" r="3.0" fill="#d3d3d3"/>
<circle cx="546.7" cy="440.0" r="3.0" fill="#d3d3d3"/>
<circle cx="549.2" cy="439.2" r="3.0" fill="#d3d3d3"/>
<circle cx="548.3" cy="449.2" r="3.0" fill="#d3d3d3"/>
<circle cx="550.0" cy="453.3" r="3.0" fill="#d3d3d3"/>
<circle cx="556.7" cy="450.0" r="3.0" fill="#d3d3d3"/>
<circle cx="560.0" cy="455.0" r="3.0" fill="#d3d3d3"/>
<circle cx="540.8" cy="456.7" r="3.0" fill="#d3d3d3"/>
<circle cx="561.7" cy="443.3" r="3.0" fill="#d3d3d3"/>
<circle cx="535.8" cy="439.2" r="3.0" fill="#d3d3d3"/>
<circle cx="422.0" cy="435.0" r="3.0" fill="#d3d3d3"/>
<circle cx="429.0" cy="428.0" r="3.0" fill="#d3d3d3"/>
<circle cx="424.0" cy="437.5" r="3.0" fill="#d3d3d3"/>
<circle cx="440.4" cy="401.2" r="3.0" fill="#d3d3d3"/>
<circle cx="446.2" cy="401.2" r="3.0" fill="#d3d3d3"/>
<circle cx="431.2" cy="410.0" r="3.0" fill="#d3d3d3"/>
<circle cx="430.0" cy="418.3" r="3.0" fill="#d3d3d3"/>
<circle cx="430.8" cy="424.2" r="3.0" fill="#d3d3d3"/>
<circle cx="499.2" cy="399.2" r="3.0" fill="#d3d3d3"/>
<circle cx="505.8" cy="409.5" r="3.0" fill="#d3d3d3"/>
<circle cx="531.7" cy="433.3" r="3.0" fill="#d3d3d3"/>
<circle cx="545.0" cy="440.0" r="3.0" fill="#d3d3d3"/>
<circle cx="550.0" cy="439.2" r="3.0" fill="#d3d3d3"/>
<circle cx="548.0" cy="448.0" r="3.0" fill="#d3d3d3"/>
<circle cx="553.0" cy="452.0" r="3.0" fill="#d3d3d3"/>
<circle cx="550.0" cy="458.0" r="3.0" fill="#d3d3d3"/>
<circle cx="556.0" cy="462.0" r="3.0" fill="#d3d3d3"/>
<circle cx="560.0" cy="458.0" r="3.0" fill="#d3d3d3"/>
<circle cx="563.0" cy="447.0" r="3.0" fill="#d3d3d3"/>
<circle cx="565.0" cy="453.0" r="3.0" fill="#d3d3d3"/>
<circle cx="558.0" cy="446.0" r="3.0" fill="#d3d3d3"/>
<circle cx="544.0" cy="452.0" r="3.0" fill="#d3d3d3"/>
<circle cx="542.0" cy="445.0" r="3.0" fill="#d3d3d3"/>
<circle cx="558.4" cy="512.5" r="3.0" fill="#d3d3d3"/>
<circle cx="574.0" cy="502.5" r="3.0" fill="#d3d3d3"/>
<circle cx="594.2" cy="401.8" r="3.0" fill="#b093e5"/>
<circle cx="482.0" cy="477.4" r="3.0" fill="#b093e5"/>
<circle cx="516.1" cy="542.6" r="3.0" fill="#b093e5"/>
<circle cx="513.2" cy="553.3" r="3.0" fill="#b093e5"/>
<circle cx="554.7" cy="494.2" r="3.0" fill="#b093e5"/>
<circle cx="920.5" cy="395.7" r="3.0" fill="#d3d3d3"/>
<circle cx="888.4" cy="426.6" r="3.0" fill="#d3d3d3"/>
<circle cx="891.3" cy="427.8" r="3.0" fill="#d3d3d3"/>
<circle cx="900.7" cy="430.4" r="3.0" fill="#d3d3d3"/>
<circle cx="893.7" cy="433.6" r="3.0" fill="#d3d3d3"/>
<circle cx="897.5" cy="438.3" r="3.0" fill="#d3d3d3"/>
<circle cx="720.9" cy="495.7" r="3.0" fill="#d3d3d3"/>
<circle cx="724.2" cy="501.8" r="3.0" fill="#d3d3d3"/>
<circle cx="733.7" cy="520.0" r="3.0" fill="#d3d3d3"/>
<circle cx="735.8" cy="524.3" r="3.0" fill="#d3d3d3"/>
<circle cx="719.2" cy="528.4" r="3.0" fill="#d3d3d3"/>
<circle cx="719.7" cy="530.1" r="3.0" fill="#d3d3d3"/>
<circle cx="721.7" cy="545.9" r="3.0" fill="#d3d3d3"/>
<circle cx="727.1" cy="545.3" r="3.0" fill="#d3d3d3"/>
<circle cx="723.0" cy="567.2" r="3.0" fill="#d3d3d3"/>
<circle cx="725.6" cy="576.8" r="3.0" fill="#d3d3d3"/>
<circle cx="715.1" cy="579.7" r="3.0" fill="#d3d3d3"/>
<circle cx="743.4" cy="582.0" r="3.0" fill="#d3d3d3"/>
<circle cx="729.1" cy="571.5" r="3.0" fill="#d3d3d3"/>
<circle cx="717.0" cy="533.0" r="3.0" fill="#d3d3d3"/>
<circle cx="722.0" cy="534.0" r="3.0" fill="#d3d3d3"/>
<circle cx="913.0" cy="551.5" r="3.0" fill="#d3d3d3"/>
<circle cx="901.5" cy="597.0" r="3.0" fill="#d3d3d3"/>
<circle cx="904.0" cy="623.0" r="3.0" fill="#d3d3d3"/>
<circle cx="929.5" cy="639.0" r="3.0" fill="#d3d3d3"/>
<circle cx="774.0" cy="631.9" r="3.0" fill="#d3d3d3"/>
<circle cx="903.3" cy="556.2" r="3.0" fill="#b396e4"/>
<circle cx="904.2" cy="623.0" r="3.0" fill="#d3d3d3"/>
<circle cx="929.2" cy="640.8" r="3.0" fill="#d3d3d3"/>
<circle cx="925.8" cy="654.2" r="3.0" fill="#d3d3d3"/>
<circle cx="947.5" cy="651.7" r="3.0" fill="#d3d3d3"/>
<circle cx="937.5" cy="667.2" r="3.0" fill="#d3d3d3"/>
<circle cx="928.3" cy="671.7" r="3.0" fill="#d3d3d3"/>
<circle cx="912.5" cy="679.2" r="3.0" fill="#d3d3d3"/>
<circle cx="927.2" cy="684.2" r="3.0" fill="#d3d3d3"/>
<circle cx="901.7" cy="690.0" r="3.0" fill="#d3d3d3"/>
<circle cx="910.0" cy="690.0" r="3.0" fill="#d3d3d3"/>
<circle cx="959.7" cy="631.7" r="3.0" fill="#d3d3d3"/>
<circle cx="980.0" cy="685.8" r="3.0" fill="#7c51f4"/>
<circle cx="986.2" cy="686.2" r="3.0" fill="#b69ce3"/>
<circle cx="909.2" cy="710.0" r="3.0" fill="#b69ce3"/>
<circle cx="954.2" cy="708.3" r="3.0" fill="#b093e5"/>
<circle cx="991.7" cy="715.5" r="3.0" fill="#b69ce3"/>
<circle cx="1005.3" cy="711.0" r="3.0" fill="#b69ce3"/>
<circle cx="1032.0" cy="709.7" r="3.0" fill="#9d77ec"/>
<circle cx="1041.2" cy="716.7" r="3.0" fill="#b69ce3"/>
<circle cx="1024.5" cy="725.0" r="3.0" fill="#9d77ec"/>
<circle cx="941.2" cy="725.5" r="3.0" fill="#b69ce3"/>
<circle cx="916.3" cy="747.8" r="3.0" fill="#b69ce3"/>
<circle cx="923.7" cy="762.2" r="3.0" fill="#966eee"/>
<circle cx="910.5" cy="767.0" r="3.0" fill="#5932fa"/>
<circle cx="918.0" cy="765.8" r="3.0" fill="#9d77ec"/>
<circle cx="920.3" cy="772.2" r="3.0" fill="#b093e5"/>
<circle cx="915.0" cy="777.0" r="3.0" fill="#a480ea"/>
<circle cx="918.3" cy="779.2" r="3.0" fill="#a480ea"/>
<circle cx="919.3" cy="784.2" r="3.0" fill="#b69ce3"/>
<circle cx="914.0" cy="787.0" r="3.0" fill="#966eee"/>
<circle cx="935.8" cy="774.2" r="3.0" fill="#8e65f0"/>
<circle cx="937.8" cy="781.7" r="3.0" fill="#b69ce3"/>
<circle cx="944.7" cy="765.8" r="3.0" fill="#b69ce3"/>
<circle cx="963.0" cy="770.0" r="3.0" fill="#b69ce3"/>
<circle cx="973.3" cy="763.7" r="3.0" fill="#b69ce3"/>
<circle cx="995.3" cy="774.2" r="3.0" fill="#b69ce3"/>
<circle cx="572.0" cy="757.3" r="3.0" fill="#d3d3d3"/>
<circle cx="552.7" cy="789.3" r="3.0" fill="#d3d3d3"/>
<circle cx="552.6" cy="794.5" r="3.0" fill="#d3d3d3"/>
<circle cx="600.7" cy="778.0" r="3.0" fill="#d3d3d3"/>
<circle cx="605.3" cy="777.3" r="3.0" fill="#d3d3d3"/>
<circle cx="613.0" cy="778.0" r="3.0" fill="#d3d3d3"/>
<circle cx="610.0" cy="789.0" r="3.0" fill="#d3d3d3"/>
<circle cx="664.0" cy="720.0" r="3.0" fill="#d3d3d3"/>
<circle cx="657.0" cy="718.0" r="3.0" fill="#d3d3d3"/>
<circle cx="627.6" cy="660.7" r="3.0" fill="#b093e5"/>
<circle cx="609.7" cy="681.7" r="3.0" fill="#b093e5"/>
<circle cx="615.5" cy="692.0" r="3.0" fill="#b093e5"/>
<circle cx="650.9" cy="693.2" r="3.0" fill="#b093e5"/>
<circle cx="597.1" cy="719.3" r="3.0" fill="#b093e5"/>
<circle cx="588.4" cy="738.7" r="3.0" fill="#b093e5"/>
<circle cx="677.3" cy="734.7" r="3.0" fill="#b093e5"/>
<circle cx="677.0" cy="736.5" r="3.0" fill="#b093e5"/>
<circle cx="677.1" cy="740.0" r="3.0" fill="#b093e5"/>
<circle cx="563.3" cy="770.7" r="3.0" fill="#b093e5"/>
<circle cx="595.1" cy="776.3" r="3.0" fill="#b093e5"/>
<circle cx="610.3" cy="784.0" r="3.0" fill="#8e65f0"/>
<circle cx="610.3" cy="785.5" r="3.0" fill="#8e65f0"/>
<circle cx="613.4" cy="910.5" r="3.0" fill="#d3d3d3"/>
<circle cx="628.0" cy="876.4" r="3.0" fill="#d3d3d3"/>
<circle cx="603.5" cy="844.1" r="3.0" fill="#aa89e7"/>
<circle cx="612.2" cy="841.3" r="3.0" fill="#8e65f0"/>
<circle cx="610.6" cy="848.4" r="3.0" fill="#aa89e7"/>
<circle cx="612.2" cy="853.2" r="3.0" fill="#b093e5"/>
<circle cx="613.8" cy="860.0" r="3.0" fill="#b093e5"/>
<circle cx="618.5" cy="870.1" r="3.0" fill="#b093e5"/>
<circle cx="624.1" cy="884.0" r="3.0" fill="#b093e5"/>
<circle cx="624.1" cy="890.1" r="3.0" fill="#9d77ec"/>
<circle cx="634.0" cy="920.2" r="3.0" fill="#b093e5"/>
<circle cx="639.4" cy="918.4" r="3.0" fill="#b093e5"/>
<circle cx="734.5" cy="813.3" r="3.0" fill="#d3d3d3"/>
<circle cx="733.3" cy="819.7" r="3.0" fill="#d3d3d3"/>
<circle cx="745.2" cy="784.0" r="3.0" fill="#d3d3d3"/>
<circle cx="707.5" cy="834.2" r="3.0" fill="#966eee"/>
<circle cx="711.0" cy="839.5" r="3.0" fill="#b093e5"/>
<circle cx="713.5" cy="849.2" r="3.0" fill="#b093e5"/>
<circle cx="749.8" cy="716.0" r="3.0" fill="#d3d3d3"/>
<circle cx="710.5" cy="722.8" r="3.0" fill="#b093e5"/>
<circle cx="753.8" cy="793.3" r="3.0" fill="#b093e5"/>
<circle cx="791.0" cy="785.5" r="3.0" fill="#7248f6"/>
<circle cx="806.7" cy="778.0" r="3.0" fill="#7c51f4"/>
<circle cx="808.0" cy="777.0" r="3.0" fill="#7c51f4"/>
<circle cx="803.0" cy="783.3" r="3.0" fill="#7c51f4"/>
<circle cx="807.5" cy="794.5" r="3.0" fill="#7c51f4"/>
<circle cx="808.0" cy="796.5" r="3.0" fill="#7c51f4"/>
<circle cx="801.5" cy="793.0" r="3.0" fill="#8e65f0"/>
<circle cx="798.5" cy="782.5" r="3.0" fill="#b093e5"/>
<circle cx="812.0" cy="796.0" r="3.0" fill="#b093e5"/>
<circle cx="806.0" cy="787.0" r="3.0" fill="#966eee"/>
<circle cx="496.0" cy="907.7" r="3.0" fill="#d3d3d3"/>
<circle cx="503.2" cy="903.7" r="3.0" fill="#d3d3d3"/>
<circle cx="504.0" cy="910.4" r="3.0" fill="#d3d3d3"/>
<circle cx="507.9" cy="909.6" r="3.0" fill="#d3d3d3"/>
<circle cx="524.8" cy="909.6" r="3.0" fill="#d3d3d3"/>
<circle cx="507.1" cy="916.0" r="3.0" fill="#d3d3d3"/>
<circle cx="511.1" cy="932.6" r="3.0" fill="#d3d3d3"/>
<circle cx="511.5" cy="935.3" r="3.0" fill="#d3d3d3"/>
<circle cx="515.0" cy="952.0" r="3.0" fill="#d3d3d3"/>
<circle cx="479.7" cy="1029.2" r="3.0" fill="#d3d3d3"/>
<circle cx="509.2" cy="919.1" r="3.0" fill="#b093e5"/>
<circle cx="508.7" cy="923.1" r="3.0" fill="#b093e5"/>
<circle cx="518.2" cy="969.3" r="3.0" fill="#b093e5"/>
<circle cx="519.5" cy="976.4" r="3.0" fill="#966eee"/>
<circle cx="521.4" cy="984.0" r="3.0" fill="#b093e5"/>
<circle cx="529.3" cy="988.0" r="3.0" fill="#b093e5"/>
<circle cx="533.2" cy="990.4" r="3.0" fill="#b093e5"/>
<circle cx="532.9" cy="1002.2" r="3.0" fill="#b093e5"/>
<circle cx="528.2" cy="1004.9" r="3.0" fill="#b093e5"/>
<circle cx="520.7" cy="1010.2" r="3.0" fill="#b093e5"/>
</g>
<g stroke-width="6.0" stroke-linecap="round" fill="none"><path stroke="#9168ef" d="M335.3 773.6h0M401.0 838.6h0M385.1 824.8h0M350.4 746.3h0M342.2 734.8h0M382.7 775.5h0M326.1 827.9h0M329.9 764.9h0M357.2 778.0h0M369.0 771.2h0M363.6 731.5h0M315.1 776.6h0M331.9 845.7h0M351.2 815.4h0M318.2 783.6h0M354.4 787.6h0M379.0 798.4h0M299.1 824.6h0M376.0 867.2h0M358.6 721.0h0M361.1 724.0h0M324.6 755.2h0M391.2 781.8h0M334.7 748.5h0M328.9 829.2h0M317.3 756.9h0M350.8 746.6h0M349.5 789.8h0M385.9 737.3h0M380.5 826.2h0M334.5 762.7h0M309.8 841.1h0M383.0 735.8h0M389.9 798.9h0M342.5 736.0h0M360.2 784.0h0"/>
<path stroke="#b69ce3" d="M333.9 860.3h0M323.4 851.8h0M333.2 791.0h0M339.3 792.1h0M325.7 771.2h0M357.0 730.3h0M356.5 794.0h0M333.4 783.6h0M335.3 772.0h0M328.7 827.2h0M343.5 808.9h0M353.8 849.9h0M365.2 862.1h0M329.5 798.4h0M307.6 818.4h0M372.1 761.7h0M301.2 839.4h0M327.9 799.4h0M367.8 787.5h0M353.6 861.8h0M371.7 739.3h0M309.7 785.5h0M316.2 822.0h0M375.0 820.5h0M349.6 756.4h0M364.0 793.4h0M330.2 857.1h0M387.5 784.9h0M348.9 858.9h0M350.8 752.7h0M410.6 809.4h0M309.7 797.3h0M365.0 785.9h0M310.5 840.4h0M316.7 858.3h0M376.6 727.8h0M343.1 771.9h0M390.5 736.9h0M387.4 741.5h0M301.5 813.5h0M398.4 833.0h0M370.5 726.4h0M317.5 805.9h0M400.2 818.9h0M347.3 758.4h0M305.7 833.5h0M361.1 759.7h0M381.4 731.8h0M385.3 854.6h0M394.9 809.0h0M319.0 789.0h0M349.5 838.5h0M369.7 810.2h0M297.9 836.9h0M311.2 823.0h0M329.5 859.0h0M330.4 809.3h0M301.4 823.1h0M375.6 780.9h0M368.6 785.9h0M384.3 784.4h0M369.1 760.1h0M323.7 856.2h0M369.9 748.1h0M360.4 800.4h0M362.9 800.6h0M379.7 801.6h0M313.1 835.8h0M317.7 813.8h0M345.8 807.8h0M372.4 790.8h0M392.2 797.8h0M400.4 776.4h0M296.6 837.0h0M344.7 829.9h0M349.4 732.6h0M319.1 772.8h0M340.9 841.6h0M387.6 789.9h0M383.7 809.2h0M307.9 833.0h0M375.6 757.4h0M348.3 822.7h0M319.4 829.0h0M371.0 817.8h0M350.7 797.8h0"/>
<path stroke="#d3d3d3" d="M498.0 875.0h0M496.9 876.7h0M355.5 834.1h0M436.4 829.4h0M472.4 871.6h0M339.5 849.6h0M490.6 882.1h0M402.1 788.0h0M351.5 852.3h0M462.4 857.2h0M460.0 847.3h0M474.1 862.6h0M348.6 810.1h0M393.5 861.9h0M388.2 827.3h0M315.4 830.7h0M360.8 820.9h0M358.0 862.3h0M402.9 839.9h0M417.7 844.5h0M379.3 832.9h0M390.5 842.6h0M360.8 843.6h0M343.8 846.1h0M360.2 847.8h0M469.8 856.7h0M367.2 770.1h0M505.4 876.5h0M373.2 830.0h0M506.9 881.0h0M369.0 841.2h0M370.6 824.6h0M447.7 849.1h0M440.7 844.5h0M466.2 851.0h0M342.9 788.4h0M391.3 786.4h0M297.0 841.0h0M339.2 720.8h0M390.4 835.4h0M335.3 804.9h0M342.5 829.3h0M354.0 841.9h0M308.6 791.6h0M404.2 810.7h0M432.8 846.4h0M365.0 827.6h0M406.1 832.9h0M368.1 860.2h0M451.5 846.4h0M355.2 856.2h0M384.3 846.2h0M363.8 822.9h0M344.9 837.2h0M457.5 862.6h0M366.3 746.4h0M385.0 767.4h0M507.7 874.3h0M358.2 862.9h0M417.1 825.3h0M343.3 861.2h0M341.3 800.5h0M380.5 871.7h0M353.3 750.3h0M430.2 827.4h0M463.5 842.5h0M341.8 840.4h0M329.6 726.3h0M491.6 878.5h0M352.0 828.3h0M344.8 861.0h0M357.9 822.2h0M423.5 831.8h0M389.1 770.2h0M358.8 799.4h0M481.5 858.8h0M388.5 816.5h0M426.6 828.0h0M336.9 794.8h0M388.5 813.2h0M441.5 834.2h0M346.4 849.8h0M461.9 867.2h0M464.2 861.6h0M373.8 837.0h0M434.7 840.5h0M436.8 852.7h0M378.3 857.5h0M465.8 861.5h0M425.7 835.0h0M398.8 830.8h0M317.7 845.7h0M389.9 831.1h0M487.1 869.3h0M434.5 842.8h0M318.5 787.7h0M296.3 841.5h0M403.9 791.8h0M336.7 844.7h0M430.1 830.4h0M504.2 878.8h0M357.7 831.6h0M415.2 831.6h0M383.1 842.7h0M405.5 808.5h0M493.1 873.1h0M326.3 860.7h0M454.5 871.7h0M381.1 744.6h0M400.6 797.8h0M389.4 854.0h0M386.3 773.0h0M428.8 846.0h0M369.1 828.5h0M379.1 856.7h0M373.5 857.3h0M419.9 830.7h0M396.1 802.6h0M406.6 814.7h0M445.4 843.6h0M441.6 860.3h0M428.3 822.9h0M313.8 856.2h0M385.8 804.2h0M386.7 806.5h0M423.9 839.0h0M364.2 834.3h0M499.7 871.6h0M304.1 799.3h0M371.2 859.6h0M450.5 839.1h0M453.5 847.3h0M372.4 866.3h0M347.9 847.4h0M449.7 849.7h0M495.7 880.5h0M429.3 847.1h0M366.5 835.4h0M326.0 849.7h0M446.6 866.9h0M356.2 821.2h0M344.0 825.9h0M331.6 848.7h0M433.9 835.0h0M448.6 841.6h0M490.3 875.2h0M419.8 822.3h0M335.2 825.9h0M448.3 870.7h0M382.0 849.8h0M375.3 862.3h0M364.7 857.3h0M355.5 780.5h0M301.7 802.3h0M386.1 757.4h0M354.8 827.4h0M326.3 764.6h0M488.4 872.5h0M404.2 833.4h0M344.1 817.8h0M345.5 790.3h0M306.2 844.4h0M492.0 884.9h0M373.6 810.1h0M360.4 819.4h0M478.3 871.5h0M355.2 784.3h0M369.8 866.2h0M463.9 857.1h0M458.6 841.2h0M380.5 848.2h0M411.6 846.2h0M466.4 849.0h0M381.1 750.0h0M398.1 829.7h0M395.9 776.7h0M380.7 852.9h0M447.6 862.6h0M310.4 781.2h0M316.3 855.2h0M431.1 843.2h0M442.5 850.2h0M327.6 844.3h0M421.4 822.5h0M442.2 835.8h0M399.1 776.7h0M364.9 779.0h0M389.9 868.5h0M379.5 845.5h0M471.5 855.4h0M316.1 785.3h0M455.4 847.1h0M383.0 792.5h0M381.7 861.9h0M378.2 849.3h0M397.6 780.4h0M395.0 790.7h0M363.3 837.8h0M366.8 758.1h0M381.6 858.5h0M346.5 802.9h0M451.1 869.6h0M498.0 885.3h0M490.6 872.6h0"/>
<path stroke="#b093e5" d="M341.8 821.8h0M337.0 820.4h0M351.5 804.1h0M337.9 814.0h0M386.7 843.7h0M296.6 821.1h0M355.7 830.5h0M363.0 752.0h0M302.7 819.0h0M326.7 774.7h0M394.9 772.5h0M360.8 727.1h0M376.7 833.8h0M305.4 805.6h0M375.4 824.1h0M348.3 788.0h0M301.1 831.6h0M323.3 789.6h0M361.0 839.0h0M395.1 785.6h0M319.2 781.7h0M326.9 751.0h0M331.7 834.4h0M369.0 761.7h0M324.3 791.5h0M394.9 787.1h0M378.6 767.0h0M312.9 782.7h0M390.4 770.9h0M298.6 833.3h0M411.6 833.5h0M401.6 815.0h0M384.4 775.8h0M379.8 745.2h0M383.3 822.3h0M386.7 777.1h0M334.8 764.5h0M344.2 820.6h0M365.8 790.2h0M345.5 811.0h0M316.6 847.7h0M400.5 827.3h0M364.6 748.9h0M339.3 779.8h0M320.1 833.5h0M333.4 797.2h0M333.7 772.7h0"/>
<path stroke="#9d77ec" d="M385.8 743.1h0M339.6 734.4h0M343.2 808.1h0M305.0 815.9h0M356.4 734.9h0M338.3 745.5h0M328.8 776.2h0M371.9 725.6h0M342.2 826.1h0M374.8 816.7h0M335.7 739.7h0M333.2 843.7h0M349.6 752.2h0M326.0 794.9h0M313.0 776.1h0M323.9 745.2h0M304.5 819.8h0M329.7 735.0h0M328.8 752.9h0M315.3 818.4h0M332.2 852.0h0"/>
<path stroke="#a886e8" d="M344.0 756.3h0M369.7 754.1h0M318.0 810.6h0M340.8 793.0h0M341.5 765.9h0M328.6 739.1h0M368.9 741.4h0M329.5 790.9h0M331.7 804.7h0M352.7 738.5h0M377.1 738.9h0M336.4 729.2h0M350.6 725.0h0M326.0 759.6h0M371.0 744.3h0M366.8 736.5h0M391.9 807.1h0M361.6 858.9h0M324.7 749.1h0M331.7 732.8h0M343.3 739.6h0M383.0 794.3h0M359.4 795.9h0M349.5 807.9h0M371.3 788.7h0"/>
<path stroke="#bba5e0" d="M363.1 743.8h0M304.5 847.4h0M329.0 814.5h0M326.5 825.9h0M365.5 780.7h0M322.1 819.3h0M341.4 795.7h0M401.5 774.3h0M322.7 841.4h0M357.0 814.9h0M380.1 866.0h0M375.2 772.7h0M347.9 794.7h0M373.0 746.4h0M377.9 769.0h0M350.6 806.5h0M349.0 773.6h0M365.5 811.8h0M361.7 814.0h0M308.1 830.0h0M381.3 787.1h0M330.1 836.7h0M416.2 820.8h0M350.3 727.3h0M339.6 788.0h0M383.3 784.6h0M408.1 839.3h0M397.3 782.4h0M311.5 854.2h0M339.9 775.0h0M310.2 851.5h0M383.3 836.1h0M343.4 863.9h0M319.7 854.9h0M389.3 840.8h0M378.2 753.2h0M356.4 771.0h0M320.2 849.5h0M378.5 808.8h0M312.1 857.3h0M348.9 802.0h0M358.9 800.8h0M297.6 820.5h0M292.3 827.0h0"/>
<path stroke="#744af5" d="M350.6 802.4h0M327.7 770.8h0M412.1 818.8h0"/>
<path stroke="#8459f2" d="M342.9 722.5h0M381.8 778.6h0M318.3 828.7h0M330.2 735.9h0M300.7 814.8h0M336.8 724.6h0M357.7 731.8h0M373.3 758.7h0M340.2 824.5h0M350.2 767.0h0M372.4 748.0h0M371.7 755.4h0M342.8 732.8h0M373.0 786.5h0M385.9 755.5h0"/>
<path stroke="#6139f9" d="M337.0 817.1h0M304.3 823.2h0"/>
<path stroke="#b69ce3" d="M345.7 788.6h0M337.7 857.5h0M411.3 811.4h0M371.9 864.6h0M321.5 816.3h0M408.4 814.0h0M335.4 815.0h0M381.7 771.2h0M384.9 809.8h0M303.7 806.9h0M352.5 819.1h0M343.0 832.6h0M394.8 827.8h0M343.1 822.2h0M332.7 775.3h0M366.4 785.2h0M345.9 866.6h0M368.3 752.7h0M353.6 770.4h0M403.1 826.1h0M391.4 800.2h0M401.2 803.2h0M398.7 787.6h0M308.5 823.0h0M375.8 778.8h0M328.6 784.8h0M367.3 722.7h0M305.3 825.7h0M341.2 813.9h0M311.2 789.6h0M382.0 765.4h0M385.5 830.0h0M323.8 812.2h0M346.4 793.8h0M363.0 830.8h0M350.1 789.7h0M407.2 827.5h0M327.8 807.2h0M373.1 850.2h0M378.8 785.7h0M364.2 758.5h0M308.4 794.0h0M315.2 842.8h0M305.7 802.1h0M339.4 834.3h0M376.4 725.8h0M331.7 793.3h0M384.5 800.6h0M341.8 800.4h0M336.2 806.8h0M381.8 811.7h0M378.3 828.5h0M306.0 809.6h0M388.3 771.0h0M357.3 763.6h0M365.6 755.7h0M359.4 803.0h0M360.7 770.3h0M350.6 843.5h0M329.5 812.1h0M320.5 791.2h0M343.8 769.9h0M352.2 848.3h0M335.8 812.3h0M300.7 827.2h0M322.9 802.8h0M338.3 765.5h0M357.1 787.0h0M338.2 753.7h0M349.3 845.4h0M320.0 822.5h0M330.9 853.7h0M350.4 770.2h0M383.5 828.2h0M315.3 793.0h0M345.0 805.8h0M330.3 774.0h0M412.5 844.5h0M411.2 824.7h0M336.0 851.5h0M351.6 813.8h0"/>
<path stroke="#d3d3d3" d="M409.5 829.7h0M448.2 851.9h0M459.4 855.2h0M506.3 882.5h0M318.0 800.7h0M320.2 859.4h0M411.1 831.1h0M323.7 837.5h0M377.0 816.7h0M366.9 829.5h0M346.5 847.2h0M319.9 843.9h0M303.6 813.5h0M349.6 837.5h0M457.7 843.9h0M377.4 838.9h0M468.3 853.9h0M308.6 841.3h0M401.4 794.4h0M367.3 765.5h0M368.3 837.1h0M319.6 820.5h0M446.8 844.5h0M447.1 855.0h0M419.3 845.5h0M459.5 865.4h0M355.2 848.8h0M409.5 799.2h0M408.5 804.8h0M442.4 839.0h0M491.9 879.8h0M372.9 771.8h0M484.9 875.4h0M364.0 854.3h0M362.0 832.4h0M445.5 866.3h0M353.4 866.3h0M451.2 837.7h0M384.7 847.1h0M376.0 809.3h0M504.0 883.7h0M394.1 831.6h0M419.0 833.2h0M478.1 870.3h0M376.4 864.7h0M478.2 858.0h0M302.6 820.7h0M452.0 858.7h0M457.4 857.5h0M361.1 851.9h0M429.0 830.0h0M380.1 741.3h0M425.1 826.2h0M404.7 837.2h0M297.6 825.5h0M368.2 862.6h0M425.5 832.0h0M399.0 839.7h0M353.1 840.3h0M387.6 803.0h0M294.7 834.9h0M330.2 846.8h0M448.8 861.4h0M468.8 847.9h0M393.8 794.1h0M344.7 859.8h0M301.3 805.0h0M447.3 840.6h0M416.6 850.1h0M500.2 870.6h0M346.5 784.5h0M383.6 832.8h0M432.1 845.1h0M434.7 849.5h0M468.5 868.0h0M399.2 827.5h0M318.2 840.0h0M325.5 830.3h0M486.6 875.2h0M365.2 854.8h0M500.9 878.5h0M305.2 797.3h0M380.4 791.4h0M385.7 871.3h0M375.0 850.4h0M309.3 855.8h0M465.4 855.1h0M366.5 784.1h0M409.2 819.0h0M476.0 868.9h0M395.3 798.8h0M494.4 870.3h0M382.6 840.0h0M389.3 823.8h0M385.9 852.7h0M447.6 836.0h0M399.9 828.4h0M360.0 855.9h0M349.2 843.7h0M340.1 827.1h0M326.0 737.9h0M350.3 841.0h0M338.3 820.6h0M460.2 853.7h0M352.7 780.2h0M445.5 846.6h0M372.5 735.4h0M378.6 726.1h0M455.5 866.4h0M374.8 842.8h0M372.1 843.7h0M512.7 876.2h0M366.4 815.1h0M315.2 847.4h0M349.0 860.9h0M308.5 805.2h0M392.4 814.3h0M437.1 833.7h0M429.7 840.1h0M454.1 868.8h0M354.0 865.3h0M384.4 819.4h0M373.6 835.0h0M358.9 856.6h0M374.5 840.4h0M482.9 872.6h0M374.4 738.4h0M424.8 837.1h0M382.6 782.6h0M464.2 844.2h0M462.1 846.6h0M471.1 859.3h0M325.6 853.2h0M393.8 827.3h0M444.5 867.9h0M349.3 864.7h0M423.5 818.9h0M503.3 875.0h0M417.8 836.6h0M389.2 834.7h0M456.7 870.9h0M437.4 830.4h0M458.8 858.1h0M315.0 819.9h0M438.8 864.5h0M410.8 804.4h0M382.7 854.0h0M351.2 777.0h0M423.5 826.1h0M367.0 798.9h0M341.4 838.1h0M456.2 856.5h0M493.0 884.0h0M419.8 826.7h0M365.7 838.8h0M368.9 856.3h0M383.2 870.0h0M370.7 827.4h0M356.2 825.1h0M400.4 784.1h0M383.4 835.4h0M478.6 853.7h0M387.3 841.9h0M302.9 838.0h0M360.2 828.7h0M347.1 866.3h0M374.2 815.7h0M386.1 866.0h0M397.9 800.4h0M333.7 815.2h0M445.7 865.1h0M469.4 850.7h0M377.4 754.7h0M445.7 844.4h0M420.5 819.8h0M361.0 861.7h0M370.3 797.4h0M448.3 859.0h0M368.9 722.3h0M437.1 856.4h0M449.5 866.1h0M476.4 872.8h0M419.9 837.5h0M388.8 845.0h0M404.3 832.3h0M352.5 755.0h0M383.8 845.8h0M386.1 862.6h0M432.2 838.9h0M413.9 811.9h0M392.9 848.0h0M450.3 857.0h0M459.6 845.1h0M369.4 799.8h0M361.2 825.2h0M499.6 884.0h0M441.0 859.7h0M349.2 827.4h0M433.9 836.0h0M339.6 817.5h0M445.2 837.9h0M471.1 864.9h0M328.6 832.5h0M384.3 868.0h0M487.0 876.8h0M420.3 840.1h0M451.5 848.3h0M381.7 866.3h0M394.8 822.1h0M392.2 840.7h0M310.3 856.3h0M481.3 870.2h0M448.4 868.6h0M375.5 869.4h0M503.1 871.2h0M454.7 844.0h0M403.1 817.7h0M380.2 868.8h0M375.0 859.1h0M326.9 820.9h0M469.6 872.7h0M316.1 780.7h0M475.0 865.5h0M381.7 871.7h0"/>
<path stroke="#744af5" d="M332.4 739.9h0M317.4 775.3h0M319.3 758.1h0M354.3 754.0h0M368.8 781.2h0"/>
<path stroke="#9168ef" d="M336.7 859.7h0M346.1 725.4h0M341.3 726.6h0M307.5 850.3h0M391.8 780.3h0M340.3 759.8h0M379.1 758.7h0M320.4 762.5h0M365.1 805.2h0M308.9 801.1h0M339.2 727.1h0M367.6 771.5h0M327.0 735.5h0M302.9 800.1h0M364.6 779.2h0M305.4 852.0h0M355.1 815.8h0M334.2 746.4h0M356.3 807.5h0M354.9 743.7h0M365.1 727.1h0M374.1 801.9h0M349.2 739.1h0M339.9 751.7h0M334.0 753.6h0M374.1 787.4h0M355.1 729.1h0M322.7 799.5h0M341.2 722.2h0M319.6 766.4h0M364.6 743.9h0M336.4 734.7h0M339.3 738.5h0M350.6 731.1h0M340.8 758.9h0M345.1 732.5h0"/>
<path stroke="#b093e5" d="M378.7 781.6h0M290.3 829.5h0M360.6 762.6h0M343.1 778.0h0M334.7 783.9h0M302.6 810.6h0M353.2 778.7h0M407.1 834.5h0M384.7 754.4h0M336.2 832.8h0M342.3 854.1h0M352.0 849.9h0M374.4 776.0h0M395.9 774.3h0M398.3 768.1h0M334.8 780.0h0M353.9 808.0h0M367.5 743.3h0M367.3 802.0h0M320.8 847.9h0M385.1 814.1h0M392.6 769.1h0M348.4 736.0h0M319.1 839.5h0M381.1 762.5h0M365.7 825.8h0M298.0 815.2h0M345.9 830.6h0M324.7 831.4h0M333.5 812.8h0M310.0 791.9h0M332.0 828.4h0M373.4 784.0h0M388.6 736.2h0M407.1 818.6h0M383.6 733.9h0M384.7 793.5h0M316.7 816.3h0M327.4 780.7h0M362.4 810.8h0M369.6 774.9h0M338.8 844.3h0M367.7 845.4h0M377.4 750.6h0M369.0 751.0h0M387.8 763.6h0M398.2 816.7h0"/>
<path stroke="#8459f2" d="M316.5 778.9h0M357.4 816.7h0M404.7 821.7h0M361.6 777.8h0M307.2 839.3h0M324.6 782.9h0M333.1 736.8h0M335.7 759.5h0M372.1 732.7h0"/>
<path stroke="#9d77ec" d="M311.6 801.2h0M345.4 781.0h0M354.3 755.7h0M292.1 833.4h0M326.2 822.4h0M384.2 751.3h0M330.8 819.8h0M341.2 791.6h0M367.7 792.8h0M401.9 781.5h0M344.5 777.5h0M375.3 724.0h0M325.5 841.3h0M319.0 756.0h0M339.3 854.7h0M348.8 780.0h0M385.3 735.3h0M383.5 741.0h0"/>
<path stroke="#a886e8" d="M319.9 811.3h0M304.6 827.6h0M350.9 729.1h0M376.9 808.1h0M346.1 729.9h0M370.9 736.2h0M335.3 768.5h0M369.4 801.5h0M314.1 780.1h0M344.5 764.4h0M352.5 821.9h0M338.0 816.5h0M302.4 842.2h0M323.9 737.8h0"/>
<path stroke="#bba5e0" d="M389.2 858.1h0M305.8 849.5h0M380.2 773.2h0M339.6 838.5h0M348.8 856.7h0M374.5 763.4h0M376.3 826.7h0M347.9 829.3h0M407.6 837.1h0M333.0 802.8h0M357.9 836.6h0M356.2 797.7h0M341.6 834.2h0M345.7 800.4h0M312.5 845.0h0M385.3 825.6h0M336.3 838.7h0M368.2 819.6h0M395.2 817.0h0M367.7 725.0h0M354.0 810.2h0M376.2 730.6h0M344.8 773.7h0M365.7 830.9h0M322.6 778.3h0M355.7 805.3h0M385.2 821.8h0M370.5 791.6h0M381.6 854.5h0M378.8 750.5h0M345.6 854.4h0M343.2 815.5h0M316.9 824.8h0M349.0 774.6h0M317.0 771.2h0M400.6 835.3h0M387.8 762.8h0M378.4 804.9h0M330.8 834.5h0M381.0 766.6h0M337.2 792.0h0M362.7 765.0h0M400.2 769.7h0M365.2 761.6h0M318.5 831.6h0M384.1 831.2h0M376.4 797.8h0M398.1 792.6h0M382.1 815.1h0"/>
<path stroke="#d3d3d3" d="M349.2 812.6h0M365.6 854.7h0M324.8 734.9h0M357.5 833.3h0M321.6 836.2h0M438.1 865.8h0M378.0 831.8h0M501.6 874.3h0M420.1 846.9h0M456.6 851.5h0M466.8 844.9h0M497.1 883.5h0M378.8 795.1h0M394.8 864.7h0M360.5 750.7h0M473.1 850.9h0M435.8 854.8h0M468.8 864.1h0M458.7 849.8h0M417.7 846.9h0M413.8 843.2h0M367.2 778.0h0M335.8 789.4h0M381.2 862.6h0M397.4 822.2h0M460.2 863.3h0M325.5 855.9h0M371.9 780.7h0M450.2 864.2h0M377.2 801.2h0M386.5 833.4h0M304.6 843.2h0M387.6 861.8h0M441.0 848.3h0M478.3 862.2h0M317.5 852.1h0M332.7 855.7h0M384.4 791.1h0M444.7 850.7h0M363.9 821.0h0M406.4 794.2h0M345.2 795.9h0M422.3 836.2h0M358.6 787.8h0M494.9 880.5h0M443.9 859.5h0M477.4 856.7h0M421.5 843.7h0M466.8 858.2h0M325.7 782.5h0M412.0 806.7h0M389.0 808.9h0M468.4 846.4h0M326.0 847.0h0M409.7 801.3h0M365.1 851.7h0M431.3 828.3h0M353.1 795.1h0M373.8 846.8h0M467.2 866.7h0M448.7 835.6h0M314.5 827.8h0M441.2 854.7h0M473.4 869.7h0M502.3 884.6h0M485.4 865.4h0M425.7 822.3h0M413.7 816.0h0M353.2 785.5h0M445.1 856.3h0M414.4 824.3h0M354.3 852.1h0M435.6 830.5h0M353.9 799.7h0M351.2 856.0h0M367.0 858.0h0M384.9 739.5h0M471.3 862.2h0M339.9 864.4h0M455.0 851.5h0M406.0 810.2h0M380.3 815.8h0M363.5 721.8h0M492.8 877.1h0M390.6 837.5h0M391.2 849.4h0M429.9 837.5h0M408.4 827.5h0M499.2 884.9h0M406.3 799.3h0M313.3 859.5h0M306.8 833.3h0M378.9 837.6h0M397.8 817.3h0M388.0 848.8h0M336.0 855.6h0M315.6 826.5h0M350.8 834.1h0M491.3 868.1h0M319.2 807.6h0M390.5 832.5h0M510.0 878.3h0M416.2 843.4h0M388.1 850.2h0M391.8 787.5h0M368.7 864.4h0M424.5 844.7h0M360.2 838.0h0M442.4 843.3h0M437.1 844.1h0M371.0 834.8h0M485.5 873.1h0M436.9 838.9h0M403.6 804.1h0M393.0 810.8h0M442.6 853.9h0M378.2 762.9h0M394.3 858.9h0M395.8 816.8h0M379.1 839.3h0M389.1 863.5h0M462.2 849.1h0M319.5 860.0h0M427.1 840.7h0M449.5 860.8h0M402.0 799.0h0M332.9 837.2h0M334.9 849.1h0M378.7 862.9h0M386.1 795.8h0M437.3 848.8h0M375.4 848.5h0M325.4 837.9h0M323.6 840.1h0M478.1 865.2h0M476.3 854.7h0M494.5 884.4h0M385.5 859.4h0M428.4 835.4h0M324.2 827.2h0M454.3 839.3h0M386.3 838.1h0M382.3 807.5h0M461.7 868.2h0M474.3 852.9h0M476.2 859.3h0M403.5 799.4h0M352.5 775.2h0M369.5 854.5h0M479.4 874.6h0M329.8 822.4h0M380.5 841.6h0M453.1 860.3h0M417.8 835.3h0M420.0 841.7h0M345.5 854.8h0M382.6 804.8h0M494.8 887.4h0M332.8 862.9h0M388.2 740.1h0M477.7 867.7h0M450.3 853.7h0M336.5 861.6h0M378.9 811.6h0M399.7 819.7h0M386.4 797.8h0M295.3 816.9h0M399.0 837.8h0M460.2 870.7h0M355.0 836.5h0M355.7 823.1h0M366.1 851.2h0M317.2 823.4h0M298.4 844.2h0M345.4 822.5h0M484.5 876.8h0M383.1 827.0h0M356.8 748.2h0M361.1 780.5h0M392.2 775.9h0M436.4 852.9h0M423.4 829.7h0M497.5 889.5h0M356.3 844.2h0M387.4 783.1h0M377.3 786.7h0M295.6 829.1h0M354.1 762.3h0M308.9 786.5h0M412.5 809.4h0M360.2 806.4h0M337.2 842.7h0M372.4 797.7h0M404.0 811.5h0M448.1 847.5h0M412.6 837.9h0M389.4 774.8h0M444.3 840.2h0M350.6 797.9h0M460.3 862.2h0M394.0 784.0h0M401.3 836.9h0M299.4 806.6h0M452.6 853.9h0M443.7 851.9h0M397.1 859.8h0M407.6 842.4h0M371.4 861.9h0M411.0 826.0h0M341.3 848.2h0M301.9 850.3h0M422.9 834.2h0M360.1 823.3h0M423.9 848.2h0M414.0 829.1h0M500.0 879.5h0M334.1 808.2h0M314.7 800.4h0M419.4 817.8h0"/>
<path stroke="#bba5e0" d="M379.1 776.9h0M363.9 815.0h0M399.1 820.9h0M311.4 816.7h0M382.5 748.5h0M352.4 773.3h0M398.7 775.8h0M311.1 800.4h0M330.7 772.8h0M333.2 799.4h0M382.3 769.2h0M379.5 797.0h0M338.1 848.2h0M362.7 826.3h0M330.9 803.1h0M378.4 784.2h0M305.8 840.5h0M366.0 796.0h0M395.9 766.8h0M363.1 723.5h0M314.4 795.5h0M308.6 795.1h0M361.3 809.2h0M367.1 805.8h0M391.6 868.7h0M380.2 736.6h0M348.6 832.4h0M330.5 846.4h0M396.8 801.9h0M308.1 810.6h0M330.1 759.3h0M323.4 794.8h0M403.6 816.6h0M323.4 846.7h0M360.6 851.5h0M346.5 754.1h0M372.4 853.5h0M380.0 734.9h0M361.2 790.8h0M364.6 803.2h0M371.3 722.4h0"/>
<path stroke="#8459f2" d="M359.9 833.5h0M341.7 746.6h0M342.7 774.6h0M353.3 723.5h0M348.9 760.5h0M323.6 762.0h0M379.0 729.1h0M297.8 811.8h0M331.5 780.7h0M392.7 813.8h0M345.9 761.2h0M308.5 800.1h0M328.4 782.2h0M314.7 773.3h0M319.7 775.6h0M317.1 766.8h0"/>
<path stroke="#b093e5" d="M324.0 769.0h0M379.4 749.1h0M326.1 814.9h0M344.1 772.9h0M359.9 765.7h0M333.9 859.1h0M362.6 740.9h0M301.4 808.2h0M352.6 794.2h0M354.3 772.4h0M315.0 802.0h0M388.5 806.6h0M392.0 800.6h0M366.7 842.2h0M353.8 829.7h0M328.9 760.4h0M360.9 744.7h0M395.1 823.9h0M376.0 748.4h0M338.2 793.0h0M364.6 812.4h0M361.8 773.6h0M360.2 743.5h0M320.5 797.9h0M368.7 814.0h0M407.8 824.3h0M330.0 780.4h0M369.2 821.9h0M377.3 746.6h0M348.5 818.3h0M352.2 863.6h0M303.1 847.0h0M368.3 734.1h0M292.5 831.1h0M371.8 765.5h0M348.5 765.6h0M302.1 835.3h0M365.5 810.5h0M342.4 819.2h0M392.8 766.1h0M321.3 795.7h0"/>
<path stroke="#b69ce3" d="M293.4 830.1h0M384.4 762.9h0M323.7 824.1h0M339.7 801.7h0M376.5 769.2h0M331.8 839.9h0M374.1 819.0h0M340.9 768.2h0M295.0 823.1h0M366.4 741.0h0M381.6 801.4h0M354.9 757.4h0M370.3 838.5h0M309.9 846.9h0M323.1 767.3h0M314.8 823.6h0M322.5 807.9h0M364.2 797.4h0M401.8 786.1h0M314.6 845.7h0M391.0 805.3h0M309.9 831.2h0M299.3 847.6h0M308.2 827.4h0M338.0 809.4h0M355.4 859.5h0M355.3 789.9h0M290.6 825.3h0M363.4 817.2h0M330.2 840.2h0M346.1 842.6h0M362.5 769.7h0M359.5 843.7h0M377.2 792.4h0M324.0 859.2h0M349.2 804.7h0M319.9 805.4h0M335.0 809.5h0M403.1 796.4h0M412.4 825.2h0M341.5 763.9h0M380.5 788.9h0M377.6 812.3h0M327.8 797.4h0M382.0 758.2h0M299.8 827.7h0M319.5 802.5h0M319.8 825.7h0M399.3 805.2h0M325.9 747.1h0M311.7 828.3h0M337.7 769.8h0M407.2 801.0h0M372.0 803.5h0M329.5 787.4h0M375.5 855.2h0M377.3 757.4h0M358.6 853.5h0M309.2 808.2h0M335.3 754.4h0M342.6 784.0h0M349.3 850.6h0M316.9 793.7h0M350.7 832.5h0M357.9 805.8h0M336.1 833.3h0M417.6 819.2h0M394.0 768.5h0M310.9 781.9h0M292.5 819.2h0M310.2 805.0h0M382.3 821.3h0M293.4 839.7h0M339.1 785.9h0M368.9 764.2h0M364.4 789.0h0"/>
<path stroke="#9168ef" d="M327.9 760.1h0M338.9 853.2h0M344.0 783.7h0M321.2 748.9h0M337.2 795.9h0M344.0 724.2h0M403.3 801.4h0M391.3 822.1h0M311.0 821.3h0M344.1 744.1h0M349.3 730.4h0M354.6 745.3h0M386.3 748.8h0M351.1 735.0h0M347.7 726.0h0M341.8 756.6h0M300.9 829.6h0M343.1 786.7h0M333.5 742.9h0M371.4 756.5h0M336.1 727.7h0M318.7 763.3h0M334.2 809.5h0M330.3 745.9h0M331.8 765.7h0M320.6 777.1h0M369.8 733.9h0M342.4 753.1h0M342.8 741.6h0M376.9 781.9h0M385.6 812.8h0M352.7 758.6h0M358.6 740.7h0M366.6 730.0h0M322.9 763.1h0M373.8 827.0h0M348.7 723.0h0M319.4 751.9h0M349.1 785.4h0M359.5 731.7h0"/>
<path stroke="#9d77ec" d="M320.2 852.4h0M360.5 753.7h0M363.5 756.8h0M338.7 760.7h0M344.0 833.3h0M313.2 790.0h0M348.3 741.8h0M333.9 728.6h0M325.6 810.4h0M327.2 766.5h0M333.8 723.2h0M328.4 728.0h0M356.9 766.2h0M346.0 733.8h0M319.6 753.8h0M355.7 730.4h0M332.3 725.1h0M368.9 835.7h0"/>
<path stroke="#744af5" d="M310.1 810.0h0M304.6 817.8h0M348.8 750.2h0M334.2 789.0h0M344.1 739.6h0M369.9 732.7h0M347.9 777.2h0M338.1 783.3h0M331.9 764.7h0M361.0 739.5h0"/>
<path stroke="#6139f9" d="M391.7 764.7h0M346.6 747.8h0M373.5 749.3h0"/>
<path stroke="#a886e8" d="M338.4 803.8h0M335.5 736.3h0M352.5 722.2h0M342.6 748.7h0M354.7 733.1h0M324.0 828.5h0M386.6 861.2h0M326.1 840.0h0M326.4 805.0h0M317.3 842.9h0M373.5 814.0h0M335.2 778.3h0M296.4 825.1h0M338.6 723.8h0M386.8 762.6h0M310.0 794.6h0M395.8 833.9h0M363.8 733.4h0M350.6 736.9h0"/>
<path stroke="#d3d3d3" d="M423.6 844.3h0M508.5 880.8h0M385.2 787.5h0M488.7 879.5h0M325.6 835.6h0M450.5 841.3h0M430.6 832.6h0M391.4 830.1h0M336.4 823.2h0M456.5 839.5h0M483.0 860.9h0M488.7 867.0h0M386.0 779.4h0M334.0 830.7h0M367.7 852.4h0M415.7 829.2h0M383.5 847.4h0M470.0 869.7h0M359.7 786.0h0M452.8 855.9h0M382.3 799.2h0M376.7 765.5h0M359.8 813.9h0M388.9 779.3h0M346.2 863.9h0M423.8 819.9h0M378.9 819.4h0M484.3 868.2h0M392.9 861.5h0M409.0 806.8h0M436.2 848.4h0M368.9 808.1h0M457.3 868.1h0M455.7 854.5h0M368.8 846.6h0M392.1 859.8h0M329.3 767.0h0M352.3 827.0h0M398.3 841.7h0M326.5 857.6h0M458.1 864.5h0M426.4 820.3h0M357.9 828.4h0M480.6 877.5h0M397.6 771.6h0M425.6 846.6h0M376.5 735.5h0M471.1 853.6h0M487.2 882.1h0M377.4 795.2h0M372.8 856.8h0M362.9 846.6h0M426.0 841.5h0M430.6 825.9h0M391.0 824.5h0M363.0 753.7h0M440.6 866.5h0M376.9 804.9h0M375.9 831.0h0M322.2 862.3h0M404.4 824.8h0M410.1 843.5h0M373.5 824.2h0M392.5 791.4h0M394.4 849.1h0M387.7 805.4h0M387.4 836.6h0M341.4 850.0h0M468.9 858.7h0M370.2 844.8h0M337.7 829.0h0M445.8 833.9h0M474.6 860.8h0M463.4 862.9h0M394.1 855.8h0M386.7 840.1h0M373.3 753.9h0M415.9 840.2h0M465.4 870.5h0M379.7 823.9h0M494.5 875.5h0M390.5 792.8h0M377.3 788.5h0M390.4 844.1h0M442.0 863.5h0M413.9 830.2h0M406.2 820.4h0M348.4 854.1h0M357.6 790.7h0M348.2 719.8h0M347.9 796.8h0M420.8 828.4h0M409.1 821.7h0M389.4 856.8h0M350.9 866.8h0M452.7 864.2h0M362.0 788.9h0M372.2 859.9h0M387.5 818.5h0M367.0 819.3h0M394.3 813.5h0M304.1 835.9h0M432.6 850.8h0M313.3 852.7h0M367.5 849.1h0M330.4 751.3h0M458.2 842.4h0M350.5 843.7h0M402.1 805.9h0M376.2 846.4h0M453.5 843.7h0M469.0 861.1h0M364.6 845.3h0M481.9 875.5h0M358.8 858.8h0M330.6 806.0h0M388.8 865.6h0M427.9 843.3h0M343.9 840.0h0M367.3 776.1h0M465.2 862.6h0M343.1 846.2h0M413.3 838.8h0M441.5 832.5h0M496.1 872.9h0M384.7 850.8h0M438.4 836.6h0M327.4 817.8h0M433.3 836.8h0M383.5 819.4h0M338.0 836.6h0M364.6 843.1h0M373.7 792.7h0M356.7 840.1h0M396.2 839.5h0M395.1 838.0h0M438.2 842.9h0M352.0 824.1h0M401.9 823.1h0M404.8 829.1h0M313.1 849.1h0M323.0 852.3h0M295.6 811.8h0M438.3 850.5h0M435.4 844.2h0M348.5 762.8h0M328.7 850.8h0M375.2 853.8h0M465.3 853.3h0M480.8 866.0h0M504.2 880.1h0M433.3 833.0h0M395.8 779.1h0M379.3 861.6h0M338.1 831.9h0M330.9 862.6h0M316.8 807.3h0M299.2 809.7h0M398.6 813.4h0M404.9 841.5h0M387.9 820.1h0M443.5 862.1h0M389.4 828.1h0M375.8 873.0h0M398.4 809.5h0M354.7 817.1h0M350.1 837.4h0M313.1 787.8h0M473.2 867.1h0M352.3 751.4h0M453.4 859.8h0M462.2 854.3h0M412.6 820.9h0M416.7 823.4h0M481.3 864.5h0M349.4 821.5h0M388.3 793.5h0M392.6 825.3h0M485.4 880.5h0M357.5 846.5h0M340.4 842.1h0M454.0 866.8h0M352.2 859.0h0"/>
<path stroke="#9168ef" d="M335.8 750.8h0M327.0 778.3h0M369.6 741.2h0M323.0 775.5h0M326.1 745.5h0M362.1 729.3h0M331.7 761.9h0M359.6 755.9h0M375.7 741.4h0M353.2 736.1h0M409.9 814.6h0M318.5 795.7h0M334.0 851.0h0M338.0 746.6h0M336.6 744.2h0M333.4 827.6h0M326.8 753.3h0M356.6 723.2h0M348.5 833.7h0M340.2 776.7h0M347.7 748.4h0M339.2 730.3h0M308.6 836.3h0M320.6 793.3h0M367.1 761.7h0M329.9 743.0h0M392.0 777.8h0M323.4 754.5h0M330.2 793.2h0M370.6 783.3h0M337.8 739.0h0M369.8 778.5h0M315.2 807.8h0M323.4 739.9h0M367.9 749.1h0M360.8 720.4h0M347.6 768.8h0M369.2 730.0h0M328.4 818.5h0M342.7 762.0h0M373.7 742.7h0M342.1 749.6h0M327.7 784.7h0M338.2 771.1h0M329.1 769.4h0M358.7 753.0h0M336.9 798.5h0"/>
<path stroke="#9d77ec" d="M363.4 839.2h0M377.6 829.3h0M357.6 809.6h0M385.9 782.0h0M325.7 739.3h0M375.8 775.9h0M364.8 738.0h0M325.8 757.2h0M345.1 719.7h0M324.8 730.2h0M360.2 735.8h0M340.7 730.2h0M371.9 768.9h0M318.2 768.2h0M354.5 738.7h0"/>
<path stroke="#bba5e0" d="M298.3 842.5h0M364.7 783.3h0M354.2 774.6h0M314.9 809.7h0M368.9 794.4h0M389.1 778.2h0M334.8 835.7h0M298.8 840.6h0M338.0 861.1h0M291.2 820.1h0M402.1 813.5h0M401.2 791.4h0M345.1 813.3h0M348.3 815.3h0M327.3 787.4h0M311.5 818.8h0M357.7 775.6h0M350.8 761.8h0M371.9 868.9h0M351.2 783.8h0M308.9 821.3h0M378.8 739.5h0M373.5 776.5h0M336.3 755.9h0M308.5 853.3h0M311.8 833.6h0M395.0 795.5h0M375.6 764.0h0M345.0 750.4h0M395.0 807.1h0M356.6 762.0h0M333.0 820.8h0M322.8 810.8h0M384.1 745.9h0M336.5 862.9h0M391.6 856.6h0M335.6 827.5h0M386.7 732.6h0M339.6 799.6h0"/>
<path stroke="#b093e5" d="M354.1 813.8h0M358.7 842.3h0M357.6 759.0h0M370.4 851.2h0M313.2 787.0h0M397.2 768.3h0M362.0 803.8h0M370.7 804.3h0M361.7 749.1h0M356.7 850.9h0M346.2 816.7h0M313.2 835.6h0M399.8 808.2h0M299.3 831.2h0M397.1 807.8h0M367.0 750.6h0M400.6 809.5h0M394.6 868.5h0M324.8 805.3h0M361.0 733.4h0M330.8 861.5h0M367.6 807.7h0M394.8 805.0h0M317.8 837.4h0M328.6 804.0h0M346.1 766.8h0M359.5 794.3h0M379.1 807.8h0M381.4 757.2h0M332.3 818.0h0M392.1 818.7h0M321.6 785.6h0M322.6 772.3h0M399.1 796.2h0M357.2 781.8h0M374.5 819.9h0M326.3 803.2h0M353.5 719.7h0M380.5 776.3h0M399.1 786.6h0M324.8 819.6h0M302.2 846.3h0M354.9 767.4h0M381.2 752.5h0M351.1 860.1h0M318.0 833.7h0M373.0 730.4h0M324.4 845.7h0M364.5 806.2h0M322.9 814.9h0M312.3 836.9h0M384.9 768.3h0M306.8 813.7h0M331.1 843.2h0M369.5 816.4h0"/>
<path stroke="#b69ce3" d="M310.4 812.4h0M387.8 767.9h0M325.9 790.2h0M376.3 760.4h0M314.3 769.9h0M320.5 782.3h0M411.0 840.9h0M319.6 841.5h0M379.9 817.1h0M382.8 796.3h0M314.1 816.7h0M342.0 859.4h0M358.5 779.2h0M336.3 803.2h0M316.8 791.9h0M363.6 730.3h0M318.1 862.2h0M364.9 789.9h0M394.9 841.0h0M335.8 852.6h0M413.2 834.7h0M361.5 775.9h0M351.8 784.3h0M371.9 799.8h0M304.8 832.1h0M351.5 809.7h0M357.0 770.8h0M354.3 800.8h0M324.2 833.5h0M390.9 864.2h0M341.1 803.3h0M391.6 852.0h0M357.5 727.6h0M375.2 800.3h0M356.7 746.0h0M361.3 765.0h0M295.9 831.8h0M371.7 723.6h0M403.6 794.1h0M377.1 836.9h0M313.9 804.8h0M296.0 816.2h0M411.5 838.1h0M376.8 737.7h0M400.8 830.5h0M380.7 760.3h0M397.0 790.7h0M358.9 813.5h0M316.1 800.0h0M318.2 850.6h0M370.4 770.9h0M369.4 870.3h0M357.5 751.9h0M392.6 867.3h0M323.8 796.2h0M311.3 825.0h0M311.4 806.1h0M319.3 768.6h0M364.0 767.7h0M369.3 831.3h0M320.2 818.6h0M338.6 767.3h0M313.6 812.1h0M339.6 757.2h0M357.4 756.6h0M333.4 756.0h0M339.8 806.8h0M342.2 856.2h0M319.5 831.2h0M389.8 789.8h0M307.4 848.9h0M366.9 768.2h0M352.7 789.3h0M389.3 758.4h0M354.3 764.5h0M336.3 765.5h0M321.0 812.9h0"/>
<path stroke="#8459f2" d="M334.0 759.6h0M373.8 832.3h0M329.2 732.0h0M357.0 737.3h0M373.6 806.6h0M372.4 845.3h0M346.2 742.6h0M353.9 821.6h0M326.2 731.2h0M384.9 729.9h0M380.4 731.2h0M363.3 771.3h0M366.4 731.5h0M331.5 770.1h0M316.1 818.8h0M333.7 734.9h0M329.9 755.7h0M333.1 778.8h0M348.3 734.6h0M368.8 765.6h0M345.1 736.3h0"/>
<path stroke="#744af5" d="M347.9 746.5h0M330.4 747.2h0M340.1 796.1h0M351.3 743.1h0M348.6 782.2h0M321.3 763.8h0M332.7 746.9h0"/>
<path stroke="#a886e8" d="M323.0 784.9h0M382.9 781.6h0M324.8 779.4h0M333.0 749.8h0M355.0 797.1h0M312.9 840.9h0M292.7 822.5h0M336.7 786.0h0M307.6 845.8h0M363.3 776.0h0M327.6 741.9h0M348.1 798.6h0M406.6 807.9h0M323.4 743.5h0M350.6 763.7h0M383.5 730.4h0M355.5 727.5h0M321.4 745.3h0M335.8 743.7h0M325.4 814.0h0M338.9 730.8h0M330.5 796.6h0M357.7 743.9h0M307.3 814.4h0M324.4 749.8h0M338.5 742.8h0M382.1 743.8h0M324.8 759.6h0M335.3 732.9h0M341.0 780.5h0M331.8 785.6h0M299.4 817.8h0M354.2 845.4h0M345.8 757.9h0M333.0 822.3h0M387.3 795.8h0M378.9 755.0h0M365.8 823.8h0"/>
<path stroke="#4926fb" d="M353.5 747.2h0"/></g>
<circle cx="346.7" cy="718.8" r="3.0" fill="#5932fa"/>
<circle cx="364.4" cy="721.3" r="3.0" fill="#3318fd"/>
<circle cx="374.8" cy="732.3" r="3.0" fill="#5932fa"/>
<circle cx="388.3" cy="732.3" r="3.0" fill="#5932fa"/>
<circle cx="349.8" cy="765.6" r="3.0" fill="#4926fb"/>
<circle cx="340.4" cy="796.9" r="3.0" fill="#3318fd"/>
<circle cx="329.2" cy="760.8" r="3.0" fill="#673df8"/>
<circle cx="356.7" cy="818.8" r="3.0" fill="#7c51f4"/>
<circle cx="413.3" cy="814.6" r="3.0" fill="#8e65f0"/>
<circle cx="372.7" cy="864.6" r="3.0" fill="#966eee"/>
<circle cx="406.0" cy="825.0" r="3.0" fill="#b396e4"/>
<circle cx="423.3" cy="828.1" r="3.0" fill="#b396e4"/>
<circle cx="429.2" cy="826.0" r="3.0" fill="#b396e4"/>
<circle cx="427.9" cy="838.5" r="3.0" fill="#b396e4"/>
<circle cx="432.0" cy="839.6" r="3.0" fill="#b396e4"/>
<circle cx="456.7" cy="842.7" r="3.0" fill="#b396e4"/>
<circle cx="458.8" cy="850.0" r="3.0" fill="#b396e4"/>
<circle cx="456.7" cy="856.3" r="3.0" fill="#b396e4"/>
<circle cx="466.5" cy="860.4" r="3.0" fill="#b396e4"/>
<circle cx="480.0" cy="869.8" r="3.0" fill="#b396e4"/>
<circle cx="485.2" cy="866.7" r="3.0" fill="#b396e4"/>
<circle cx="496.7" cy="867.7" r="3.0" fill="#b396e4"/>
<circle cx="499.8" cy="869.8" r="3.0" fill="#b396e4"/>
<circle cx="503.3" cy="874.4" r="3.0" fill="#b396e4"/>
<circle cx="383.8" cy="863.5" r="3.0" fill="#b396e4"/>
<polyline fill="none" stroke="#966eee" stroke-linecap="round" stroke-width="6.0" points="435.8,1045.8 439.5,1043.4 443.0,1041.0"/>
<circle cx="609.0" cy="843.7" r="4.2" fill="#0000ff"/>
<circle cx="607.0" cy="845.0" r="3.0" fill="#3318fd"/><!-- axes -->
<g fill="#000">
<rect x="94" y="51" width="3" height="1070"/>
<rect x="94" y="1118" width="1024" height="3"/>
<rect x="140.3" y="1121" width="3" height="3.7"/>
<rect x="306" y="1121" width="3" height="3.7"/>
<rect x="471.7" y="1121" width="3" height="3.7"/>
<rect x="637.4" y="1121" width="3" height="3.7"/>
<rect x="803.1" y="1121" width="3" height="3.7"/>
<rect x="968.9" y="1121" width="3" height="3.7"/>
<rect x="90.2" y="275.8" width="3.8" height="3"/>
<rect x="90.2" y="570" width="3.8" height="3"/>
<rect x="90.2" y="864.2" width="3.8" height="3"/>
</g>
<g font-size="31" text-anchor="middle" fill="#000">
<text transform="translate(141.8,1147.7) scale(0.95,1)">-15</text>
<text transform="translate(307.5,1147.7) scale(0.95,1)">-10</text>
<text transform="translate(473.2,1147.7) scale(0.95,1)">-5</text>
<text transform="translate(638.9,1147.7) scale(0.95,1)">0</text>
<text transform="translate(804.6,1147.7) scale(0.95,1)">5</text>
<text transform="translate(970.4,1147.7) scale(0.95,1)">10</text>
</g>
<g font-size="31" text-anchor="end" fill="#000">
<text transform="translate(88.5,287.9) scale(0.95,1)">10</text>
<text transform="translate(88.5,582.1) scale(0.95,1)">0</text>
<text transform="translate(88.5,876.3) scale(0.95,1)">-10</text>
</g>
<text transform="translate(604,1180.7) scale(0.95,1)" font-size="31.5" text-anchor="middle">umapNC_1</text>
<text transform="translate(34.2,585.5) rotate(-90) scale(0.95,1)" font-size="31.5" text-anchor="middle">umapNC_2</text>
<text transform="translate(606,37) scale(0.937,1)" font-size="36" font-weight="bold" text-anchor="middle">Gm14964</text>
<!-- legend -->
<rect x="1130" y="547.5" width="15.6" height="76.2" fill="url(#lg)"/>
<g stroke="#fff" stroke-width="1" stroke-opacity="0.6">
<line x1="1130" y1="550.35" x2="1133.1" y2="550.35"/><line x1="1142.5" y1="550.35" x2="1145.6" y2="550.35"/>
<line x1="1130" y1="569.1" x2="1133.1" y2="569.1"/><line x1="1142.5" y1="569.1" x2="1145.6" y2="569.1"/>
<line x1="1130" y1="587.4" x2="1133.1" y2="587.4"/><line x1="1142.5" y1="587.4" x2="1145.6" y2="587.4"/>
<line x1="1130" y1="605.5" x2="1133.1" y2="605.5"/><line x1="1142.5" y1="605.5" x2="1145.6" y2="605.5"/>
</g>
<g font-size="25" fill="#000">
<text x="1152.8" y="559.6">2.0</text>
<text x="1152.8" y="578.4">1.5</text>
<text x="1152.8" y="596.7">1.0</text>
<text x="1152.8" y="614.8">0.5</text>
<text x="1152.8" y="633.2">0.0</text>
</g>
</svg>
</body></html>
